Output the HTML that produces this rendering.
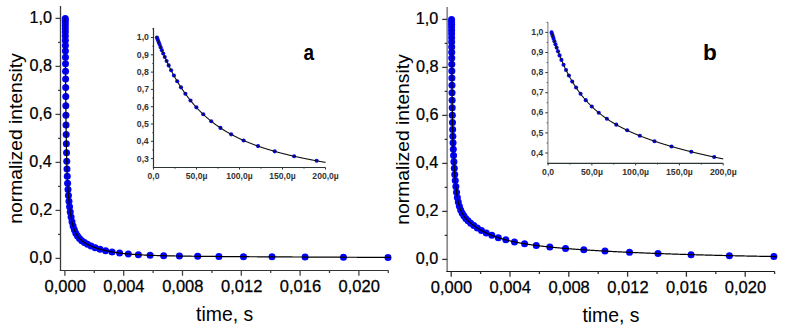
<!DOCTYPE html>
<html><head><meta charset="utf-8"><style>
html,body{margin:0;padding:0;background:#fff;}
svg{display:block;}
</style></head><body>
<svg width="792" height="335" viewBox="0 0 792 335">
<rect width="792" height="335" fill="#fff"/>
<circle cx="65.26" cy="18.40" r="3.5" fill="#0000ff"/>
<circle cx="65.27" cy="20.48" r="3.5" fill="#0000ff"/>
<circle cx="65.28" cy="22.85" r="3.5" fill="#0000ff"/>
<circle cx="65.29" cy="25.55" r="3.5" fill="#0000ff"/>
<circle cx="65.31" cy="28.63" r="3.5" fill="#0000ff"/>
<circle cx="65.32" cy="32.12" r="3.5" fill="#0000ff"/>
<circle cx="65.34" cy="36.06" r="3.5" fill="#0000ff"/>
<circle cx="65.37" cy="40.50" r="3.5" fill="#0000ff"/>
<circle cx="65.39" cy="45.47" r="3.5" fill="#0000ff"/>
<circle cx="65.42" cy="51.00" r="3.5" fill="#0000ff"/>
<circle cx="65.46" cy="57.13" r="3.5" fill="#0000ff"/>
<circle cx="65.50" cy="63.85" r="3.5" fill="#0000ff"/>
<circle cx="65.55" cy="71.19" r="3.5" fill="#0000ff"/>
<circle cx="65.61" cy="79.11" r="3.5" fill="#0000ff"/>
<circle cx="65.67" cy="87.56" r="3.5" fill="#0000ff"/>
<circle cx="65.75" cy="96.49" r="3.5" fill="#0000ff"/>
<circle cx="65.83" cy="105.79" r="3.5" fill="#0000ff"/>
<circle cx="65.93" cy="115.32" r="3.5" fill="#0000ff"/>
<circle cx="66.05" cy="124.95" r="3.5" fill="#0000ff"/>
<circle cx="66.19" cy="134.51" r="3.5" fill="#0000ff"/>
<circle cx="66.35" cy="143.83" r="3.5" fill="#0000ff"/>
<circle cx="66.53" cy="152.77" r="3.5" fill="#0000ff"/>
<circle cx="66.74" cy="161.20" r="3.5" fill="#0000ff"/>
<circle cx="66.99" cy="169.07" r="3.5" fill="#0000ff"/>
<circle cx="67.28" cy="176.37" r="3.5" fill="#0000ff"/>
<circle cx="67.61" cy="183.14" r="3.5" fill="#0000ff"/>
<circle cx="67.99" cy="189.47" r="3.5" fill="#0000ff"/>
<circle cx="68.44" cy="195.47" r="3.5" fill="#0000ff"/>
<circle cx="68.96" cy="201.21" r="3.5" fill="#0000ff"/>
<circle cx="69.56" cy="206.73" r="3.5" fill="#0000ff"/>
<circle cx="70.26" cy="212.03" r="3.5" fill="#0000ff"/>
<circle cx="71.07" cy="217.07" r="3.5" fill="#0000ff"/>
<circle cx="72.01" cy="221.76" r="3.5" fill="#0000ff"/>
<circle cx="73.10" cy="226.04" r="3.5" fill="#0000ff"/>
<circle cx="74.36" cy="229.85" r="3.5" fill="#0000ff"/>
<circle cx="75.83" cy="233.17" r="3.5" fill="#0000ff"/>
<circle cx="77.53" cy="236.03" r="3.5" fill="#0000ff"/>
<circle cx="79.50" cy="238.50" r="3.5" fill="#0000ff"/>
<circle cx="81.79" cy="240.66" r="3.5" fill="#0000ff"/>
<circle cx="84.44" cy="242.59" r="3.5" fill="#0000ff"/>
<circle cx="87.52" cy="244.37" r="3.5" fill="#0000ff"/>
<circle cx="91.09" cy="246.06" r="3.5" fill="#0000ff"/>
<circle cx="95.23" cy="247.68" r="3.5" fill="#0000ff"/>
<circle cx="100.04" cy="249.21" r="3.5" fill="#0000ff"/>
<circle cx="105.61" cy="250.63" r="3.5" fill="#0000ff"/>
<circle cx="112.08" cy="251.91" r="3.5" fill="#0000ff"/>
<circle cx="119.58" cy="253.02" r="3.5" fill="#0000ff"/>
<circle cx="128.28" cy="253.96" r="3.5" fill="#0000ff"/>
<circle cx="138.37" cy="254.71" r="3.5" fill="#0000ff"/>
<circle cx="150.08" cy="255.29" r="3.5" fill="#0000ff"/>
<circle cx="163.66" cy="255.73" r="3.5" fill="#0000ff"/>
<circle cx="179.41" cy="256.05" r="3.5" fill="#0000ff"/>
<circle cx="197.69" cy="256.30" r="3.5" fill="#0000ff"/>
<circle cx="218.89" cy="256.50" r="3.5" fill="#0000ff"/>
<circle cx="243.48" cy="256.69" r="3.5" fill="#0000ff"/>
<circle cx="272.00" cy="256.86" r="3.5" fill="#0000ff"/>
<circle cx="305.09" cy="257.04" r="3.5" fill="#0000ff"/>
<circle cx="343.47" cy="257.22" r="3.5" fill="#0000ff"/>
<circle cx="387.99" cy="257.39" r="3.5" fill="#0000ff"/>
<path d="M65.25,16.76 L65.27,19.98 L65.28,23.14 L65.30,26.23 L65.31,29.26 L65.32,32.22 L65.34,35.13 L65.35,37.97 L65.37,40.76 L65.38,43.49 L65.40,46.16 L65.41,48.78 L65.43,51.35 L65.44,53.86 L65.46,56.32 L65.47,58.74 L65.48,61.10 L65.50,63.42 L65.51,65.69 L65.53,67.92 L65.54,70.10 L65.56,72.24 L65.57,74.33 L65.59,76.39 L65.60,78.40 L65.62,80.37 L65.63,82.31 L65.64,84.21 L65.66,86.07 L65.67,87.89 L65.69,89.68 L65.70,91.43 L65.72,93.15 L65.73,94.84 L65.75,96.49 L65.76,98.12 L65.78,99.71 L65.79,101.27 L65.80,102.80 L65.82,104.30 L65.83,105.78 L65.85,107.23 L65.86,108.65 L65.88,110.04 L65.89,111.41 L65.91,112.75 L65.92,114.07 L65.94,115.36 L65.95,116.63 L65.96,117.88 L65.98,119.10 L65.99,120.30 L66.01,121.48 L66.02,122.64 L66.04,123.78 L66.05,124.89 L66.07,125.99 L66.08,127.07 L66.10,128.13 L66.11,129.17 L66.12,130.19 L66.14,131.20 L66.15,132.18 L66.17,133.15 L66.18,134.11 L66.20,135.04 L66.21,135.97 L66.23,136.87 L66.24,137.76 L66.26,138.64 L66.27,139.50 L66.28,140.34 L66.30,141.18 L66.31,142.00 L66.33,142.80 L66.34,143.59 L66.36,144.37 L66.37,145.14 L66.39,145.89 L66.40,146.64 L66.42,147.37 L66.43,148.09 L66.44,148.79 L66.46,149.49 L66.47,150.18 L66.49,150.85 L66.50,151.52 L66.52,152.17 L66.53,152.82 L66.55,153.45 L66.56,154.08 L66.58,154.70 L66.59,155.30 L66.60,155.90 L66.62,156.49 L66.63,157.07 L66.65,157.64 L66.66,158.21 L66.68,158.76 L66.69,159.31 L66.71,159.85 L66.72,160.39 L66.74,160.91 L66.75,161.43 L66.76,161.94 L66.78,162.45 L66.79,162.94 L66.81,163.44 L66.82,163.92 L66.84,164.40 L66.85,164.87 L66.87,165.33 L66.88,165.79 L66.90,166.25 L66.91,166.69 L66.92,167.14 L66.94,167.57 L66.95,168.00 L66.97,168.43 L66.98,168.85 L67.00,169.26 L67.01,169.67 L67.03,170.08 L67.04,170.48 L67.06,170.88 L67.07,171.27 L67.08,171.65 L67.10,172.03 L67.11,172.41 L67.13,172.78 L67.14,173.15 L67.16,173.52 L67.17,173.88 L67.19,174.23 L67.20,174.59 L67.22,174.94 L67.23,175.28 L67.24,175.62 L67.26,175.96 L67.27,176.29 L67.29,176.62 L67.30,176.95 L67.32,177.27 L67.33,177.60 L67.35,177.91 L67.36,178.23 L67.38,178.54 L67.39,178.84 L67.40,179.15 L67.42,179.45 L67.43,179.75 L67.45,180.04 L67.46,180.34 L67.48,180.63 L67.49,180.92 L67.51,181.20 L67.52,181.48 L67.54,181.76 L67.55,182.04 L67.56,182.31 L67.58,182.59 L67.59,182.85 L67.61,183.12 L67.62,183.39 L67.64,183.65 L67.65,183.91 L67.67,184.17 L67.68,184.42 L67.70,184.68 L67.71,184.93 L67.72,185.18 L67.74,185.43 L67.75,185.67 L67.77,185.92 L67.78,186.16 L67.80,186.40 L67.81,186.63 L67.83,186.87 L67.84,187.11 L67.86,187.34 L67.87,187.57 L67.88,187.80 L67.90,188.02 L67.91,188.25 L67.93,188.47 L67.94,188.69 L67.96,188.92 L67.97,189.13 L67.99,189.35 L68.00,189.57 L68.02,189.78 L68.03,189.99 L68.04,190.21 L68.06,190.41 L68.07,190.62 L68.09,190.83 L68.10,191.04 L68.12,191.24 L68.13,191.44 L68.15,191.64 L68.15,191.64 L68.25,193.09 L68.36,194.48 L68.47,195.80 L68.58,197.07 L68.68,198.28 L68.79,199.46 L68.90,200.58 L69.01,201.67 L69.11,202.72 L69.22,203.73 L69.33,204.72 L69.44,205.66 L69.54,206.58 L69.65,207.47 L69.76,208.34 L69.87,209.18 L69.97,209.99 L70.08,210.78 L70.19,211.55 L70.30,212.29 L70.40,213.02 L70.51,213.72 L70.62,214.41 L70.73,215.07 L70.84,215.72 L70.94,216.35 L71.05,216.96 L71.16,217.56 L71.27,218.14 L71.37,218.71 L71.48,219.26 L71.59,219.79 L71.70,220.32 L71.80,220.83 L71.91,221.32 L72.02,221.81 L72.13,222.28 L72.23,222.74 L72.34,223.19 L72.45,223.62 L72.56,224.05 L72.66,224.46 L72.77,224.87 L72.88,225.26 L72.99,225.65 L73.09,226.03 L73.20,226.39 L73.31,226.75 L73.42,227.10 L73.52,227.44 L73.63,227.78 L73.74,228.10 L73.85,228.42 L73.95,228.73 L74.06,229.04 L74.17,229.33 L74.28,229.62 L74.38,229.91 L74.49,230.19 L74.60,230.46 L74.71,230.72 L74.82,230.98 L74.92,231.24 L75.03,231.49 L75.14,231.73 L75.25,231.97 L75.35,232.20 L75.46,232.43 L75.57,232.65 L75.68,232.87 L75.78,233.08 L75.89,233.29 L76.00,233.50 L76.11,233.70 L76.21,233.90 L76.32,234.09 L76.43,234.28 L76.54,234.47 L76.64,234.65 L76.75,234.83 L76.86,235.01 L76.97,235.18 L77.07,235.35 L77.18,235.52 L77.29,235.68 L77.40,235.84 L77.50,236.00 L77.61,236.16 L77.72,236.31 L77.83,236.46 L77.93,236.61 L78.04,236.75 L78.15,236.89 L78.26,237.03 L78.36,237.17 L78.47,237.31 L78.58,237.44 L78.69,237.57 L78.79,237.70 L78.90,237.83 L79.01,237.95 L79.12,238.08 L79.23,238.20 L79.33,238.32 L79.44,238.44 L79.55,238.55 L79.66,238.67 L79.76,238.78 L79.87,238.89 L79.98,239.00 L80.09,239.11 L80.19,239.22 L80.30,239.32 L80.41,239.43 L80.52,239.53 L80.62,239.63 L80.73,239.73 L80.84,239.83 L80.95,239.93 L81.05,240.03 L81.16,240.12 L81.27,240.22 L81.38,240.31 L81.48,240.40 L81.59,240.49 L81.70,240.58 L81.81,240.67 L81.91,240.76 L82.02,240.85 L82.13,240.93 L82.24,241.02 L82.34,241.10 L82.45,241.19 L82.56,241.27 L82.67,241.35 L82.77,241.43 L82.88,241.51 L82.99,241.59 L83.10,241.67 L83.21,241.75 L83.31,241.82 L83.42,241.90 L83.53,241.97 L83.64,242.05 L83.74,242.12 L83.85,242.20 L83.96,242.27 L84.07,242.34 L84.17,242.41 L84.28,242.48 L84.39,242.55 L84.50,242.62 L84.60,242.69 L84.71,242.76 L84.82,242.83 L84.93,242.90 L85.03,242.96 L85.14,243.03 L85.25,243.09 L85.36,243.16 L85.46,243.22 L85.57,243.29 L85.68,243.35 L85.79,243.42 L85.89,243.48 L86.00,243.54 L86.11,243.60 L86.22,243.66 L86.32,243.72 L86.43,243.78 L86.54,243.84 L86.65,243.90 L86.75,243.96 L86.86,244.02 L86.97,244.08 L87.08,244.14 L87.18,244.20 L87.29,244.25 L87.40,244.31 L87.51,244.37 L87.62,244.42 L87.72,244.48 L87.83,244.53 L87.94,244.59 L88.05,244.64 L88.15,244.70 L88.26,244.75 L88.37,244.81 L88.48,244.86 L88.58,244.91 L88.69,244.97 L88.80,245.02 L88.91,245.07 L89.01,245.12 L89.12,245.17 L89.23,245.22 L89.34,245.27 L89.44,245.33 L89.55,245.38 L89.66,245.43 L89.77,245.48 L89.87,245.52 L89.98,245.57 L90.09,245.62 L90.20,245.67 L90.30,245.72 L90.41,245.77 L90.52,245.81 L90.63,245.86 L90.73,245.91 L90.84,245.96 L90.95,246.00 L91.06,246.05 L91.16,246.10 L91.27,246.14 L91.38,246.19 L91.49,246.23 L91.60,246.28 L91.70,246.32 L91.81,246.37 L91.92,246.41 L92.03,246.46 L92.13,246.50 L92.24,246.54 L92.35,246.59 L92.46,246.63 L92.56,246.67 L92.67,246.72 L92.78,246.76 L92.89,246.80 L92.99,246.84 L93.10,246.89 L93.21,246.93 L93.32,246.97 L93.42,247.01 L93.53,247.05 L93.64,247.09 L93.75,247.13 L93.85,247.17 L93.96,247.21 L94.07,247.25 L94.18,247.29 L94.28,247.33 L94.39,247.37 L94.50,247.41 L94.61,247.45 L94.71,247.49 L94.82,247.53 L94.93,247.57 L95.04,247.61 L95.14,247.65 L95.25,247.68 L95.36,247.72 L95.47,247.76 L95.58,247.80 L95.68,247.83 L95.79,247.87 L95.90,247.91 L96.01,247.94 L96.11,247.98 L96.22,248.02 L96.33,248.05 L96.44,248.09 L96.54,248.13 L96.65,248.16 L96.76,248.20 L96.87,248.23 L96.97,248.27 L97.08,248.30 L97.19,248.34 L97.30,248.37 L97.40,248.41 L97.51,248.44 L97.62,248.48 L97.73,248.51 L97.83,248.54 L97.94,248.58 L98.05,248.61 L98.16,248.64 L98.26,248.68 L98.37,248.71 L98.48,248.74 L98.59,248.78 L98.69,248.81 L98.80,248.84 L98.91,248.87 L99.02,248.91 L99.12,248.94 L99.23,248.97 L99.34,249.00 L99.45,249.03 L99.55,249.07 L99.66,249.10 L99.77,249.13 L99.88,249.16 L99.99,249.19 L100.09,249.22 L100.20,249.25 L100.31,249.28 L100.42,249.31 L100.52,249.34 L100.63,249.37 L100.74,249.40 L100.85,249.43 L100.95,249.46 L101.06,249.49 L101.17,249.52 L101.28,249.55 L101.38,249.58 L101.49,249.61 L101.60,249.64 L101.71,249.67 L101.81,249.69 L101.92,249.72 L102.03,249.75 L102.14,249.78 L102.24,249.81 L102.35,249.84 L102.46,249.86 L102.57,249.89 L102.67,249.92 L102.78,249.95 L102.89,249.97 L103.00,250.00 L103.10,250.03 L103.21,250.05 L103.32,250.08 L103.43,250.11 L103.53,250.14 L103.64,250.16 L103.75,250.19 L103.86,250.21 L103.97,250.24 L104.07,250.27 L104.18,250.29 L104.29,250.32 L104.40,250.34 L104.50,250.37 L104.61,250.39 L104.72,250.42 L104.83,250.44 L104.93,250.47 L105.04,250.49 L105.15,250.52 L105.26,250.54 L105.36,250.57 L105.47,250.59 L105.58,250.62 L105.69,250.64 L105.79,250.67 L105.90,250.69 L106.01,250.71 L106.12,250.74 L106.22,250.76 L106.33,250.79 L106.44,250.81 L106.55,250.83 L106.65,250.86 L106.76,250.88 L106.87,250.90 L106.98,250.93 L107.08,250.95 L107.19,250.97 L107.30,250.99 L107.41,251.02 L107.51,251.04 L107.62,251.06 L107.73,251.08 L107.84,251.11 L107.94,251.13 L108.05,251.15 L108.16,251.17 L108.27,251.19 L108.38,251.22 L108.48,251.24 L108.59,251.26 L108.70,251.28 L108.81,251.30 L108.91,251.32 L109.02,251.34 L109.13,251.36 L109.24,251.39 L109.34,251.41 L109.45,251.43 L109.56,251.45 L109.67,251.47 L109.77,251.49 L109.88,251.51 L109.99,251.53 L110.10,251.55 L110.20,251.57 L110.31,251.59 L110.42,251.61 L110.53,251.63 L110.63,251.65 L110.74,251.67 L110.85,251.69 L110.96,251.71 L111.06,251.73 L111.17,251.75 L111.28,251.77 L111.39,251.79 L111.49,251.80 L111.60,251.82 L111.71,251.84 L111.82,251.86 L111.92,251.88 L112.03,251.90 L112.14,251.92 L112.25,251.94 L112.36,251.95 L112.46,251.97 L112.57,251.99 L112.68,252.01 L112.79,252.03 L112.89,252.05 L113.00,252.06 L113.11,252.08 L113.22,252.10 L113.32,252.12 L113.43,252.13 L113.54,252.15 L113.65,252.17 L113.75,252.19 L113.86,252.20 L113.97,252.22 L114.08,252.24 L114.18,252.26 L114.29,252.27 L114.40,252.29 L114.51,252.31 L114.61,252.32 L114.72,252.34 L114.83,252.36 L114.94,252.37 L115.04,252.39 L115.15,252.41 L115.26,252.42 L115.37,252.44 L115.47,252.45 L115.58,252.47 L115.69,252.49 L115.80,252.50 L115.90,252.52 L116.01,252.53 L116.12,252.55 L116.23,252.57 L116.34,252.58 L116.44,252.60 L116.55,252.61 L116.66,252.63 L116.77,252.64 L116.87,252.66 L116.98,252.67 L117.09,252.69 L117.20,252.70 L117.30,252.72 L117.41,252.73 L117.52,252.75 L117.63,252.76 L117.73,252.78 L117.84,252.79 L117.95,252.81 L118.06,252.82 L118.16,252.84 L118.27,252.85 L118.38,252.87 L118.49,252.88 L118.59,252.90 L118.70,252.91 L118.81,252.92 L118.92,252.94 L119.02,252.95 L119.13,252.97 L119.24,252.98 L119.35,252.99 L119.45,253.01 L119.56,253.02 L119.67,253.03 L119.78,253.05 L119.88,253.06 L119.99,253.08 L120.10,253.09 L120.21,253.10 L120.31,253.12 L120.42,253.13 L120.53,253.14 L120.64,253.16 L120.75,253.17 L120.85,253.18 L120.96,253.19 L121.07,253.21 L121.18,253.22 L121.28,253.23 L121.39,253.25 L121.50,253.26 L121.61,253.27 L121.71,253.28 L121.82,253.30 L121.93,253.31 L122.04,253.32 L122.14,253.33 L122.25,253.35 L122.36,253.36 L122.47,253.37 L122.57,253.38 L122.68,253.39 L122.79,253.41 L122.90,253.42 L123.00,253.43 L123.11,253.44 L123.22,253.45 L123.33,253.47 L123.43,253.48 L123.54,253.49 L123.65,253.50 L123.76,253.51 L123.86,253.52 L123.97,253.54 L124.08,253.55 L124.19,253.56 L124.29,253.57 L124.40,253.58 L124.51,253.59 L124.62,253.60 L124.73,253.62 L124.83,253.63 L124.94,253.64 L125.05,253.65 L125.16,253.66 L125.26,253.67 L125.37,253.68 L125.48,253.69 L125.59,253.70 L125.69,253.71 L125.80,253.72 L125.91,253.73 L126.02,253.75 L126.12,253.76 L126.23,253.77 L126.34,253.78 L126.45,253.79 L126.55,253.80 L126.66,253.81 L126.77,253.82 L126.88,253.83 L126.98,253.84 L127.09,253.85 L127.20,253.86 L127.31,253.87 L127.41,253.88 L127.52,253.89 L127.63,253.90 L127.74,253.91 L127.84,253.92 L127.95,253.93 L128.06,253.94 L128.17,253.95 L128.27,253.96 L128.38,253.97 L128.49,253.98 L128.60,253.99 L128.71,254.00 L128.81,254.01 L128.92,254.02 L129.03,254.02 L129.14,254.03 L129.24,254.04 L129.35,254.05 L129.46,254.06 L129.57,254.07 L129.67,254.08 L129.78,254.09 L129.89,254.10 L130.00,254.11 L130.10,254.12 L130.21,254.13 L130.32,254.13 L130.43,254.14 L130.53,254.15 L130.64,254.16 L130.75,254.17 L130.86,254.18 L130.96,254.19 L131.07,254.20 L131.18,254.21 L131.29,254.21 L131.39,254.22 L131.50,254.23 L131.61,254.24 L131.72,254.25 L131.82,254.26 L131.93,254.26 L132.04,254.27 L132.15,254.28 L132.25,254.29 L132.36,254.30 L132.47,254.31 L132.58,254.31 L132.68,254.32 L132.79,254.33 L132.90,254.34 L133.01,254.35 L133.12,254.36 L133.22,254.36 L133.33,254.37 L133.44,254.38 L133.55,254.39 L133.65,254.39 L133.76,254.40 L133.87,254.41 L133.98,254.42 L134.08,254.43 L134.19,254.43 L134.30,254.44 L134.41,254.45 L134.51,254.46 L134.62,254.46 L134.73,254.47 L134.84,254.48 L134.94,254.49 L135.05,254.49 L135.16,254.50 L135.27,254.51 L135.37,254.52 L135.48,254.52 L135.59,254.53 L135.70,254.54 L135.80,254.55 L135.91,254.55 L136.02,254.56 L136.13,254.57 L136.23,254.57 L136.34,254.58 L136.45,254.59 L136.56,254.60 L136.66,254.60 L136.77,254.61 L136.88,254.62 L136.99,254.62 L137.10,254.63 L137.20,254.64 L137.31,254.64 L137.42,254.65 L137.53,254.66 L137.63,254.66 L137.74,254.67 L137.85,254.68 L137.96,254.68 L138.06,254.69 L138.17,254.70 L138.28,254.70 L138.39,254.71 L138.49,254.72 L138.60,254.72 L138.71,254.73 L138.82,254.74 L138.92,254.74 L139.03,254.75 L139.14,254.76 L139.25,254.76 L139.35,254.77 L139.46,254.78 L139.57,254.78 L139.68,254.79 L139.78,254.79 L139.89,254.80 L140.00,254.81 L140.11,254.81 L140.21,254.82 L140.32,254.83 L140.43,254.83 L140.54,254.84 L140.64,254.84 L140.75,254.85 L140.86,254.86 L140.97,254.86 L141.07,254.87 L141.18,254.87 L141.29,254.88 L141.40,254.89 L141.51,254.89 L141.61,254.90 L141.72,254.90 L141.83,254.91 L141.94,254.91 L142.04,254.92 L142.15,254.93 L142.26,254.93 L142.37,254.94 L142.47,254.94 L142.58,254.95 L142.69,254.95 L142.80,254.96 L142.90,254.96 L143.01,254.97 L143.12,254.98 L143.23,254.98 L143.33,254.99 L143.44,254.99 L143.55,255.00 L143.66,255.00 L143.76,255.01 L143.87,255.01 L143.98,255.02 L144.09,255.02 L144.19,255.03 L144.30,255.04 L144.41,255.04 L144.52,255.05 L144.62,255.05 L144.73,255.06 L144.84,255.06 L144.95,255.07 L145.05,255.07 L145.16,255.08 L145.27,255.08 L145.38,255.09 L145.49,255.09 L145.59,255.10 L145.70,255.10 L145.81,255.11 L145.92,255.11 L146.02,255.12 L146.13,255.12 L146.24,255.13 L146.35,255.13 L146.45,255.14 L146.56,255.14 L146.67,255.15 L146.78,255.15 L146.88,255.16 L146.99,255.16 L147.10,255.17 L147.21,255.17 L147.31,255.18 L147.42,255.18 L147.53,255.18 L147.64,255.19 L147.74,255.19 L147.85,255.20 L147.96,255.20 L148.07,255.21 L148.17,255.21 L148.28,255.22 L148.39,255.22 L148.50,255.23 L148.60,255.23 L148.71,255.24 L148.82,255.24 L148.93,255.24 L149.03,255.25 L149.14,255.25 L149.25,255.26 L149.36,255.26 L149.47,255.27 L149.57,255.27 L149.68,255.28 L149.79,255.28 L149.90,255.28 L150.00,255.29 L150.11,255.29 L150.22,255.30 L150.33,255.30 L150.43,255.31 L150.54,255.31 L150.65,255.31 L150.76,255.32 L150.86,255.32 L150.97,255.33 L151.08,255.33 L151.19,255.33 L151.29,255.34 L151.40,255.34 L151.51,255.35 L151.62,255.35 L151.72,255.36 L151.83,255.36 L151.94,255.36 L152.05,255.37 L152.15,255.37 L152.26,255.38 L152.37,255.38 L152.48,255.38 L152.58,255.39 L152.69,255.39 L152.80,255.40 L152.91,255.40 L153.01,255.40 L153.12,255.41 L153.23,255.41 L153.34,255.41 L153.44,255.42 L153.55,255.42 L153.66,255.43 L153.77,255.43 L153.88,255.43 L153.98,255.44 L154.09,255.44 L154.20,255.44 L154.31,255.45 L154.41,255.45 L154.52,255.46 L154.63,255.46 L154.74,255.46 L154.84,255.47 L154.95,255.47 L155.06,255.47 L155.17,255.48 L155.27,255.48 L155.38,255.49 L155.49,255.49 L155.60,255.49 L155.70,255.50 L155.81,255.50 L155.92,255.50 L156.03,255.51 L156.13,255.51 L156.24,255.51 L156.35,255.52 L156.46,255.52 L156.56,255.52 L156.67,255.53 L156.78,255.53 L156.89,255.53 L156.99,255.54 L157.10,255.54 L157.21,255.54 L157.32,255.55 L157.42,255.55 L157.53,255.55 L157.64,255.56 L157.75,255.56 L157.86,255.56 L157.96,255.57 L158.07,255.57 L158.18,255.57 L158.29,255.58 L158.39,255.58 L158.50,255.58 L158.61,255.59 L158.72,255.59 L158.82,255.59 L158.93,255.60 L159.04,255.60 L159.15,255.60 L159.25,255.61 L159.36,255.61 L159.47,255.61 L159.58,255.62 L159.68,255.62 L159.79,255.62 L159.90,255.63 L160.01,255.63 L160.11,255.63 L160.22,255.63 L160.33,255.64 L160.44,255.64 L160.54,255.64 L160.65,255.65 L160.76,255.65 L160.87,255.65 L160.97,255.66 L161.08,255.66 L161.19,255.66 L161.30,255.66 L161.40,255.67 L161.51,255.67 L161.62,255.67 L161.73,255.68 L161.83,255.68 L161.94,255.68 L162.05,255.69 L162.16,255.69 L162.27,255.69 L162.37,255.69 L162.48,255.70 L162.59,255.70 L162.70,255.70 L162.80,255.71 L162.91,255.71 L163.02,255.71 L163.13,255.71 L163.23,255.72 L163.34,255.72 L163.45,255.72 L163.56,255.72 L163.66,255.73 L163.77,255.73 L163.88,255.73 L163.99,255.74 L164.09,255.74 L164.20,255.74 L164.31,255.74 L164.42,255.75 L164.52,255.75 L164.63,255.75 L164.74,255.75 L164.85,255.76 L164.95,255.76 L165.06,255.76 L165.17,255.77 L165.28,255.77 L165.38,255.77 L165.49,255.77 L165.60,255.78 L165.71,255.78 L165.81,255.78 L165.92,255.78 L166.03,255.79 L166.14,255.79 L166.25,255.79 L166.35,255.79 L166.46,255.80 L166.57,255.80 L166.68,255.80 L166.78,255.80 L166.89,255.81 L167.00,255.81 L167.11,255.81 L167.21,255.81 L167.32,255.82 L167.43,255.82 L167.54,255.82 L167.64,255.82 L167.75,255.83 L167.86,255.83 L167.97,255.83 L168.07,255.83 L168.18,255.84 L168.29,255.84 L168.40,255.84 L168.50,255.84 L168.61,255.85 L168.72,255.85 L168.83,255.85 L168.93,255.85 L169.04,255.85 L169.15,255.86 L169.26,255.86 L169.36,255.86 L169.47,255.86 L169.58,255.87 L169.69,255.87 L169.79,255.87 L169.90,255.87 L170.01,255.88 L170.12,255.88 L170.23,255.88 L170.33,255.88 L170.44,255.88 L170.55,255.89 L170.66,255.89 L170.76,255.89 L170.87,255.89 L170.98,255.90 L171.09,255.90 L171.19,255.90 L171.30,255.90 L171.41,255.90 L171.52,255.91 L171.62,255.91 L171.73,255.91 L171.84,255.91 L171.95,255.92 L172.05,255.92 L172.16,255.92 L172.27,255.92 L172.38,255.92 L172.48,255.93 L172.59,255.93 L172.70,255.93 L172.81,255.93 L172.91,255.93 L173.02,255.94 L173.13,255.94 L173.24,255.94 L173.34,255.94 L173.45,255.95 L173.56,255.95 L173.67,255.95 L173.77,255.95 L173.88,255.95 L173.99,255.96 L174.10,255.96 L174.20,255.96 L174.31,255.96 L174.42,255.96 L174.53,255.97 L174.64,255.97 L174.74,255.97 L174.85,255.97 L174.96,255.97 L175.07,255.98 L175.17,255.98 L175.28,255.98 L175.39,255.98 L175.50,255.98 L175.60,255.99 L175.71,255.99 L175.82,255.99 L175.93,255.99 L176.03,255.99 L176.14,256.00 L176.25,256.00 L176.36,256.00 L176.46,256.00 L176.57,256.00 L176.68,256.01 L176.79,256.01 L176.89,256.01 L177.00,256.01 L177.11,256.01 L177.22,256.01 L177.32,256.02 L177.43,256.02 L177.54,256.02 L177.65,256.02 L177.75,256.02 L177.86,256.03 L177.97,256.03 L178.08,256.03 L178.18,256.03 L178.29,256.03 L178.40,256.04 L178.51,256.04 L178.62,256.04 L178.72,256.04 L178.83,256.04 L178.94,256.04 L179.05,256.05 L179.15,256.05 L179.26,256.05 L179.37,256.05 L179.48,256.05 L179.58,256.05 L179.69,256.06 L179.80,256.06 L179.91,256.06 L180.01,256.06 L180.12,256.06 L180.23,256.07 L180.34,256.07 L180.44,256.07 L180.55,256.07 L180.66,256.07 L180.77,256.07 L180.87,256.08 L180.98,256.08 L181.09,256.08 L181.20,256.08 L181.30,256.08 L181.41,256.08 L181.52,256.09 L181.63,256.09 L181.73,256.09 L181.84,256.09 L181.95,256.09 L182.06,256.09 L182.16,256.10 L182.27,256.10 L182.38,256.10 L182.49,256.10 L182.60,256.10 L182.70,256.10 L182.81,256.11 L182.92,256.11 L183.03,256.11 L183.13,256.11 L183.24,256.11 L183.35,256.11 L183.46,256.12 L183.56,256.12 L183.67,256.12 L183.78,256.12 L183.89,256.12 L183.99,256.12 L184.10,256.13 L184.21,256.13 L184.32,256.13 L184.42,256.13 L184.53,256.13 L184.64,256.13 L184.75,256.13 L184.85,256.14 L184.96,256.14 L185.07,256.14 L185.18,256.14 L185.28,256.14 L185.39,256.14 L185.50,256.15 L185.61,256.15 L185.71,256.15 L185.82,256.15 L185.93,256.15 L186.04,256.15 L186.14,256.16 L186.25,256.16 L186.36,256.16 L186.47,256.16 L186.57,256.16 L186.68,256.16 L186.79,256.16 L186.90,256.17 L187.01,256.17 L187.11,256.17 L187.22,256.17 L187.33,256.17 L187.44,256.17 L187.54,256.17 L187.65,256.18 L187.76,256.18 L187.87,256.18 L187.97,256.18 L188.08,256.18 L188.19,256.18 L188.30,256.18 L188.40,256.19 L188.51,256.19 L188.62,256.19 L188.73,256.19 L188.83,256.19 L188.94,256.19 L189.05,256.19 L189.16,256.20 L189.26,256.20 L189.37,256.20 L189.48,256.20 L189.59,256.20 L189.69,256.20 L189.80,256.20 L189.91,256.21 L190.02,256.21 L190.12,256.21 L190.23,256.21 L190.34,256.21 L190.45,256.21 L190.55,256.21 L190.66,256.22 L190.77,256.22 L190.88,256.22 L190.99,256.22 L191.09,256.22 L191.20,256.22 L191.31,256.22 L191.42,256.23 L191.52,256.23 L191.63,256.23 L191.74,256.23 L191.85,256.23 L191.95,256.23 L192.06,256.23 L192.17,256.24 L192.28,256.24 L192.38,256.24 L192.49,256.24 L192.60,256.24 L192.71,256.24 L192.81,256.24 L192.92,256.24 L193.03,256.25 L193.14,256.25 L193.24,256.25 L193.35,256.25 L193.46,256.25 L193.57,256.25 L193.67,256.25 L193.78,256.25 L193.89,256.26 L194.00,256.26 L194.10,256.26 L194.21,256.26 L194.32,256.26 L194.43,256.26 L194.53,256.26 L194.64,256.27 L194.75,256.27 L194.86,256.27 L194.96,256.27 L195.07,256.27 L195.18,256.27 L195.29,256.27 L195.40,256.27 L195.50,256.28 L195.61,256.28 L195.72,256.28 L195.83,256.28 L195.93,256.28 L196.04,256.28 L196.15,256.28 L196.26,256.28 L196.36,256.29 L196.47,256.29 L196.58,256.29 L196.69,256.29 L196.79,256.29 L196.90,256.29 L197.01,256.29 L197.12,256.29 L197.22,256.30 L197.33,256.30 L197.44,256.30 L197.55,256.30 L197.65,256.30 L197.76,256.30 L197.87,256.30 L197.98,256.30 L198.08,256.30 L198.19,256.31 L198.30,256.31 L198.41,256.31 L198.51,256.31 L198.62,256.31 L198.73,256.31 L198.84,256.31 L198.94,256.31 L199.05,256.32 L199.16,256.32 L199.27,256.32 L199.38,256.32 L199.48,256.32 L199.59,256.32 L199.70,256.32 L199.81,256.32 L199.91,256.32 L200.02,256.33 L200.13,256.33 L200.24,256.33 L200.34,256.33 L200.45,256.33 L200.56,256.33 L200.67,256.33 L200.77,256.33 L200.88,256.34 L200.99,256.34 L201.10,256.34 L201.20,256.34 L201.31,256.34 L201.42,256.34 L201.53,256.34 L201.63,256.34 L201.74,256.34 L201.85,256.35 L201.96,256.35 L202.06,256.35 L202.17,256.35 L202.28,256.35 L202.39,256.35 L202.49,256.35 L202.60,256.35 L202.71,256.35 L202.82,256.36 L202.92,256.36 L203.03,256.36 L203.14,256.36 L203.25,256.36 L203.36,256.36 L203.46,256.36 L203.57,256.36 L203.68,256.36 L203.79,256.37 L203.89,256.37 L204.00,256.37 L204.11,256.37 L204.22,256.37 L204.32,256.37 L204.43,256.37 L204.54,256.37 L204.65,256.37 L204.75,256.38 L204.86,256.38 L204.97,256.38 L205.08,256.38 L205.18,256.38 L205.29,256.38 L205.40,256.38 L205.51,256.38 L205.61,256.38 L205.72,256.39 L205.83,256.39 L205.94,256.39 L206.04,256.39 L206.15,256.39 L206.26,256.39 L206.37,256.39 L206.47,256.39 L206.58,256.39 L206.69,256.39 L206.80,256.40 L206.90,256.40 L207.01,256.40 L207.12,256.40 L207.23,256.40 L207.33,256.40 L207.44,256.40 L207.55,256.40 L207.66,256.40 L207.77,256.40 L207.87,256.41 L207.98,256.41 L208.09,256.41 L208.20,256.41 L208.30,256.41 L208.41,256.41 L208.52,256.41 L208.63,256.41 L208.73,256.41 L208.84,256.42 L208.95,256.42 L209.06,256.42 L209.16,256.42 L209.27,256.42 L209.38,256.42 L209.49,256.42 L209.59,256.42 L209.70,256.42 L209.81,256.42 L209.92,256.43 L210.02,256.43 L210.13,256.43 L210.24,256.43 L210.35,256.43 L210.45,256.43 L210.56,256.43 L210.67,256.43 L210.78,256.43 L210.88,256.43 L210.99,256.44 L211.10,256.44 L211.21,256.44 L211.31,256.44 L211.42,256.44 L211.53,256.44 L211.64,256.44 L211.75,256.44 L211.85,256.44 L211.96,256.44 L212.07,256.45 L212.18,256.45 L212.28,256.45 L212.39,256.45 L212.50,256.45 L212.61,256.45 L212.71,256.45 L212.82,256.45 L212.93,256.45 L213.04,256.45 L213.14,256.45 L213.25,256.46 L213.36,256.46 L213.47,256.46 L213.57,256.46 L213.68,256.46 L213.79,256.46 L213.90,256.46 L214.00,256.46 L214.11,256.46 L214.22,256.46 L214.33,256.47 L214.43,256.47 L214.54,256.47 L214.65,256.47 L214.76,256.47 L214.86,256.47 L214.97,256.47 L215.08,256.47 L215.19,256.47 L215.29,256.47 L215.40,256.47 L215.51,256.48 L215.62,256.48 L215.72,256.48 L215.83,256.48 L215.94,256.48 L216.05,256.48 L216.16,256.48 L216.26,256.48 L216.37,256.48 L216.48,256.48 L216.59,256.48 L216.69,256.49 L216.80,256.49 L216.91,256.49 L217.02,256.49 L217.12,256.49 L217.23,256.49 L217.34,256.49 L217.45,256.49 L217.55,256.49 L217.66,256.49 L217.77,256.49 L217.88,256.50 L217.98,256.50 L218.09,256.50 L218.20,256.50 L218.31,256.50 L218.41,256.50 L218.52,256.50 L218.63,256.50 L218.74,256.50 L218.84,256.50 L218.95,256.50 L219.06,256.51 L219.17,256.51 L219.27,256.51 L219.38,256.51 L219.49,256.51 L219.60,256.51 L219.70,256.51 L219.81,256.51 L219.92,256.51 L220.03,256.51 L220.14,256.51 L220.24,256.52 L220.35,256.52 L220.46,256.52 L220.57,256.52 L220.67,256.52 L220.78,256.52 L220.89,256.52 L221.00,256.52 L221.10,256.52 L221.21,256.52 L221.32,256.52 L221.43,256.53 L221.53,256.53 L221.64,256.53 L221.75,256.53 L221.86,256.53 L221.96,256.53 L222.07,256.53 L222.18,256.53 L222.29,256.53 L222.39,256.53 L222.50,256.53 L222.61,256.53 L222.72,256.54 L222.82,256.54 L222.93,256.54 L223.04,256.54 L223.15,256.54 L223.25,256.54 L223.36,256.54 L223.47,256.54 L223.58,256.54 L223.68,256.54 L223.79,256.54 L223.90,256.54 L224.01,256.55 L224.12,256.55 L224.22,256.55 L224.33,256.55 L224.44,256.55 L224.55,256.55 L224.65,256.55 L224.76,256.55 L224.87,256.55 L224.98,256.55 L225.08,256.55 L225.19,256.56 L225.30,256.56 L225.41,256.56 L225.51,256.56 L225.62,256.56 L225.73,256.56 L225.84,256.56 L225.94,256.56 L226.05,256.56 L226.16,256.56 L226.27,256.56 L226.37,256.56 L226.48,256.57 L226.59,256.57 L226.70,256.57 L226.80,256.57 L226.91,256.57 L227.02,256.57 L227.13,256.57 L227.23,256.57 L227.34,256.57 L227.45,256.57 L227.56,256.57 L227.66,256.57 L227.77,256.57 L227.88,256.58 L227.99,256.58 L228.09,256.58 L228.20,256.58 L228.31,256.58 L228.42,256.58 L228.53,256.58 L228.63,256.58 L228.74,256.58 L228.85,256.58 L228.96,256.58 L229.06,256.58 L229.17,256.59 L229.28,256.59 L229.39,256.59 L229.49,256.59 L229.60,256.59 L229.71,256.59 L229.82,256.59 L229.92,256.59 L230.03,256.59 L230.14,256.59 L230.25,256.59 L230.35,256.59 L230.46,256.60 L230.57,256.60 L230.68,256.60 L230.78,256.60 L230.89,256.60 L231.00,256.60 L231.11,256.60 L231.21,256.60 L231.32,256.60 L231.43,256.60 L231.54,256.60 L231.64,256.60 L231.75,256.60 L231.86,256.61 L231.97,256.61 L232.07,256.61 L232.18,256.61 L232.29,256.61 L232.40,256.61 L232.51,256.61 L232.61,256.61 L232.72,256.61 L232.83,256.61 L232.94,256.61 L233.04,256.61 L233.15,256.61 L233.26,256.62 L233.37,256.62 L233.47,256.62 L233.58,256.62 L233.69,256.62 L233.80,256.62 L233.90,256.62 L234.01,256.62 L234.12,256.62 L234.23,256.62 L234.33,256.62 L234.44,256.62 L234.55,256.63 L234.66,256.63 L234.76,256.63 L234.87,256.63 L234.98,256.63 L235.09,256.63 L235.19,256.63 L235.30,256.63 L235.41,256.63 L235.52,256.63 L235.62,256.63 L235.73,256.63 L235.84,256.63 L235.95,256.64 L236.05,256.64 L236.16,256.64 L236.27,256.64 L236.38,256.64 L236.48,256.64 L236.59,256.64 L236.70,256.64 L236.81,256.64 L236.92,256.64 L237.02,256.64 L237.13,256.64 L237.24,256.64 L237.35,256.64 L237.45,256.65 L237.56,256.65 L237.67,256.65 L237.78,256.65 L237.88,256.65 L237.99,256.65 L238.10,256.65 L238.21,256.65 L238.31,256.65 L238.42,256.65 L238.53,256.65 L238.64,256.65 L238.74,256.65 L238.85,256.66 L238.96,256.66 L239.07,256.66 L239.17,256.66 L239.28,256.66 L239.39,256.66 L239.50,256.66 L239.60,256.66 L239.71,256.66 L239.82,256.66 L239.93,256.66 L240.03,256.66 L240.14,256.66 L240.25,256.67 L240.36,256.67 L240.46,256.67 L240.57,256.67 L240.68,256.67 L240.79,256.67 L240.90,256.67 L241.00,256.67 L241.11,256.67 L241.22,256.67 L241.33,256.67 L241.43,256.67 L241.54,256.67 L241.65,256.67 L241.76,256.68 L241.86,256.68 L241.97,256.68 L242.08,256.68 L242.19,256.68 L242.29,256.68 L242.40,256.68 L242.51,256.68 L242.62,256.68 L242.72,256.68 L242.83,256.68 L242.94,256.68 L243.05,256.68 L243.15,256.68 L243.26,256.69 L243.37,256.69 L243.48,256.69 L243.58,256.69 L243.69,256.69 L243.80,256.69 L243.91,256.69 L244.01,256.69 L244.12,256.69 L244.23,256.69 L244.34,256.69 L244.44,256.69 L244.55,256.69 L244.66,256.69 L244.77,256.70 L244.88,256.70 L244.98,256.70 L245.09,256.70 L245.20,256.70 L245.31,256.70 L245.41,256.70 L245.52,256.70 L245.63,256.70 L245.74,256.70 L245.84,256.70 L245.95,256.70 L246.06,256.70 L246.17,256.70 L246.27,256.71 L246.38,256.71 L246.49,256.71 L246.60,256.71 L246.70,256.71 L246.81,256.71 L246.92,256.71 L247.03,256.71 L247.13,256.71 L247.24,256.71 L247.35,256.71 L247.46,256.71 L247.56,256.71 L247.67,256.71 L247.78,256.72 L247.89,256.72 L247.99,256.72 L248.10,256.72 L248.21,256.72 L248.32,256.72 L248.42,256.72 L248.53,256.72 L248.64,256.72 L248.75,256.72 L248.85,256.72 L248.96,256.72 L249.07,256.72 L249.18,256.72 L249.29,256.73 L249.39,256.73 L249.50,256.73 L249.61,256.73 L249.72,256.73 L249.82,256.73 L249.93,256.73 L250.04,256.73 L250.15,256.73 L250.25,256.73 L250.36,256.73 L250.47,256.73 L250.58,256.73 L250.68,256.73 L250.79,256.74 L250.90,256.74 L251.01,256.74 L251.11,256.74 L251.22,256.74 L251.33,256.74 L251.44,256.74 L251.54,256.74 L251.65,256.74 L251.76,256.74 L251.87,256.74 L251.97,256.74 L252.08,256.74 L252.19,256.74 L252.30,256.74 L252.40,256.75 L252.51,256.75 L252.62,256.75 L252.73,256.75 L252.83,256.75 L252.94,256.75 L253.05,256.75 L253.16,256.75 L253.27,256.75 L253.37,256.75 L253.48,256.75 L253.59,256.75 L253.70,256.75 L253.80,256.75 L253.91,256.75 L254.02,256.76 L254.13,256.76 L254.23,256.76 L254.34,256.76 L254.45,256.76 L254.56,256.76 L254.66,256.76 L254.77,256.76 L254.88,256.76 L254.99,256.76 L255.09,256.76 L255.20,256.76 L255.31,256.76 L255.42,256.76 L255.52,256.77 L255.63,256.77 L255.74,256.77 L255.85,256.77 L255.95,256.77 L256.06,256.77 L256.17,256.77 L256.28,256.77 L256.38,256.77 L256.49,256.77 L256.60,256.77 L256.71,256.77 L256.81,256.77 L256.92,256.77 L257.03,256.77 L257.14,256.78 L257.25,256.78 L257.35,256.78 L257.46,256.78 L257.57,256.78 L257.68,256.78 L257.78,256.78 L257.89,256.78 L258.00,256.78 L258.11,256.78 L258.21,256.78 L258.32,256.78 L258.43,256.78 L258.54,256.78 L258.64,256.78 L258.75,256.78 L258.86,256.79 L258.97,256.79 L259.07,256.79 L259.18,256.79 L259.29,256.79 L259.40,256.79 L259.50,256.79 L259.61,256.79 L259.72,256.79 L259.83,256.79 L259.93,256.79 L260.04,256.79 L260.15,256.79 L260.26,256.79 L260.36,256.79 L260.47,256.80 L260.58,256.80 L260.69,256.80 L260.79,256.80 L260.90,256.80 L261.01,256.80 L261.12,256.80 L261.22,256.80 L261.33,256.80 L261.44,256.80 L261.55,256.80 L261.66,256.80 L261.76,256.80 L261.87,256.80 L261.98,256.80 L262.09,256.81 L262.19,256.81 L262.30,256.81 L262.41,256.81 L262.52,256.81 L262.62,256.81 L262.73,256.81 L262.84,256.81 L262.95,256.81 L263.05,256.81 L263.16,256.81 L263.27,256.81 L263.38,256.81 L263.48,256.81 L263.59,256.81 L263.70,256.81 L263.81,256.82 L263.91,256.82 L264.02,256.82 L264.13,256.82 L264.24,256.82 L264.34,256.82 L264.45,256.82 L264.56,256.82 L264.67,256.82 L264.77,256.82 L264.88,256.82 L264.99,256.82 L265.10,256.82 L265.20,256.82 L265.31,256.82 L265.42,256.83 L265.53,256.83 L265.64,256.83 L265.74,256.83 L265.85,256.83 L265.96,256.83 L266.07,256.83 L266.17,256.83 L266.28,256.83 L266.39,256.83 L266.50,256.83 L266.60,256.83 L266.71,256.83 L266.82,256.83 L266.93,256.83 L267.03,256.83 L267.14,256.84 L267.25,256.84 L267.36,256.84 L267.46,256.84 L267.57,256.84 L267.68,256.84 L267.79,256.84 L267.89,256.84 L268.00,256.84 L268.11,256.84 L268.22,256.84 L268.32,256.84 L268.43,256.84 L268.54,256.84 L268.65,256.84 L268.75,256.84 L268.86,256.85 L268.97,256.85 L269.08,256.85 L269.18,256.85 L269.29,256.85 L269.40,256.85 L269.51,256.85 L269.61,256.85 L269.72,256.85 L269.83,256.85 L269.94,256.85 L270.05,256.85 L270.15,256.85 L270.26,256.85 L270.37,256.85 L270.48,256.85 L270.58,256.86 L270.69,256.86 L270.80,256.86 L270.91,256.86 L271.01,256.86 L271.12,256.86 L271.23,256.86 L271.34,256.86 L271.44,256.86 L271.55,256.86 L271.66,256.86 L271.77,256.86 L271.87,256.86 L271.98,256.86 L272.09,256.86 L272.20,256.86 L272.30,256.87 L272.41,256.87 L272.52,256.87 L272.63,256.87 L272.73,256.87 L272.84,256.87 L272.95,256.87 L273.06,256.87 L273.16,256.87 L273.27,256.87 L273.38,256.87 L273.49,256.87 L273.59,256.87 L273.70,256.87 L273.81,256.87 L273.92,256.87 L274.03,256.87 L274.13,256.88 L274.24,256.88 L274.35,256.88 L274.46,256.88 L274.56,256.88 L274.67,256.88 L274.78,256.88 L274.89,256.88 L274.99,256.88 L275.10,256.88 L275.21,256.88 L275.32,256.88 L275.42,256.88 L275.53,256.88 L275.64,256.88 L275.75,256.88 L275.85,256.89 L275.96,256.89 L276.07,256.89 L276.18,256.89 L276.28,256.89 L276.39,256.89 L276.50,256.89 L276.61,256.89 L276.71,256.89 L276.82,256.89 L276.93,256.89 L277.04,256.89 L277.14,256.89 L277.25,256.89 L277.36,256.89 L277.47,256.89 L277.57,256.89 L277.68,256.90 L277.79,256.90 L277.90,256.90 L278.01,256.90 L278.11,256.90 L278.22,256.90 L278.33,256.90 L278.44,256.90 L278.54,256.90 L278.65,256.90 L278.76,256.90 L278.87,256.90 L278.97,256.90 L279.08,256.90 L279.19,256.90 L279.30,256.90 L279.40,256.91 L279.51,256.91 L279.62,256.91 L279.73,256.91 L279.83,256.91 L279.94,256.91 L280.05,256.91 L280.16,256.91 L280.26,256.91 L280.37,256.91 L280.48,256.91 L280.59,256.91 L280.69,256.91 L280.80,256.91 L280.91,256.91 L281.02,256.91 L281.12,256.91 L281.23,256.92 L281.34,256.92 L281.45,256.92 L281.55,256.92 L281.66,256.92 L281.77,256.92 L281.88,256.92 L281.98,256.92 L282.09,256.92 L282.20,256.92 L282.31,256.92 L282.42,256.92 L282.52,256.92 L282.63,256.92 L282.74,256.92 L282.85,256.92 L282.95,256.92 L283.06,256.93 L283.17,256.93 L283.28,256.93 L283.38,256.93 L283.49,256.93 L283.60,256.93 L283.71,256.93 L283.81,256.93 L283.92,256.93 L284.03,256.93 L284.14,256.93 L284.24,256.93 L284.35,256.93 L284.46,256.93 L284.57,256.93 L284.67,256.93 L284.78,256.93 L284.89,256.94 L285.00,256.94 L285.10,256.94 L285.21,256.94 L285.32,256.94 L285.43,256.94 L285.53,256.94 L285.64,256.94 L285.75,256.94 L285.86,256.94 L285.96,256.94 L286.07,256.94 L286.18,256.94 L286.29,256.94 L286.40,256.94 L286.50,256.94 L286.61,256.94 L286.72,256.94 L286.83,256.95 L286.93,256.95 L287.04,256.95 L287.15,256.95 L287.26,256.95 L287.36,256.95 L287.47,256.95 L287.58,256.95 L287.69,256.95 L287.79,256.95 L287.90,256.95 L288.01,256.95 L288.12,256.95 L288.22,256.95 L288.33,256.95 L288.44,256.95 L288.55,256.95 L288.65,256.96 L288.76,256.96 L288.87,256.96 L288.98,256.96 L289.08,256.96 L289.19,256.96 L289.30,256.96 L289.41,256.96 L289.51,256.96 L289.62,256.96 L289.73,256.96 L289.84,256.96 L289.94,256.96 L290.05,256.96 L290.16,256.96 L290.27,256.96 L290.37,256.96 L290.48,256.96 L290.59,256.97 L290.70,256.97 L290.81,256.97 L290.91,256.97 L291.02,256.97 L291.13,256.97 L291.24,256.97 L291.34,256.97 L291.45,256.97 L291.56,256.97 L291.67,256.97 L291.77,256.97 L291.88,256.97 L291.99,256.97 L292.10,256.97 L292.20,256.97 L292.31,256.97 L292.42,256.98 L292.53,256.98 L292.63,256.98 L292.74,256.98 L292.85,256.98 L292.96,256.98 L293.06,256.98 L293.17,256.98 L293.28,256.98 L293.39,256.98 L293.49,256.98 L293.60,256.98 L293.71,256.98 L293.82,256.98 L293.92,256.98 L294.03,256.98 L294.14,256.98 L294.25,256.98 L294.35,256.99 L294.46,256.99 L294.57,256.99 L294.68,256.99 L294.79,256.99 L294.89,256.99 L295.00,256.99 L295.11,256.99 L295.22,256.99 L295.32,256.99 L295.43,256.99 L295.54,256.99 L295.65,256.99 L295.75,256.99 L295.86,256.99 L295.97,256.99 L296.08,256.99 L296.18,256.99 L296.29,257.00 L296.40,257.00 L296.51,257.00 L296.61,257.00 L296.72,257.00 L296.83,257.00 L296.94,257.00 L297.04,257.00 L297.15,257.00 L297.26,257.00 L297.37,257.00 L297.47,257.00 L297.58,257.00 L297.69,257.00 L297.80,257.00 L297.90,257.00 L298.01,257.00 L298.12,257.00 L298.23,257.01 L298.33,257.01 L298.44,257.01 L298.55,257.01 L298.66,257.01 L298.77,257.01 L298.87,257.01 L298.98,257.01 L299.09,257.01 L299.20,257.01 L299.30,257.01 L299.41,257.01 L299.52,257.01 L299.63,257.01 L299.73,257.01 L299.84,257.01 L299.95,257.01 L300.06,257.01 L300.16,257.02 L300.27,257.02 L300.38,257.02 L300.49,257.02 L300.59,257.02 L300.70,257.02 L300.81,257.02 L300.92,257.02 L301.02,257.02 L301.13,257.02 L301.24,257.02 L301.35,257.02 L301.45,257.02 L301.56,257.02 L301.67,257.02 L301.78,257.02 L301.88,257.02 L301.99,257.02 L302.10,257.02 L302.21,257.03 L302.31,257.03 L302.42,257.03 L302.53,257.03 L302.64,257.03 L302.74,257.03 L302.85,257.03 L302.96,257.03 L303.07,257.03 L303.18,257.03 L303.28,257.03 L303.39,257.03 L303.50,257.03 L303.61,257.03 L303.71,257.03 L303.82,257.03 L303.93,257.03 L304.04,257.03 L304.14,257.04 L304.25,257.04 L304.36,257.04 L304.47,257.04 L304.57,257.04 L304.68,257.04 L304.79,257.04 L304.90,257.04 L305.00,257.04 L305.11,257.04 L305.22,257.04 L305.33,257.04 L305.43,257.04 L305.54,257.04 L305.65,257.04 L305.76,257.04 L305.86,257.04 L305.97,257.04 L306.08,257.04 L306.19,257.05 L306.29,257.05 L306.40,257.05 L306.51,257.05 L306.62,257.05 L306.72,257.05 L306.83,257.05 L306.94,257.05 L307.05,257.05 L307.16,257.05 L307.26,257.05 L307.37,257.05 L307.48,257.05 L307.59,257.05 L307.69,257.05 L307.80,257.05 L307.91,257.05 L308.02,257.05 L308.12,257.05 L308.23,257.06 L308.34,257.06 L308.45,257.06 L308.55,257.06 L308.66,257.06 L308.77,257.06 L308.88,257.06 L308.98,257.06 L309.09,257.06 L309.20,257.06 L309.31,257.06 L309.41,257.06 L309.52,257.06 L309.63,257.06 L309.74,257.06 L309.84,257.06 L309.95,257.06 L310.06,257.06 L310.17,257.06 L310.27,257.07 L310.38,257.07 L310.49,257.07 L310.60,257.07 L310.70,257.07 L310.81,257.07 L310.92,257.07 L311.03,257.07 L311.14,257.07 L311.24,257.07 L311.35,257.07 L311.46,257.07 L311.57,257.07 L311.67,257.07 L311.78,257.07 L311.89,257.07 L312.00,257.07 L312.10,257.07 L312.21,257.07 L312.32,257.08 L312.43,257.08 L312.53,257.08 L312.64,257.08 L312.75,257.08 L312.86,257.08 L312.96,257.08 L313.07,257.08 L313.18,257.08 L313.29,257.08 L313.39,257.08 L313.50,257.08 L313.61,257.08 L313.72,257.08 L313.82,257.08 L313.93,257.08 L314.04,257.08 L314.15,257.08 L314.25,257.08 L314.36,257.09 L314.47,257.09 L314.58,257.09 L314.68,257.09 L314.79,257.09 L314.90,257.09 L315.01,257.09 L315.11,257.09 L315.22,257.09 L315.33,257.09 L315.44,257.09 L315.55,257.09 L315.65,257.09 L315.76,257.09 L315.87,257.09 L315.98,257.09 L316.08,257.09 L316.19,257.09 L316.30,257.09 L316.41,257.09 L316.51,257.10 L316.62,257.10 L316.73,257.10 L316.84,257.10 L316.94,257.10 L317.05,257.10 L317.16,257.10 L317.27,257.10 L317.37,257.10 L317.48,257.10 L317.59,257.10 L317.70,257.10 L317.80,257.10 L317.91,257.10 L318.02,257.10 L318.13,257.10 L318.23,257.10 L318.34,257.10 L318.45,257.10 L318.56,257.11 L318.66,257.11 L318.77,257.11 L318.88,257.11 L318.99,257.11 L319.09,257.11 L319.20,257.11 L319.31,257.11 L319.42,257.11 L319.53,257.11 L319.63,257.11 L319.74,257.11 L319.85,257.11 L319.96,257.11 L320.06,257.11 L320.17,257.11 L320.28,257.11 L320.39,257.11 L320.49,257.11 L320.60,257.11 L320.71,257.12 L320.82,257.12 L320.92,257.12 L321.03,257.12 L321.14,257.12 L321.25,257.12 L321.35,257.12 L321.46,257.12 L321.57,257.12 L321.68,257.12 L321.78,257.12 L321.89,257.12 L322.00,257.12 L322.11,257.12 L322.21,257.12 L322.32,257.12 L322.43,257.12 L322.54,257.12 L322.64,257.12 L322.75,257.12 L322.86,257.13 L322.97,257.13 L323.07,257.13 L323.18,257.13 L323.29,257.13 L323.40,257.13 L323.50,257.13 L323.61,257.13 L323.72,257.13 L323.83,257.13 L323.94,257.13 L324.04,257.13 L324.15,257.13 L324.26,257.13 L324.37,257.13 L324.47,257.13 L324.58,257.13 L324.69,257.13 L324.80,257.13 L324.90,257.13 L325.01,257.14 L325.12,257.14 L325.23,257.14 L325.33,257.14 L325.44,257.14 L325.55,257.14 L325.66,257.14 L325.76,257.14 L325.87,257.14 L325.98,257.14 L326.09,257.14 L326.19,257.14 L326.30,257.14 L326.41,257.14 L326.52,257.14 L326.62,257.14 L326.73,257.14 L326.84,257.14 L326.95,257.14 L327.05,257.14 L327.16,257.15 L327.27,257.15 L327.38,257.15 L327.48,257.15 L327.59,257.15 L327.70,257.15 L327.81,257.15 L327.92,257.15 L328.02,257.15 L328.13,257.15 L328.24,257.15 L328.35,257.15 L328.45,257.15 L328.56,257.15 L328.67,257.15 L328.78,257.15 L328.88,257.15 L328.99,257.15 L329.10,257.15 L329.21,257.15 L329.31,257.15 L329.42,257.16 L329.53,257.16 L329.64,257.16 L329.74,257.16 L329.85,257.16 L329.96,257.16 L330.07,257.16 L330.17,257.16 L330.28,257.16 L330.39,257.16 L330.50,257.16 L330.60,257.16 L330.71,257.16 L330.82,257.16 L330.93,257.16 L331.03,257.16 L331.14,257.16 L331.25,257.16 L331.36,257.16 L331.46,257.16 L331.57,257.17 L331.68,257.17 L331.79,257.17 L331.90,257.17 L332.00,257.17 L332.11,257.17 L332.22,257.17 L332.33,257.17 L332.43,257.17 L332.54,257.17 L332.65,257.17 L332.76,257.17 L332.86,257.17 L332.97,257.17 L333.08,257.17 L333.19,257.17 L333.29,257.17 L333.40,257.17 L333.51,257.17 L333.62,257.17 L333.72,257.17 L333.83,257.18 L333.94,257.18 L334.05,257.18 L334.15,257.18 L334.26,257.18 L334.37,257.18 L334.48,257.18 L334.58,257.18 L334.69,257.18 L334.80,257.18 L334.91,257.18 L335.01,257.18 L335.12,257.18 L335.23,257.18 L335.34,257.18 L335.44,257.18 L335.55,257.18 L335.66,257.18 L335.77,257.18 L335.87,257.18 L335.98,257.18 L336.09,257.19 L336.20,257.19 L336.31,257.19 L336.41,257.19 L336.52,257.19 L336.63,257.19 L336.74,257.19 L336.84,257.19 L336.95,257.19 L337.06,257.19 L337.17,257.19 L337.27,257.19 L337.38,257.19 L337.49,257.19 L337.60,257.19 L337.70,257.19 L337.81,257.19 L337.92,257.19 L338.03,257.19 L338.13,257.19 L338.24,257.19 L338.35,257.20 L338.46,257.20 L338.56,257.20 L338.67,257.20 L338.78,257.20 L338.89,257.20 L338.99,257.20 L339.10,257.20 L339.21,257.20 L339.32,257.20 L339.42,257.20 L339.53,257.20 L339.64,257.20 L339.75,257.20 L339.85,257.20 L339.96,257.20 L340.07,257.20 L340.18,257.20 L340.29,257.20 L340.39,257.20 L340.50,257.20 L340.61,257.21 L340.72,257.21 L340.82,257.21 L340.93,257.21 L341.04,257.21 L341.15,257.21 L341.25,257.21 L341.36,257.21 L341.47,257.21 L341.58,257.21 L341.68,257.21 L341.79,257.21 L341.90,257.21 L342.01,257.21 L342.11,257.21 L342.22,257.21 L342.33,257.21 L342.44,257.21 L342.54,257.21 L342.65,257.21 L342.76,257.21 L342.87,257.21 L342.97,257.22 L343.08,257.22 L343.19,257.22 L343.30,257.22 L343.40,257.22 L343.51,257.22 L343.62,257.22 L343.73,257.22 L343.83,257.22 L343.94,257.22 L344.05,257.22 L344.16,257.22 L344.26,257.22 L344.37,257.22 L344.48,257.22 L344.59,257.22 L344.70,257.22 L344.80,257.22 L344.91,257.22 L345.02,257.22 L345.13,257.22 L345.23,257.23 L345.34,257.23 L345.45,257.23 L345.56,257.23 L345.66,257.23 L345.77,257.23 L345.88,257.23 L345.99,257.23 L346.09,257.23 L346.20,257.23 L346.31,257.23 L346.42,257.23 L346.52,257.23 L346.63,257.23 L346.74,257.23 L346.85,257.23 L346.95,257.23 L347.06,257.23 L347.17,257.23 L347.28,257.23 L347.38,257.23 L347.49,257.23 L347.60,257.24 L347.71,257.24 L347.81,257.24 L347.92,257.24 L348.03,257.24 L348.14,257.24 L348.24,257.24 L348.35,257.24 L348.46,257.24 L348.57,257.24 L348.68,257.24 L348.78,257.24 L348.89,257.24 L349.00,257.24 L349.11,257.24 L349.21,257.24 L349.32,257.24 L349.43,257.24 L349.54,257.24 L349.64,257.24 L349.75,257.24 L349.86,257.24 L349.97,257.25 L350.07,257.25 L350.18,257.25 L350.29,257.25 L350.40,257.25 L350.50,257.25 L350.61,257.25 L350.72,257.25 L350.83,257.25 L350.93,257.25 L351.04,257.25 L351.15,257.25 L351.26,257.25 L351.36,257.25 L351.47,257.25 L351.58,257.25 L351.69,257.25 L351.79,257.25 L351.90,257.25 L352.01,257.25 L352.12,257.25 L352.22,257.25 L352.33,257.26 L352.44,257.26 L352.55,257.26 L352.66,257.26 L352.76,257.26 L352.87,257.26 L352.98,257.26 L353.09,257.26 L353.19,257.26 L353.30,257.26 L353.41,257.26 L353.52,257.26 L353.62,257.26 L353.73,257.26 L353.84,257.26 L353.95,257.26 L354.05,257.26 L354.16,257.26 L354.27,257.26 L354.38,257.26 L354.48,257.26 L354.59,257.26 L354.70,257.26 L354.81,257.27 L354.91,257.27 L355.02,257.27 L355.13,257.27 L355.24,257.27 L355.34,257.27 L355.45,257.27 L355.56,257.27 L355.67,257.27 L355.77,257.27 L355.88,257.27 L355.99,257.27 L356.10,257.27 L356.20,257.27 L356.31,257.27 L356.42,257.27 L356.53,257.27 L356.63,257.27 L356.74,257.27 L356.85,257.27 L356.96,257.27 L357.07,257.27 L357.17,257.28 L357.28,257.28 L357.39,257.28 L357.50,257.28 L357.60,257.28 L357.71,257.28 L357.82,257.28 L357.93,257.28 L358.03,257.28 L358.14,257.28 L358.25,257.28 L358.36,257.28 L358.46,257.28 L358.57,257.28 L358.68,257.28 L358.79,257.28 L358.89,257.28 L359.00,257.28 L359.11,257.28 L359.22,257.28 L359.32,257.28 L359.43,257.28 L359.54,257.28 L359.65,257.29 L359.75,257.29 L359.86,257.29 L359.97,257.29 L360.08,257.29 L360.18,257.29 L360.29,257.29 L360.40,257.29 L360.51,257.29 L360.61,257.29 L360.72,257.29 L360.83,257.29 L360.94,257.29 L361.05,257.29 L361.15,257.29 L361.26,257.29 L361.37,257.29 L361.48,257.29 L361.58,257.29 L361.69,257.29 L361.80,257.29 L361.91,257.29 L362.01,257.29 L362.12,257.30 L362.23,257.30 L362.34,257.30 L362.44,257.30 L362.55,257.30 L362.66,257.30 L362.77,257.30 L362.87,257.30 L362.98,257.30 L363.09,257.30 L363.20,257.30 L363.30,257.30 L363.41,257.30 L363.52,257.30 L363.63,257.30 L363.73,257.30 L363.84,257.30 L363.95,257.30 L364.06,257.30 L364.16,257.30 L364.27,257.30 L364.38,257.30 L364.49,257.30 L364.59,257.31 L364.70,257.31 L364.81,257.31 L364.92,257.31 L365.02,257.31 L365.13,257.31 L365.24,257.31 L365.35,257.31 L365.46,257.31 L365.56,257.31 L365.67,257.31 L365.78,257.31 L365.89,257.31 L365.99,257.31 L366.10,257.31 L366.21,257.31 L366.32,257.31 L366.42,257.31 L366.53,257.31 L366.64,257.31 L366.75,257.31 L366.85,257.31 L366.96,257.31 L367.07,257.31 L367.18,257.32 L367.28,257.32 L367.39,257.32 L367.50,257.32 L367.61,257.32 L367.71,257.32 L367.82,257.32 L367.93,257.32 L368.04,257.32 L368.14,257.32 L368.25,257.32 L368.36,257.32 L368.47,257.32 L368.57,257.32 L368.68,257.32 L368.79,257.32 L368.90,257.32 L369.00,257.32 L369.11,257.32 L369.22,257.32 L369.33,257.32 L369.44,257.32 L369.54,257.32 L369.65,257.32 L369.76,257.33 L369.87,257.33 L369.97,257.33 L370.08,257.33 L370.19,257.33 L370.30,257.33 L370.40,257.33 L370.51,257.33 L370.62,257.33 L370.73,257.33 L370.83,257.33 L370.94,257.33 L371.05,257.33 L371.16,257.33 L371.26,257.33 L371.37,257.33 L371.48,257.33 L371.59,257.33 L371.69,257.33 L371.80,257.33 L371.91,257.33 L372.02,257.33 L372.12,257.33 L372.23,257.33 L372.34,257.34 L372.45,257.34 L372.55,257.34 L372.66,257.34 L372.77,257.34 L372.88,257.34 L372.98,257.34 L373.09,257.34 L373.20,257.34 L373.31,257.34 L373.42,257.34 L373.52,257.34 L373.63,257.34 L373.74,257.34 L373.85,257.34 L373.95,257.34 L374.06,257.34 L374.17,257.34 L374.28,257.34 L374.38,257.34 L374.49,257.34 L374.60,257.34 L374.71,257.34 L374.81,257.34 L374.92,257.35 L375.03,257.35 L375.14,257.35 L375.24,257.35 L375.35,257.35 L375.46,257.35 L375.57,257.35 L375.67,257.35 L375.78,257.35 L375.89,257.35 L376.00,257.35 L376.10,257.35 L376.21,257.35 L376.32,257.35 L376.43,257.35 L376.53,257.35 L376.64,257.35 L376.75,257.35 L376.86,257.35 L376.96,257.35 L377.07,257.35 L377.18,257.35 L377.29,257.35 L377.39,257.35 L377.50,257.36 L377.61,257.36 L377.72,257.36 L377.83,257.36 L377.93,257.36 L378.04,257.36 L378.15,257.36 L378.26,257.36 L378.36,257.36 L378.47,257.36 L378.58,257.36 L378.69,257.36 L378.79,257.36 L378.90,257.36 L379.01,257.36 L379.12,257.36 L379.22,257.36 L379.33,257.36 L379.44,257.36 L379.55,257.36 L379.65,257.36 L379.76,257.36 L379.87,257.36 L379.98,257.36 L380.08,257.36 L380.19,257.37 L380.30,257.37 L380.41,257.37 L380.51,257.37 L380.62,257.37 L380.73,257.37 L380.84,257.37 L380.94,257.37 L381.05,257.37 L381.16,257.37 L381.27,257.37 L381.37,257.37 L381.48,257.37 L381.59,257.37 L381.70,257.37 L381.81,257.37 L381.91,257.37 L382.02,257.37 L382.13,257.37 L382.24,257.37 L382.34,257.37 L382.45,257.37 L382.56,257.37 L382.67,257.37 L382.77,257.38 L382.88,257.38 L382.99,257.38 L383.10,257.38 L383.20,257.38 L383.31,257.38 L383.42,257.38 L383.53,257.38 L383.63,257.38 L383.74,257.38 L383.85,257.38 L383.96,257.38 L384.06,257.38 L384.17,257.38 L384.28,257.38 L384.39,257.38 L384.49,257.38 L384.60,257.38 L384.71,257.38 L384.82,257.38 L384.92,257.38 L385.03,257.38 L385.14,257.38 L385.25,257.38 L385.35,257.38 L385.46,257.39 L385.57,257.39 L385.68,257.39 L385.79,257.39 L385.89,257.39 L386.00,257.39 L386.11,257.39 L386.22,257.39 L386.32,257.39 L386.43,257.39 L386.54,257.39 L386.65,257.39 L386.75,257.39 L386.86,257.39 L386.97,257.39 L387.08,257.39 L387.18,257.39 L387.29,257.39 L387.40,257.39 L387.51,257.39 L387.61,257.39 L387.72,257.39 L387.83,257.39 L387.94,257.39 L388.04,257.39 L388.15,257.39 L388.26,257.40 L388.37,257.40 L388.47,257.40 L388.58,257.40 L388.69,257.40 L388.80,257.40 L388.90,257.40 L389.01,257.40 L389.12,257.40 L389.23,257.40 L389.33,257.40 L389.44,257.40 L389.55,257.40 L389.66,257.40 L389.76,257.40 L389.87,257.40 L389.98,257.40 L390.09,257.40 L390.20,257.40 L390.30,257.40 L390.41,257.40 L390.52,257.40 L390.63,257.40 L390.73,257.40" fill="none" stroke="#000" stroke-width="1.2"/>
<path d="M60.5,6 V271.05" fill="none" stroke="#3a3a3a" stroke-width="1.3"/>
<path d="M59.85,270.5 H388.5" fill="none" stroke="#333" stroke-width="1.1"/>
<path d="M55.5,258.4 H60.5" stroke="#444" stroke-width="1.3"/>
<text transform="translate(29.51,262.90) scale(1.0385,1)" font-size="15.60" fill="#000" stroke="#000" stroke-width="0.25" font-family="Liberation Sans, sans-serif">0,0</text>
<path d="M55.5,210.39999999999998 H60.5" stroke="#444" stroke-width="1.3"/>
<text transform="translate(29.69,214.90) scale(1.0385,1)" font-size="15.60" fill="#000" stroke="#000" stroke-width="0.25" font-family="Liberation Sans, sans-serif">0,2</text>
<path d="M55.5,162.39999999999998 H60.5" stroke="#444" stroke-width="1.3"/>
<text transform="translate(29.35,166.90) scale(1.0385,1)" font-size="15.60" fill="#000" stroke="#000" stroke-width="0.25" font-family="Liberation Sans, sans-serif">0,4</text>
<path d="M55.5,114.39999999999998 H60.5" stroke="#444" stroke-width="1.3"/>
<text transform="translate(29.59,118.90) scale(1.0385,1)" font-size="15.60" fill="#000" stroke="#000" stroke-width="0.25" font-family="Liberation Sans, sans-serif">0,6</text>
<path d="M55.5,66.39999999999998 H60.5" stroke="#444" stroke-width="1.3"/>
<text transform="translate(29.58,70.90) scale(1.0385,1)" font-size="15.60" fill="#000" stroke="#000" stroke-width="0.25" font-family="Liberation Sans, sans-serif">0,8</text>
<path d="M55.5,18.399999999999977 H60.5" stroke="#444" stroke-width="1.3"/>
<text transform="translate(29.51,22.90) scale(1.0385,1)" font-size="15.60" fill="#000" stroke="#000" stroke-width="0.25" font-family="Liberation Sans, sans-serif">1,0</text>
<path d="M58.0,234.39999999999998 H60.5" stroke="#444" stroke-width="1.3"/>
<path d="M58.0,186.39999999999998 H60.5" stroke="#444" stroke-width="1.3"/>
<path d="M58.0,138.39999999999998 H60.5" stroke="#444" stroke-width="1.3"/>
<path d="M58.0,90.39999999999998 H60.5" stroke="#444" stroke-width="1.3"/>
<path d="M58.0,42.39999999999998 H60.5" stroke="#444" stroke-width="1.3"/>
<path d="M64.9,270.5 V275.7" stroke="#444" stroke-width="1.3"/>
<text transform="translate(44.55,291.70) scale(1.0443,1)" font-size="15.80" fill="#000" stroke="#000" stroke-width="0.25" font-family="Liberation Sans, sans-serif">0,000</text>
<path d="M123.7,270.5 V275.7" stroke="#444" stroke-width="1.3"/>
<text transform="translate(103.27,291.70) scale(1.0443,1)" font-size="15.80" fill="#000" stroke="#000" stroke-width="0.25" font-family="Liberation Sans, sans-serif">0,004</text>
<path d="M182.5,270.5 V275.7" stroke="#444" stroke-width="1.3"/>
<text transform="translate(162.19,291.70) scale(1.0443,1)" font-size="15.80" fill="#000" stroke="#000" stroke-width="0.25" font-family="Liberation Sans, sans-serif">0,008</text>
<path d="M241.29999999999998,270.5 V275.7" stroke="#444" stroke-width="1.3"/>
<text transform="translate(221.05,291.70) scale(1.0443,1)" font-size="15.80" fill="#000" stroke="#000" stroke-width="0.25" font-family="Liberation Sans, sans-serif">0,012</text>
<path d="M300.1,270.5 V275.7" stroke="#444" stroke-width="1.3"/>
<text transform="translate(279.80,291.70) scale(1.0443,1)" font-size="15.80" fill="#000" stroke="#000" stroke-width="0.25" font-family="Liberation Sans, sans-serif">0,016</text>
<path d="M358.9,270.5 V275.7" stroke="#444" stroke-width="1.3"/>
<text transform="translate(338.55,291.70) scale(1.0443,1)" font-size="15.80" fill="#000" stroke="#000" stroke-width="0.25" font-family="Liberation Sans, sans-serif">0,020</text>
<path d="M94.30000000000001,270.5 V273.0" stroke="#444" stroke-width="1.3"/>
<path d="M153.1,270.5 V273.0" stroke="#444" stroke-width="1.3"/>
<path d="M211.9,270.5 V273.0" stroke="#444" stroke-width="1.3"/>
<path d="M270.7,270.5 V273.0" stroke="#444" stroke-width="1.3"/>
<path d="M329.5,270.5 V273.0" stroke="#444" stroke-width="1.3"/>
<path d="M388.29999999999995,270.5 V273.0" stroke="#444" stroke-width="1.3"/>
<text transform="translate(196.11,320.80) scale(1.0052,1)" font-size="19.30" fill="#000" font-family="Liberation Sans, sans-serif">time, s</text>
<text transform="translate(22.40,223.68) rotate(-90) scale(1.0489,1)" font-size="18.40" fill="#000" font-family="Liberation Sans, sans-serif">normalized intensity</text>
<circle cx="451.56" cy="19.50" r="3.5" fill="#0000ff"/>
<circle cx="451.57" cy="21.68" r="3.5" fill="#0000ff"/>
<circle cx="451.58" cy="24.16" r="3.5" fill="#0000ff"/>
<circle cx="451.59" cy="26.96" r="3.5" fill="#0000ff"/>
<circle cx="451.61" cy="30.13" r="3.5" fill="#0000ff"/>
<circle cx="451.62" cy="33.68" r="3.5" fill="#0000ff"/>
<circle cx="451.64" cy="37.66" r="3.5" fill="#0000ff"/>
<circle cx="451.67" cy="42.07" r="3.5" fill="#0000ff"/>
<circle cx="451.69" cy="46.94" r="3.5" fill="#0000ff"/>
<circle cx="451.72" cy="52.28" r="3.5" fill="#0000ff"/>
<circle cx="451.76" cy="58.08" r="3.5" fill="#0000ff"/>
<circle cx="451.80" cy="64.33" r="3.5" fill="#0000ff"/>
<circle cx="451.85" cy="70.99" r="3.5" fill="#0000ff"/>
<circle cx="451.91" cy="77.99" r="3.5" fill="#0000ff"/>
<circle cx="451.97" cy="85.28" r="3.5" fill="#0000ff"/>
<circle cx="452.05" cy="92.75" r="3.5" fill="#0000ff"/>
<circle cx="452.13" cy="100.31" r="3.5" fill="#0000ff"/>
<circle cx="452.23" cy="107.84" r="3.5" fill="#0000ff"/>
<circle cx="452.35" cy="115.27" r="3.5" fill="#0000ff"/>
<circle cx="452.49" cy="122.50" r="3.5" fill="#0000ff"/>
<circle cx="452.65" cy="129.50" r="3.5" fill="#0000ff"/>
<circle cx="452.83" cy="136.26" r="3.5" fill="#0000ff"/>
<circle cx="453.04" cy="142.82" r="3.5" fill="#0000ff"/>
<circle cx="453.29" cy="149.22" r="3.5" fill="#0000ff"/>
<circle cx="453.57" cy="155.55" r="3.5" fill="#0000ff"/>
<circle cx="453.91" cy="161.84" r="3.5" fill="#0000ff"/>
<circle cx="454.29" cy="168.14" r="3.5" fill="#0000ff"/>
<circle cx="454.74" cy="174.40" r="3.5" fill="#0000ff"/>
<circle cx="455.25" cy="180.56" r="3.5" fill="#0000ff"/>
<circle cx="455.86" cy="186.52" r="3.5" fill="#0000ff"/>
<circle cx="456.55" cy="192.16" r="3.5" fill="#0000ff"/>
<circle cx="457.36" cy="197.38" r="3.5" fill="#0000ff"/>
<circle cx="458.30" cy="202.09" r="3.5" fill="#0000ff"/>
<circle cx="459.39" cy="206.26" r="3.5" fill="#0000ff"/>
<circle cx="460.65" cy="209.90" r="3.5" fill="#0000ff"/>
<circle cx="462.11" cy="213.07" r="3.5" fill="#0000ff"/>
<circle cx="463.81" cy="215.86" r="3.5" fill="#0000ff"/>
<circle cx="465.78" cy="218.41" r="3.5" fill="#0000ff"/>
<circle cx="468.06" cy="220.83" r="3.5" fill="#0000ff"/>
<circle cx="470.71" cy="223.21" r="3.5" fill="#0000ff"/>
<circle cx="473.79" cy="225.61" r="3.5" fill="#0000ff"/>
<circle cx="477.36" cy="228.04" r="3.5" fill="#0000ff"/>
<circle cx="481.49" cy="230.50" r="3.5" fill="#0000ff"/>
<circle cx="486.29" cy="232.95" r="3.5" fill="#0000ff"/>
<circle cx="491.86" cy="235.36" r="3.5" fill="#0000ff"/>
<circle cx="498.31" cy="237.68" r="3.5" fill="#0000ff"/>
<circle cx="505.80" cy="239.86" r="3.5" fill="#0000ff"/>
<circle cx="514.49" cy="241.90" r="3.5" fill="#0000ff"/>
<circle cx="524.57" cy="243.76" r="3.5" fill="#0000ff"/>
<circle cx="536.26" cy="245.47" r="3.5" fill="#0000ff"/>
<circle cx="549.83" cy="247.02" r="3.5" fill="#0000ff"/>
<circle cx="565.56" cy="248.46" r="3.5" fill="#0000ff"/>
<circle cx="583.81" cy="249.82" r="3.5" fill="#0000ff"/>
<circle cx="604.98" cy="251.10" r="3.5" fill="#0000ff"/>
<circle cx="629.53" cy="252.34" r="3.5" fill="#0000ff"/>
<circle cx="658.02" cy="253.52" r="3.5" fill="#0000ff"/>
<circle cx="691.06" cy="254.63" r="3.5" fill="#0000ff"/>
<circle cx="729.39" cy="255.64" r="3.5" fill="#0000ff"/>
<circle cx="773.86" cy="256.54" r="3.5" fill="#0000ff"/>
<path d="M451.55,17.76 L451.57,21.16 L451.58,24.46 L451.60,27.66 L451.61,30.77 L451.62,33.79 L451.64,36.72 L451.65,39.56 L451.67,42.32 L451.68,45.01 L451.70,47.62 L451.71,50.15 L451.73,52.61 L451.74,55.01 L451.75,57.33 L451.77,59.59 L451.78,61.79 L451.80,63.93 L451.81,66.01 L451.83,68.04 L451.84,70.01 L451.86,71.92 L451.87,73.79 L451.89,75.61 L451.90,77.38 L451.91,79.10 L451.93,80.78 L451.94,82.41 L451.96,84.00 L451.97,85.55 L451.99,87.07 L452.00,88.54 L452.02,89.98 L452.03,91.38 L452.05,92.75 L452.06,94.09 L452.07,95.39 L452.09,96.66 L452.10,97.90 L452.12,99.12 L452.13,100.30 L452.15,101.46 L452.16,102.59 L452.18,103.69 L452.19,104.77 L452.21,105.83 L452.22,106.86 L452.23,107.87 L452.25,108.86 L452.26,109.83 L452.28,110.77 L452.29,111.70 L452.31,112.61 L452.32,113.50 L452.34,114.37 L452.35,115.22 L452.36,116.06 L452.38,116.88 L452.39,117.68 L452.41,118.47 L452.42,119.24 L452.44,120.00 L452.45,120.75 L452.47,121.48 L452.48,122.20 L452.50,122.90 L452.51,123.59 L452.52,124.27 L452.54,124.94 L452.55,125.60 L452.57,126.25 L452.58,126.88 L452.60,127.51 L452.61,128.12 L452.63,128.73 L452.64,129.32 L452.66,129.91 L452.67,130.48 L452.68,131.05 L452.70,131.61 L452.71,132.16 L452.73,132.71 L452.74,133.24 L452.76,133.77 L452.77,134.29 L452.79,134.80 L452.80,135.31 L452.82,135.81 L452.83,136.30 L452.84,136.79 L452.86,137.27 L452.87,137.74 L452.89,138.21 L452.90,138.67 L452.92,139.13 L452.93,139.58 L452.95,140.02 L452.96,140.46 L452.97,140.90 L452.99,141.33 L453.00,141.75 L453.02,142.17 L453.03,142.59 L453.05,143.00 L453.06,143.40 L453.08,143.81 L453.09,144.20 L453.11,144.60 L453.12,144.99 L453.13,145.37 L453.15,145.76 L453.16,146.13 L453.18,146.51 L453.19,146.88 L453.21,147.25 L453.22,147.61 L453.24,147.97 L453.25,148.33 L453.27,148.68 L453.28,149.04 L453.29,149.38 L453.31,149.73 L453.32,150.07 L453.34,150.41 L453.35,150.75 L453.37,151.08 L453.38,151.41 L453.40,151.74 L453.41,152.06 L453.43,152.39 L453.44,152.71 L453.45,153.02 L453.47,153.34 L453.48,153.65 L453.50,153.96 L453.51,154.27 L453.53,154.57 L453.54,154.88 L453.56,155.18 L453.57,155.48 L453.59,155.78 L453.60,156.07 L453.61,156.36 L453.63,156.65 L453.64,156.94 L453.66,157.23 L453.67,157.51 L453.69,157.80 L453.70,158.08 L453.72,158.36 L453.73,158.63 L453.74,158.91 L453.76,159.18 L453.77,159.46 L453.79,159.73 L453.80,159.99 L453.82,160.26 L453.83,160.53 L453.85,160.79 L453.86,161.05 L453.88,161.31 L453.89,161.57 L453.90,161.83 L453.92,162.08 L453.93,162.34 L453.95,162.59 L453.96,162.84 L453.98,163.09 L453.99,163.34 L454.01,163.58 L454.02,163.83 L454.04,164.07 L454.05,164.31 L454.06,164.55 L454.08,164.79 L454.09,165.03 L454.11,165.27 L454.12,165.50 L454.14,165.74 L454.15,165.97 L454.17,166.20 L454.18,166.43 L454.20,166.66 L454.21,166.89 L454.22,167.12 L454.24,167.34 L454.25,167.57 L454.27,167.79 L454.28,168.01 L454.30,168.23 L454.31,168.45 L454.33,168.67 L454.34,168.89 L454.35,169.10 L454.37,169.32 L454.38,169.53 L454.40,169.74 L454.41,169.95 L454.43,170.16 L454.44,170.37 L454.44,170.37 L454.55,171.89 L454.66,173.34 L454.76,174.75 L454.87,176.10 L454.98,177.41 L455.09,178.67 L455.19,179.89 L455.30,181.06 L455.41,182.20 L455.52,183.29 L455.62,184.35 L455.73,185.37 L455.84,186.36 L455.95,187.32 L456.05,188.24 L456.16,189.14 L456.27,190.00 L456.38,190.84 L456.48,191.65 L456.59,192.44 L456.70,193.19 L456.81,193.93 L456.91,194.64 L457.02,195.33 L457.13,196.00 L457.23,196.65 L457.34,197.27 L457.45,197.88 L457.56,198.47 L457.66,199.04 L457.77,199.60 L457.88,200.14 L457.99,200.66 L458.09,201.17 L458.20,201.66 L458.31,202.14 L458.42,202.60 L458.52,203.06 L458.63,203.50 L458.74,203.92 L458.85,204.34 L458.95,204.74 L459.06,205.13 L459.17,205.52 L459.28,205.89 L459.38,206.25 L459.49,206.60 L459.60,206.95 L459.71,207.28 L459.81,207.61 L459.92,207.93 L460.03,208.24 L460.14,208.54 L460.24,208.84 L460.35,209.13 L460.46,209.41 L460.56,209.69 L460.67,209.96 L460.78,210.22 L460.89,210.48 L460.99,210.73 L461.10,210.98 L461.21,211.22 L461.32,211.46 L461.42,211.69 L461.53,211.92 L461.64,212.14 L461.75,212.36 L461.85,212.57 L461.96,212.78 L462.07,212.98 L462.18,213.19 L462.28,213.38 L462.39,213.58 L462.50,213.77 L462.61,213.96 L462.71,214.14 L462.82,214.32 L462.93,214.50 L463.04,214.68 L463.14,214.85 L463.25,215.02 L463.36,215.19 L463.47,215.35 L463.57,215.51 L463.68,215.67 L463.79,215.83 L463.89,215.99 L464.00,216.14 L464.11,216.29 L464.22,216.44 L464.32,216.59 L464.43,216.73 L464.54,216.88 L464.65,217.02 L464.75,217.16 L464.86,217.30 L464.97,217.43 L465.08,217.57 L465.18,217.70 L465.29,217.83 L465.40,217.96 L465.51,218.09 L465.61,218.22 L465.72,218.35 L465.83,218.47 L465.94,218.60 L466.04,218.72 L466.15,218.84 L466.26,218.96 L466.37,219.08 L466.47,219.20 L466.58,219.31 L466.69,219.43 L466.80,219.54 L466.90,219.66 L467.01,219.77 L467.12,219.88 L467.22,219.99 L467.33,220.10 L467.44,220.21 L467.55,220.32 L467.65,220.43 L467.76,220.54 L467.87,220.64 L467.98,220.75 L468.08,220.85 L468.19,220.96 L468.30,221.06 L468.41,221.16 L468.51,221.26 L468.62,221.36 L468.73,221.46 L468.84,221.56 L468.94,221.66 L469.05,221.76 L469.16,221.86 L469.27,221.96 L469.37,222.05 L469.48,222.15 L469.59,222.24 L469.70,222.34 L469.80,222.43 L469.91,222.53 L470.02,222.62 L470.13,222.71 L470.23,222.80 L470.34,222.90 L470.45,222.99 L470.55,223.08 L470.66,223.17 L470.77,223.26 L470.88,223.35 L470.98,223.44 L471.09,223.52 L471.20,223.61 L471.31,223.70 L471.41,223.79 L471.52,223.87 L471.63,223.96 L471.74,224.04 L471.84,224.13 L471.95,224.21 L472.06,224.30 L472.17,224.38 L472.27,224.47 L472.38,224.55 L472.49,224.63 L472.60,224.72 L472.70,224.80 L472.81,224.88 L472.92,224.96 L473.03,225.04 L473.13,225.12 L473.24,225.20 L473.35,225.28 L473.46,225.36 L473.56,225.44 L473.67,225.52 L473.78,225.60 L473.88,225.68 L473.99,225.76 L474.10,225.83 L474.21,225.91 L474.31,225.99 L474.42,226.06 L474.53,226.14 L474.64,226.22 L474.74,226.29 L474.85,226.37 L474.96,226.44 L475.07,226.52 L475.17,226.59 L475.28,226.67 L475.39,226.74 L475.50,226.81 L475.60,226.89 L475.71,226.96 L475.82,227.03 L475.93,227.10 L476.03,227.18 L476.14,227.25 L476.25,227.32 L476.36,227.39 L476.46,227.46 L476.57,227.53 L476.68,227.60 L476.79,227.67 L476.89,227.74 L477.00,227.81 L477.11,227.88 L477.21,227.95 L477.32,228.02 L477.43,228.09 L477.54,228.16 L477.64,228.22 L477.75,228.29 L477.86,228.36 L477.97,228.43 L478.07,228.49 L478.18,228.56 L478.29,228.63 L478.40,228.69 L478.50,228.76 L478.61,228.83 L478.72,228.89 L478.83,228.96 L478.93,229.02 L479.04,229.09 L479.15,229.15 L479.26,229.21 L479.36,229.28 L479.47,229.34 L479.58,229.41 L479.69,229.47 L479.79,229.53 L479.90,229.60 L480.01,229.66 L480.12,229.72 L480.22,229.78 L480.33,229.84 L480.44,229.91 L480.54,229.97 L480.65,230.03 L480.76,230.09 L480.87,230.15 L480.97,230.21 L481.08,230.27 L481.19,230.33 L481.30,230.39 L481.40,230.45 L481.51,230.51 L481.62,230.57 L481.73,230.63 L481.83,230.69 L481.94,230.75 L482.05,230.80 L482.16,230.86 L482.26,230.92 L482.37,230.98 L482.48,231.04 L482.59,231.09 L482.69,231.15 L482.80,231.21 L482.91,231.26 L483.02,231.32 L483.12,231.38 L483.23,231.43 L483.34,231.49 L483.45,231.55 L483.55,231.60 L483.66,231.66 L483.77,231.71 L483.87,231.77 L483.98,231.82 L484.09,231.88 L484.20,231.93 L484.30,231.98 L484.41,232.04 L484.52,232.09 L484.63,232.15 L484.73,232.20 L484.84,232.25 L484.95,232.31 L485.06,232.36 L485.16,232.41 L485.27,232.46 L485.38,232.52 L485.49,232.57 L485.59,232.62 L485.70,232.67 L485.81,232.72 L485.92,232.77 L486.02,232.83 L486.13,232.88 L486.24,232.93 L486.35,232.98 L486.45,233.03 L486.56,233.08 L486.67,233.13 L486.78,233.18 L486.88,233.23 L486.99,233.28 L487.10,233.33 L487.20,233.38 L487.31,233.43 L487.42,233.48 L487.53,233.52 L487.63,233.57 L487.74,233.62 L487.85,233.67 L487.96,233.72 L488.06,233.77 L488.17,233.81 L488.28,233.86 L488.39,233.91 L488.49,233.96 L488.60,234.00 L488.71,234.05 L488.82,234.10 L488.92,234.14 L489.03,234.19 L489.14,234.24 L489.25,234.28 L489.35,234.33 L489.46,234.38 L489.57,234.42 L489.68,234.47 L489.78,234.51 L489.89,234.56 L490.00,234.60 L490.11,234.65 L490.21,234.69 L490.32,234.74 L490.43,234.78 L490.53,234.83 L490.64,234.87 L490.75,234.91 L490.86,234.96 L490.96,235.00 L491.07,235.04 L491.18,235.09 L491.29,235.13 L491.39,235.17 L491.50,235.22 L491.61,235.26 L491.72,235.30 L491.82,235.35 L491.93,235.39 L492.04,235.43 L492.15,235.47 L492.25,235.51 L492.36,235.56 L492.47,235.60 L492.58,235.64 L492.68,235.68 L492.79,235.72 L492.90,235.76 L493.01,235.81 L493.11,235.85 L493.22,235.89 L493.33,235.93 L493.44,235.97 L493.54,236.01 L493.65,236.05 L493.76,236.09 L493.86,236.13 L493.97,236.17 L494.08,236.21 L494.19,236.25 L494.29,236.29 L494.40,236.33 L494.51,236.37 L494.62,236.41 L494.72,236.44 L494.83,236.48 L494.94,236.52 L495.05,236.56 L495.15,236.60 L495.26,236.64 L495.37,236.68 L495.48,236.71 L495.58,236.75 L495.69,236.79 L495.80,236.83 L495.91,236.86 L496.01,236.90 L496.12,236.94 L496.23,236.98 L496.34,237.01 L496.44,237.05 L496.55,237.09 L496.66,237.12 L496.77,237.16 L496.87,237.20 L496.98,237.23 L497.09,237.27 L497.19,237.31 L497.30,237.34 L497.41,237.38 L497.52,237.41 L497.62,237.45 L497.73,237.48 L497.84,237.52 L497.95,237.56 L498.05,237.59 L498.16,237.63 L498.27,237.66 L498.38,237.70 L498.48,237.73 L498.59,237.77 L498.70,237.80 L498.81,237.83 L498.91,237.87 L499.02,237.90 L499.13,237.94 L499.24,237.97 L499.34,238.01 L499.45,238.04 L499.56,238.07 L499.67,238.11 L499.77,238.14 L499.88,238.17 L499.99,238.21 L500.09,238.24 L500.20,238.27 L500.31,238.31 L500.42,238.34 L500.52,238.37 L500.63,238.40 L500.74,238.44 L500.85,238.47 L500.95,238.50 L501.06,238.53 L501.17,238.57 L501.28,238.60 L501.38,238.63 L501.49,238.66 L501.60,238.69 L501.71,238.73 L501.81,238.76 L501.92,238.79 L502.03,238.82 L502.14,238.85 L502.24,238.88 L502.35,238.91 L502.46,238.94 L502.57,238.98 L502.67,239.01 L502.78,239.04 L502.89,239.07 L503.00,239.10 L503.10,239.13 L503.21,239.16 L503.32,239.19 L503.42,239.22 L503.53,239.25 L503.64,239.28 L503.75,239.31 L503.85,239.34 L503.96,239.37 L504.07,239.40 L504.18,239.43 L504.28,239.46 L504.39,239.49 L504.50,239.52 L504.61,239.54 L504.71,239.57 L504.82,239.60 L504.93,239.63 L505.04,239.66 L505.14,239.69 L505.25,239.72 L505.36,239.75 L505.47,239.78 L505.57,239.80 L505.68,239.83 L505.79,239.86 L505.90,239.89 L506.00,239.92 L506.11,239.94 L506.22,239.97 L506.33,240.00 L506.43,240.03 L506.54,240.06 L506.65,240.08 L506.75,240.11 L506.86,240.14 L506.97,240.17 L507.08,240.19 L507.18,240.22 L507.29,240.25 L507.40,240.27 L507.51,240.30 L507.61,240.33 L507.72,240.35 L507.83,240.38 L507.94,240.41 L508.04,240.43 L508.15,240.46 L508.26,240.49 L508.37,240.51 L508.47,240.54 L508.58,240.57 L508.69,240.59 L508.80,240.62 L508.90,240.64 L509.01,240.67 L509.12,240.70 L509.23,240.72 L509.33,240.75 L509.44,240.77 L509.55,240.80 L509.66,240.82 L509.76,240.85 L509.87,240.87 L509.98,240.90 L510.08,240.92 L510.19,240.95 L510.30,240.97 L510.41,241.00 L510.51,241.02 L510.62,241.05 L510.73,241.07 L510.84,241.10 L510.94,241.12 L511.05,241.15 L511.16,241.17 L511.27,241.20 L511.37,241.22 L511.48,241.25 L511.59,241.27 L511.70,241.29 L511.80,241.32 L511.91,241.34 L512.02,241.37 L512.13,241.39 L512.23,241.41 L512.34,241.44 L512.45,241.46 L512.56,241.48 L512.66,241.51 L512.77,241.53 L512.88,241.55 L512.99,241.58 L513.09,241.60 L513.20,241.62 L513.31,241.65 L513.41,241.67 L513.52,241.69 L513.63,241.72 L513.74,241.74 L513.84,241.76 L513.95,241.78 L514.06,241.81 L514.17,241.83 L514.27,241.85 L514.38,241.87 L514.49,241.90 L514.60,241.92 L514.70,241.94 L514.81,241.96 L514.92,241.99 L515.03,242.01 L515.13,242.03 L515.24,242.05 L515.35,242.07 L515.46,242.10 L515.56,242.12 L515.67,242.14 L515.78,242.16 L515.89,242.18 L515.99,242.21 L516.10,242.23 L516.21,242.25 L516.32,242.27 L516.42,242.29 L516.53,242.31 L516.64,242.33 L516.74,242.36 L516.85,242.38 L516.96,242.40 L517.07,242.42 L517.17,242.44 L517.28,242.46 L517.39,242.48 L517.50,242.50 L517.60,242.52 L517.71,242.54 L517.82,242.56 L517.93,242.58 L518.03,242.61 L518.14,242.63 L518.25,242.65 L518.36,242.67 L518.46,242.69 L518.57,242.71 L518.68,242.73 L518.79,242.75 L518.89,242.77 L519.00,242.79 L519.11,242.81 L519.22,242.83 L519.32,242.85 L519.43,242.87 L519.54,242.89 L519.65,242.91 L519.75,242.93 L519.86,242.95 L519.97,242.97 L520.07,242.99 L520.18,243.01 L520.29,243.03 L520.40,243.04 L520.50,243.06 L520.61,243.08 L520.72,243.10 L520.83,243.12 L520.93,243.14 L521.04,243.16 L521.15,243.18 L521.26,243.20 L521.36,243.22 L521.47,243.24 L521.58,243.26 L521.69,243.27 L521.79,243.29 L521.90,243.31 L522.01,243.33 L522.12,243.35 L522.22,243.37 L522.33,243.39 L522.44,243.41 L522.55,243.42 L522.65,243.44 L522.76,243.46 L522.87,243.48 L522.98,243.50 L523.08,243.52 L523.19,243.53 L523.30,243.55 L523.40,243.57 L523.51,243.59 L523.62,243.61 L523.73,243.62 L523.83,243.64 L523.94,243.66 L524.05,243.68 L524.16,243.70 L524.26,243.71 L524.37,243.73 L524.48,243.75 L524.59,243.77 L524.69,243.78 L524.80,243.80 L524.91,243.82 L525.02,243.84 L525.12,243.85 L525.23,243.87 L525.34,243.89 L525.45,243.91 L525.55,243.92 L525.66,243.94 L525.77,243.96 L525.88,243.98 L525.98,243.99 L526.09,244.01 L526.20,244.03 L526.31,244.04 L526.41,244.06 L526.52,244.08 L526.63,244.09 L526.73,244.11 L526.84,244.13 L526.95,244.15 L527.06,244.16 L527.16,244.18 L527.27,244.20 L527.38,244.21 L527.49,244.23 L527.59,244.25 L527.70,244.26 L527.81,244.28 L527.92,244.29 L528.02,244.31 L528.13,244.33 L528.24,244.34 L528.35,244.36 L528.45,244.38 L528.56,244.39 L528.67,244.41 L528.78,244.42 L528.88,244.44 L528.99,244.46 L529.10,244.47 L529.21,244.49 L529.31,244.50 L529.42,244.52 L529.53,244.54 L529.64,244.55 L529.74,244.57 L529.85,244.58 L529.96,244.60 L530.06,244.62 L530.17,244.63 L530.28,244.65 L530.39,244.66 L530.49,244.68 L530.60,244.69 L530.71,244.71 L530.82,244.72 L530.92,244.74 L531.03,244.76 L531.14,244.77 L531.25,244.79 L531.35,244.80 L531.46,244.82 L531.57,244.83 L531.68,244.85 L531.78,244.86 L531.89,244.88 L532.00,244.89 L532.11,244.91 L532.21,244.92 L532.32,244.94 L532.43,244.95 L532.54,244.97 L532.64,244.98 L532.75,245.00 L532.86,245.01 L532.97,245.03 L533.07,245.04 L533.18,245.06 L533.29,245.07 L533.39,245.09 L533.50,245.10 L533.61,245.12 L533.72,245.13 L533.82,245.14 L533.93,245.16 L534.04,245.17 L534.15,245.19 L534.25,245.20 L534.36,245.22 L534.47,245.23 L534.58,245.25 L534.68,245.26 L534.79,245.27 L534.90,245.29 L535.01,245.30 L535.11,245.32 L535.22,245.33 L535.33,245.35 L535.44,245.36 L535.54,245.37 L535.65,245.39 L535.76,245.40 L535.87,245.42 L535.97,245.43 L536.08,245.44 L536.19,245.46 L536.30,245.47 L536.40,245.49 L536.51,245.50 L536.62,245.51 L536.72,245.53 L536.83,245.54 L536.94,245.55 L537.05,245.57 L537.15,245.58 L537.26,245.59 L537.37,245.61 L537.48,245.62 L537.58,245.64 L537.69,245.65 L537.80,245.66 L537.91,245.68 L538.01,245.69 L538.12,245.70 L538.23,245.72 L538.34,245.73 L538.44,245.74 L538.55,245.76 L538.66,245.77 L538.77,245.78 L538.87,245.80 L538.98,245.81 L539.09,245.82 L539.20,245.84 L539.30,245.85 L539.41,245.86 L539.52,245.88 L539.63,245.89 L539.73,245.90 L539.84,245.91 L539.95,245.93 L540.05,245.94 L540.16,245.95 L540.27,245.97 L540.38,245.98 L540.48,245.99 L540.59,246.00 L540.70,246.02 L540.81,246.03 L540.91,246.04 L541.02,246.06 L541.13,246.07 L541.24,246.08 L541.34,246.09 L541.45,246.11 L541.56,246.12 L541.67,246.13 L541.77,246.14 L541.88,246.16 L541.99,246.17 L542.10,246.18 L542.20,246.19 L542.31,246.21 L542.42,246.22 L542.53,246.23 L542.63,246.24 L542.74,246.26 L542.85,246.27 L542.96,246.28 L543.06,246.29 L543.17,246.31 L543.28,246.32 L543.38,246.33 L543.49,246.34 L543.60,246.35 L543.71,246.37 L543.81,246.38 L543.92,246.39 L544.03,246.40 L544.14,246.41 L544.24,246.43 L544.35,246.44 L544.46,246.45 L544.57,246.46 L544.67,246.47 L544.78,246.49 L544.89,246.50 L545.00,246.51 L545.10,246.52 L545.21,246.53 L545.32,246.55 L545.43,246.56 L545.53,246.57 L545.64,246.58 L545.75,246.59 L545.86,246.61 L545.96,246.62 L546.07,246.63 L546.18,246.64 L546.29,246.65 L546.39,246.66 L546.50,246.67 L546.61,246.69 L546.71,246.70 L546.82,246.71 L546.93,246.72 L547.04,246.73 L547.14,246.74 L547.25,246.76 L547.36,246.77 L547.47,246.78 L547.57,246.79 L547.68,246.80 L547.79,246.81 L547.90,246.82 L548.00,246.84 L548.11,246.85 L548.22,246.86 L548.33,246.87 L548.43,246.88 L548.54,246.89 L548.65,246.90 L548.76,246.91 L548.86,246.93 L548.97,246.94 L549.08,246.95 L549.19,246.96 L549.29,246.97 L549.40,246.98 L549.51,246.99 L549.62,247.00 L549.72,247.01 L549.83,247.02 L549.94,247.04 L550.04,247.05 L550.15,247.06 L550.26,247.07 L550.37,247.08 L550.47,247.09 L550.58,247.10 L550.69,247.11 L550.80,247.12 L550.90,247.13 L551.01,247.14 L551.12,247.16 L551.23,247.17 L551.33,247.18 L551.44,247.19 L551.55,247.20 L551.66,247.21 L551.76,247.22 L551.87,247.23 L551.98,247.24 L552.09,247.25 L552.19,247.26 L552.30,247.27 L552.41,247.28 L552.52,247.29 L552.62,247.30 L552.73,247.32 L552.84,247.33 L552.95,247.34 L553.05,247.35 L553.16,247.36 L553.27,247.37 L553.37,247.38 L553.48,247.39 L553.59,247.40 L553.70,247.41 L553.80,247.42 L553.91,247.43 L554.02,247.44 L554.13,247.45 L554.23,247.46 L554.34,247.47 L554.45,247.48 L554.56,247.49 L554.66,247.50 L554.77,247.51 L554.88,247.52 L554.99,247.53 L555.09,247.54 L555.20,247.55 L555.31,247.56 L555.42,247.57 L555.52,247.58 L555.63,247.59 L555.74,247.60 L555.85,247.61 L555.95,247.62 L556.06,247.63 L556.17,247.64 L556.28,247.65 L556.38,247.66 L556.49,247.67 L556.60,247.68 L556.70,247.69 L556.81,247.70 L556.92,247.71 L557.03,247.72 L557.13,247.73 L557.24,247.74 L557.35,247.75 L557.46,247.76 L557.56,247.77 L557.67,247.78 L557.78,247.79 L557.89,247.80 L557.99,247.81 L558.10,247.82 L558.21,247.83 L558.32,247.84 L558.42,247.85 L558.53,247.86 L558.64,247.87 L558.75,247.88 L558.85,247.89 L558.96,247.90 L559.07,247.91 L559.18,247.92 L559.28,247.93 L559.39,247.94 L559.50,247.95 L559.61,247.96 L559.71,247.97 L559.82,247.97 L559.93,247.98 L560.03,247.99 L560.14,248.00 L560.25,248.01 L560.36,248.02 L560.46,248.03 L560.57,248.04 L560.68,248.05 L560.79,248.06 L560.89,248.07 L561.00,248.08 L561.11,248.09 L561.22,248.10 L561.32,248.11 L561.43,248.12 L561.54,248.13 L561.65,248.13 L561.75,248.14 L561.86,248.15 L561.97,248.16 L562.08,248.17 L562.18,248.18 L562.29,248.19 L562.40,248.20 L562.51,248.21 L562.61,248.22 L562.72,248.23 L562.83,248.24 L562.93,248.25 L563.04,248.25 L563.15,248.26 L563.26,248.27 L563.36,248.28 L563.47,248.29 L563.58,248.30 L563.69,248.31 L563.79,248.32 L563.90,248.33 L564.01,248.34 L564.12,248.34 L564.22,248.35 L564.33,248.36 L564.44,248.37 L564.55,248.38 L564.65,248.39 L564.76,248.40 L564.87,248.41 L564.98,248.42 L565.08,248.43 L565.19,248.43 L565.30,248.44 L565.41,248.45 L565.51,248.46 L565.62,248.47 L565.73,248.48 L565.84,248.49 L565.94,248.50 L566.05,248.50 L566.16,248.51 L566.26,248.52 L566.37,248.53 L566.48,248.54 L566.59,248.55 L566.69,248.56 L566.80,248.57 L566.91,248.57 L567.02,248.58 L567.12,248.59 L567.23,248.60 L567.34,248.61 L567.45,248.62 L567.55,248.63 L567.66,248.63 L567.77,248.64 L567.88,248.65 L567.98,248.66 L568.09,248.67 L568.20,248.68 L568.31,248.69 L568.41,248.69 L568.52,248.70 L568.63,248.71 L568.74,248.72 L568.84,248.73 L568.95,248.74 L569.06,248.75 L569.17,248.75 L569.27,248.76 L569.38,248.77 L569.49,248.78 L569.59,248.79 L569.70,248.80 L569.81,248.80 L569.92,248.81 L570.02,248.82 L570.13,248.83 L570.24,248.84 L570.35,248.85 L570.45,248.85 L570.56,248.86 L570.67,248.87 L570.78,248.88 L570.88,248.89 L570.99,248.90 L571.10,248.90 L571.21,248.91 L571.31,248.92 L571.42,248.93 L571.53,248.94 L571.64,248.95 L571.74,248.95 L571.85,248.96 L571.96,248.97 L572.07,248.98 L572.17,248.99 L572.28,248.99 L572.39,249.00 L572.50,249.01 L572.60,249.02 L572.71,249.03 L572.82,249.04 L572.92,249.04 L573.03,249.05 L573.14,249.06 L573.25,249.07 L573.35,249.08 L573.46,249.08 L573.57,249.09 L573.68,249.10 L573.78,249.11 L573.89,249.12 L574.00,249.12 L574.11,249.13 L574.21,249.14 L574.32,249.15 L574.43,249.16 L574.54,249.16 L574.64,249.17 L574.75,249.18 L574.86,249.19 L574.97,249.20 L575.07,249.20 L575.18,249.21 L575.29,249.22 L575.40,249.23 L575.50,249.23 L575.61,249.24 L575.72,249.25 L575.83,249.26 L575.93,249.27 L576.04,249.27 L576.15,249.28 L576.25,249.29 L576.36,249.30 L576.47,249.31 L576.58,249.31 L576.68,249.32 L576.79,249.33 L576.90,249.34 L577.01,249.34 L577.11,249.35 L577.22,249.36 L577.33,249.37 L577.44,249.37 L577.54,249.38 L577.65,249.39 L577.76,249.40 L577.87,249.41 L577.97,249.41 L578.08,249.42 L578.19,249.43 L578.30,249.44 L578.40,249.44 L578.51,249.45 L578.62,249.46 L578.73,249.47 L578.83,249.47 L578.94,249.48 L579.05,249.49 L579.16,249.50 L579.26,249.50 L579.37,249.51 L579.48,249.52 L579.58,249.53 L579.69,249.53 L579.80,249.54 L579.91,249.55 L580.01,249.56 L580.12,249.56 L580.23,249.57 L580.34,249.58 L580.44,249.59 L580.55,249.59 L580.66,249.60 L580.77,249.61 L580.87,249.62 L580.98,249.62 L581.09,249.63 L581.20,249.64 L581.30,249.65 L581.41,249.65 L581.52,249.66 L581.63,249.67 L581.73,249.68 L581.84,249.68 L581.95,249.69 L582.06,249.70 L582.16,249.71 L582.27,249.71 L582.38,249.72 L582.49,249.73 L582.59,249.73 L582.70,249.74 L582.81,249.75 L582.91,249.76 L583.02,249.76 L583.13,249.77 L583.24,249.78 L583.34,249.79 L583.45,249.79 L583.56,249.80 L583.67,249.81 L583.77,249.81 L583.88,249.82 L583.99,249.83 L584.10,249.84 L584.20,249.84 L584.31,249.85 L584.42,249.86 L584.53,249.86 L584.63,249.87 L584.74,249.88 L584.85,249.89 L584.96,249.89 L585.06,249.90 L585.17,249.91 L585.28,249.91 L585.39,249.92 L585.49,249.93 L585.60,249.94 L585.71,249.94 L585.82,249.95 L585.92,249.96 L586.03,249.96 L586.14,249.97 L586.24,249.98 L586.35,249.98 L586.46,249.99 L586.57,250.00 L586.67,250.01 L586.78,250.01 L586.89,250.02 L587.00,250.03 L587.10,250.03 L587.21,250.04 L587.32,250.05 L587.43,250.05 L587.53,250.06 L587.64,250.07 L587.75,250.08 L587.86,250.08 L587.96,250.09 L588.07,250.10 L588.18,250.10 L588.29,250.11 L588.39,250.12 L588.50,250.12 L588.61,250.13 L588.72,250.14 L588.82,250.14 L588.93,250.15 L589.04,250.16 L589.15,250.16 L589.25,250.17 L589.36,250.18 L589.47,250.19 L589.57,250.19 L589.68,250.20 L589.79,250.21 L589.90,250.21 L590.00,250.22 L590.11,250.23 L590.22,250.23 L590.33,250.24 L590.43,250.25 L590.54,250.25 L590.65,250.26 L590.76,250.27 L590.86,250.27 L590.97,250.28 L591.08,250.29 L591.19,250.29 L591.29,250.30 L591.40,250.31 L591.51,250.31 L591.62,250.32 L591.72,250.33 L591.83,250.33 L591.94,250.34 L592.05,250.35 L592.15,250.35 L592.26,250.36 L592.37,250.37 L592.48,250.37 L592.58,250.38 L592.69,250.39 L592.80,250.39 L592.90,250.40 L593.01,250.41 L593.12,250.41 L593.23,250.42 L593.33,250.43 L593.44,250.43 L593.55,250.44 L593.66,250.45 L593.76,250.45 L593.87,250.46 L593.98,250.47 L594.09,250.47 L594.19,250.48 L594.30,250.49 L594.41,250.49 L594.52,250.50 L594.62,250.50 L594.73,250.51 L594.84,250.52 L594.95,250.52 L595.05,250.53 L595.16,250.54 L595.27,250.54 L595.38,250.55 L595.48,250.56 L595.59,250.56 L595.70,250.57 L595.81,250.58 L595.91,250.58 L596.02,250.59 L596.13,250.60 L596.23,250.60 L596.34,250.61 L596.45,250.61 L596.56,250.62 L596.66,250.63 L596.77,250.63 L596.88,250.64 L596.99,250.65 L597.09,250.65 L597.20,250.66 L597.31,250.67 L597.42,250.67 L597.52,250.68 L597.63,250.68 L597.74,250.69 L597.85,250.70 L597.95,250.70 L598.06,250.71 L598.17,250.72 L598.28,250.72 L598.38,250.73 L598.49,250.73 L598.60,250.74 L598.71,250.75 L598.81,250.75 L598.92,250.76 L599.03,250.77 L599.14,250.77 L599.24,250.78 L599.35,250.78 L599.46,250.79 L599.56,250.80 L599.67,250.80 L599.78,250.81 L599.89,250.82 L599.99,250.82 L600.10,250.83 L600.21,250.83 L600.32,250.84 L600.42,250.85 L600.53,250.85 L600.64,250.86 L600.75,250.87 L600.85,250.87 L600.96,250.88 L601.07,250.88 L601.18,250.89 L601.28,250.90 L601.39,250.90 L601.50,250.91 L601.61,250.91 L601.71,250.92 L601.82,250.93 L601.93,250.93 L602.04,250.94 L602.14,250.95 L602.25,250.95 L602.36,250.96 L602.47,250.96 L602.57,250.97 L602.68,250.98 L602.79,250.98 L602.89,250.99 L603.00,250.99 L603.11,251.00 L603.22,251.01 L603.32,251.01 L603.43,251.02 L603.54,251.02 L603.65,251.03 L603.75,251.04 L603.86,251.04 L603.97,251.05 L604.08,251.05 L604.18,251.06 L604.29,251.07 L604.40,251.07 L604.51,251.08 L604.61,251.08 L604.72,251.09 L604.83,251.10 L604.94,251.10 L605.04,251.11 L605.15,251.11 L605.26,251.12 L605.37,251.13 L605.47,251.13 L605.58,251.14 L605.69,251.14 L605.80,251.15 L605.90,251.15 L606.01,251.16 L606.12,251.17 L606.22,251.17 L606.33,251.18 L606.44,251.18 L606.55,251.19 L606.65,251.20 L606.76,251.20 L606.87,251.21 L606.98,251.21 L607.08,251.22 L607.19,251.23 L607.30,251.23 L607.41,251.24 L607.51,251.24 L607.62,251.25 L607.73,251.25 L607.84,251.26 L607.94,251.27 L608.05,251.27 L608.16,251.28 L608.27,251.28 L608.37,251.29 L608.48,251.29 L608.59,251.30 L608.70,251.31 L608.80,251.31 L608.91,251.32 L609.02,251.32 L609.13,251.33 L609.23,251.34 L609.34,251.34 L609.45,251.35 L609.55,251.35 L609.66,251.36 L609.77,251.36 L609.88,251.37 L609.98,251.38 L610.09,251.38 L610.20,251.39 L610.31,251.39 L610.41,251.40 L610.52,251.40 L610.63,251.41 L610.74,251.42 L610.84,251.42 L610.95,251.43 L611.06,251.43 L611.17,251.44 L611.27,251.44 L611.38,251.45 L611.49,251.45 L611.60,251.46 L611.70,251.47 L611.81,251.47 L611.92,251.48 L612.03,251.48 L612.13,251.49 L612.24,251.49 L612.35,251.50 L612.46,251.51 L612.56,251.51 L612.67,251.52 L612.78,251.52 L612.88,251.53 L612.99,251.53 L613.10,251.54 L613.21,251.54 L613.31,251.55 L613.42,251.56 L613.53,251.56 L613.64,251.57 L613.74,251.57 L613.85,251.58 L613.96,251.58 L614.07,251.59 L614.17,251.59 L614.28,251.60 L614.39,251.61 L614.50,251.61 L614.60,251.62 L614.71,251.62 L614.82,251.63 L614.93,251.63 L615.03,251.64 L615.14,251.64 L615.25,251.65 L615.36,251.65 L615.46,251.66 L615.57,251.67 L615.68,251.67 L615.79,251.68 L615.89,251.68 L616.00,251.69 L616.11,251.69 L616.21,251.70 L616.32,251.70 L616.43,251.71 L616.54,251.71 L616.64,251.72 L616.75,251.73 L616.86,251.73 L616.97,251.74 L617.07,251.74 L617.18,251.75 L617.29,251.75 L617.40,251.76 L617.50,251.76 L617.61,251.77 L617.72,251.77 L617.83,251.78 L617.93,251.78 L618.04,251.79 L618.15,251.80 L618.26,251.80 L618.36,251.81 L618.47,251.81 L618.58,251.82 L618.69,251.82 L618.79,251.83 L618.90,251.83 L619.01,251.84 L619.12,251.84 L619.22,251.85 L619.33,251.85 L619.44,251.86 L619.54,251.86 L619.65,251.87 L619.76,251.87 L619.87,251.88 L619.97,251.89 L620.08,251.89 L620.19,251.90 L620.30,251.90 L620.40,251.91 L620.51,251.91 L620.62,251.92 L620.73,251.92 L620.83,251.93 L620.94,251.93 L621.05,251.94 L621.16,251.94 L621.26,251.95 L621.37,251.95 L621.48,251.96 L621.59,251.96 L621.69,251.97 L621.80,251.97 L621.91,251.98 L622.02,251.98 L622.12,251.99 L622.23,252.00 L622.34,252.00 L622.45,252.01 L622.55,252.01 L622.66,252.02 L622.77,252.02 L622.87,252.03 L622.98,252.03 L623.09,252.04 L623.20,252.04 L623.30,252.05 L623.41,252.05 L623.52,252.06 L623.63,252.06 L623.73,252.07 L623.84,252.07 L623.95,252.08 L624.06,252.08 L624.16,252.09 L624.27,252.09 L624.38,252.10 L624.49,252.10 L624.59,252.11 L624.70,252.11 L624.81,252.12 L624.92,252.12 L625.02,252.13 L625.13,252.13 L625.24,252.14 L625.35,252.14 L625.45,252.15 L625.56,252.15 L625.67,252.16 L625.77,252.16 L625.88,252.17 L625.99,252.17 L626.10,252.18 L626.20,252.18 L626.31,252.19 L626.42,252.19 L626.53,252.20 L626.63,252.20 L626.74,252.21 L626.85,252.21 L626.96,252.22 L627.06,252.22 L627.17,252.23 L627.28,252.23 L627.39,252.24 L627.49,252.24 L627.60,252.25 L627.71,252.25 L627.82,252.26 L627.92,252.26 L628.03,252.27 L628.14,252.27 L628.25,252.28 L628.35,252.28 L628.46,252.29 L628.57,252.29 L628.68,252.30 L628.78,252.30 L628.89,252.31 L629.00,252.31 L629.10,252.32 L629.21,252.32 L629.32,252.33 L629.43,252.33 L629.53,252.34 L629.64,252.34 L629.75,252.35 L629.86,252.35 L629.96,252.36 L630.07,252.36 L630.18,252.37 L630.29,252.37 L630.39,252.38 L630.50,252.38 L630.61,252.39 L630.72,252.39 L630.82,252.40 L630.93,252.40 L631.04,252.41 L631.15,252.41 L631.25,252.42 L631.36,252.42 L631.47,252.43 L631.58,252.43 L631.68,252.44 L631.79,252.44 L631.90,252.45 L632.01,252.45 L632.11,252.46 L632.22,252.46 L632.33,252.46 L632.43,252.47 L632.54,252.47 L632.65,252.48 L632.76,252.48 L632.86,252.49 L632.97,252.49 L633.08,252.50 L633.19,252.50 L633.29,252.51 L633.40,252.51 L633.51,252.52 L633.62,252.52 L633.72,252.53 L633.83,252.53 L633.94,252.54 L634.05,252.54 L634.15,252.55 L634.26,252.55 L634.37,252.56 L634.48,252.56 L634.58,252.57 L634.69,252.57 L634.80,252.57 L634.91,252.58 L635.01,252.58 L635.12,252.59 L635.23,252.59 L635.34,252.60 L635.44,252.60 L635.55,252.61 L635.66,252.61 L635.76,252.62 L635.87,252.62 L635.98,252.63 L636.09,252.63 L636.19,252.64 L636.30,252.64 L636.41,252.65 L636.52,252.65 L636.62,252.65 L636.73,252.66 L636.84,252.66 L636.95,252.67 L637.05,252.67 L637.16,252.68 L637.27,252.68 L637.38,252.69 L637.48,252.69 L637.59,252.70 L637.70,252.70 L637.81,252.71 L637.91,252.71 L638.02,252.71 L638.13,252.72 L638.24,252.72 L638.34,252.73 L638.45,252.73 L638.56,252.74 L638.67,252.74 L638.77,252.75 L638.88,252.75 L638.99,252.76 L639.09,252.76 L639.20,252.77 L639.31,252.77 L639.42,252.77 L639.52,252.78 L639.63,252.78 L639.74,252.79 L639.85,252.79 L639.95,252.80 L640.06,252.80 L640.17,252.81 L640.28,252.81 L640.38,252.82 L640.49,252.82 L640.60,252.82 L640.71,252.83 L640.81,252.83 L640.92,252.84 L641.03,252.84 L641.14,252.85 L641.24,252.85 L641.35,252.86 L641.46,252.86 L641.57,252.87 L641.67,252.87 L641.78,252.87 L641.89,252.88 L642.00,252.88 L642.10,252.89 L642.21,252.89 L642.32,252.90 L642.42,252.90 L642.53,252.91 L642.64,252.91 L642.75,252.91 L642.85,252.92 L642.96,252.92 L643.07,252.93 L643.18,252.93 L643.28,252.94 L643.39,252.94 L643.50,252.95 L643.61,252.95 L643.71,252.95 L643.82,252.96 L643.93,252.96 L644.04,252.97 L644.14,252.97 L644.25,252.98 L644.36,252.98 L644.47,252.99 L644.57,252.99 L644.68,252.99 L644.79,253.00 L644.90,253.00 L645.00,253.01 L645.11,253.01 L645.22,253.02 L645.33,253.02 L645.43,253.03 L645.54,253.03 L645.65,253.03 L645.75,253.04 L645.86,253.04 L645.97,253.05 L646.08,253.05 L646.18,253.06 L646.29,253.06 L646.40,253.06 L646.51,253.07 L646.61,253.07 L646.72,253.08 L646.83,253.08 L646.94,253.09 L647.04,253.09 L647.15,253.10 L647.26,253.10 L647.37,253.10 L647.47,253.11 L647.58,253.11 L647.69,253.12 L647.80,253.12 L647.90,253.13 L648.01,253.13 L648.12,253.13 L648.23,253.14 L648.33,253.14 L648.44,253.15 L648.55,253.15 L648.66,253.16 L648.76,253.16 L648.87,253.16 L648.98,253.17 L649.08,253.17 L649.19,253.18 L649.30,253.18 L649.41,253.19 L649.51,253.19 L649.62,253.19 L649.73,253.20 L649.84,253.20 L649.94,253.21 L650.05,253.21 L650.16,253.22 L650.27,253.22 L650.37,253.22 L650.48,253.23 L650.59,253.23 L650.70,253.24 L650.80,253.24 L650.91,253.24 L651.02,253.25 L651.13,253.25 L651.23,253.26 L651.34,253.26 L651.45,253.27 L651.56,253.27 L651.66,253.27 L651.77,253.28 L651.88,253.28 L651.99,253.29 L652.09,253.29 L652.20,253.30 L652.31,253.30 L652.41,253.30 L652.52,253.31 L652.63,253.31 L652.74,253.32 L652.84,253.32 L652.95,253.32 L653.06,253.33 L653.17,253.33 L653.27,253.34 L653.38,253.34 L653.49,253.35 L653.60,253.35 L653.70,253.35 L653.81,253.36 L653.92,253.36 L654.03,253.37 L654.13,253.37 L654.24,253.37 L654.35,253.38 L654.46,253.38 L654.56,253.39 L654.67,253.39 L654.78,253.39 L654.89,253.40 L654.99,253.40 L655.10,253.41 L655.21,253.41 L655.32,253.42 L655.42,253.42 L655.53,253.42 L655.64,253.43 L655.74,253.43 L655.85,253.44 L655.96,253.44 L656.07,253.44 L656.17,253.45 L656.28,253.45 L656.39,253.46 L656.50,253.46 L656.60,253.46 L656.71,253.47 L656.82,253.47 L656.93,253.48 L657.03,253.48 L657.14,253.48 L657.25,253.49 L657.36,253.49 L657.46,253.50 L657.57,253.50 L657.68,253.50 L657.79,253.51 L657.89,253.51 L658.00,253.52 L658.11,253.52 L658.22,253.52 L658.32,253.53 L658.43,253.53 L658.54,253.54 L658.65,253.54 L658.75,253.54 L658.86,253.55 L658.97,253.55 L659.07,253.56 L659.18,253.56 L659.29,253.56 L659.40,253.57 L659.50,253.57 L659.61,253.58 L659.72,253.58 L659.83,253.58 L659.93,253.59 L660.04,253.59 L660.15,253.60 L660.26,253.60 L660.36,253.60 L660.47,253.61 L660.58,253.61 L660.69,253.62 L660.79,253.62 L660.90,253.62 L661.01,253.63 L661.12,253.63 L661.22,253.64 L661.33,253.64 L661.44,253.64 L661.55,253.65 L661.65,253.65 L661.76,253.66 L661.87,253.66 L661.98,253.66 L662.08,253.67 L662.19,253.67 L662.30,253.68 L662.40,253.68 L662.51,253.68 L662.62,253.69 L662.73,253.69 L662.83,253.69 L662.94,253.70 L663.05,253.70 L663.16,253.71 L663.26,253.71 L663.37,253.71 L663.48,253.72 L663.59,253.72 L663.69,253.73 L663.80,253.73 L663.91,253.73 L664.02,253.74 L664.12,253.74 L664.23,253.75 L664.34,253.75 L664.45,253.75 L664.55,253.76 L664.66,253.76 L664.77,253.76 L664.88,253.77 L664.98,253.77 L665.09,253.78 L665.20,253.78 L665.31,253.78 L665.41,253.79 L665.52,253.79 L665.63,253.79 L665.73,253.80 L665.84,253.80 L665.95,253.81 L666.06,253.81 L666.16,253.81 L666.27,253.82 L666.38,253.82 L666.49,253.83 L666.59,253.83 L666.70,253.83 L666.81,253.84 L666.92,253.84 L667.02,253.84 L667.13,253.85 L667.24,253.85 L667.35,253.86 L667.45,253.86 L667.56,253.86 L667.67,253.87 L667.78,253.87 L667.88,253.87 L667.99,253.88 L668.10,253.88 L668.21,253.89 L668.31,253.89 L668.42,253.89 L668.53,253.90 L668.64,253.90 L668.74,253.90 L668.85,253.91 L668.96,253.91 L669.06,253.92 L669.17,253.92 L669.28,253.92 L669.39,253.93 L669.49,253.93 L669.60,253.93 L669.71,253.94 L669.82,253.94 L669.92,253.95 L670.03,253.95 L670.14,253.95 L670.25,253.96 L670.35,253.96 L670.46,253.96 L670.57,253.97 L670.68,253.97 L670.78,253.97 L670.89,253.98 L671.00,253.98 L671.11,253.99 L671.21,253.99 L671.32,253.99 L671.43,254.00 L671.54,254.00 L671.64,254.00 L671.75,254.01 L671.86,254.01 L671.97,254.02 L672.07,254.02 L672.18,254.02 L672.29,254.03 L672.39,254.03 L672.50,254.03 L672.61,254.04 L672.72,254.04 L672.82,254.04 L672.93,254.05 L673.04,254.05 L673.15,254.06 L673.25,254.06 L673.36,254.06 L673.47,254.07 L673.58,254.07 L673.68,254.07 L673.79,254.08 L673.90,254.08 L674.01,254.08 L674.11,254.09 L674.22,254.09 L674.33,254.10 L674.44,254.10 L674.54,254.10 L674.65,254.11 L674.76,254.11 L674.87,254.11 L674.97,254.12 L675.08,254.12 L675.19,254.12 L675.30,254.13 L675.40,254.13 L675.51,254.13 L675.62,254.14 L675.72,254.14 L675.83,254.15 L675.94,254.15 L676.05,254.15 L676.15,254.16 L676.26,254.16 L676.37,254.16 L676.48,254.17 L676.58,254.17 L676.69,254.17 L676.80,254.18 L676.91,254.18 L677.01,254.18 L677.12,254.19 L677.23,254.19 L677.34,254.19 L677.44,254.20 L677.55,254.20 L677.66,254.21 L677.77,254.21 L677.87,254.21 L677.98,254.22 L678.09,254.22 L678.20,254.22 L678.30,254.23 L678.41,254.23 L678.52,254.23 L678.63,254.24 L678.73,254.24 L678.84,254.24 L678.95,254.25 L679.05,254.25 L679.16,254.25 L679.27,254.26 L679.38,254.26 L679.48,254.26 L679.59,254.27 L679.70,254.27 L679.81,254.28 L679.91,254.28 L680.02,254.28 L680.13,254.29 L680.24,254.29 L680.34,254.29 L680.45,254.30 L680.56,254.30 L680.67,254.30 L680.77,254.31 L680.88,254.31 L680.99,254.31 L681.10,254.32 L681.20,254.32 L681.31,254.32 L681.42,254.33 L681.53,254.33 L681.63,254.33 L681.74,254.34 L681.85,254.34 L681.96,254.34 L682.06,254.35 L682.17,254.35 L682.28,254.35 L682.38,254.36 L682.49,254.36 L682.60,254.36 L682.71,254.37 L682.81,254.37 L682.92,254.37 L683.03,254.38 L683.14,254.38 L683.24,254.39 L683.35,254.39 L683.46,254.39 L683.57,254.40 L683.67,254.40 L683.78,254.40 L683.89,254.41 L684.00,254.41 L684.10,254.41 L684.21,254.42 L684.32,254.42 L684.43,254.42 L684.53,254.43 L684.64,254.43 L684.75,254.43 L684.86,254.44 L684.96,254.44 L685.07,254.44 L685.18,254.45 L685.29,254.45 L685.39,254.45 L685.50,254.46 L685.61,254.46 L685.71,254.46 L685.82,254.47 L685.93,254.47 L686.04,254.47 L686.14,254.48 L686.25,254.48 L686.36,254.48 L686.47,254.49 L686.57,254.49 L686.68,254.49 L686.79,254.50 L686.90,254.50 L687.00,254.50 L687.11,254.51 L687.22,254.51 L687.33,254.51 L687.43,254.52 L687.54,254.52 L687.65,254.52 L687.76,254.53 L687.86,254.53 L687.97,254.53 L688.08,254.54 L688.19,254.54 L688.29,254.54 L688.40,254.55 L688.51,254.55 L688.61,254.55 L688.72,254.55 L688.83,254.56 L688.94,254.56 L689.04,254.56 L689.15,254.57 L689.26,254.57 L689.37,254.57 L689.47,254.58 L689.58,254.58 L689.69,254.58 L689.80,254.59 L689.90,254.59 L690.01,254.59 L690.12,254.60 L690.23,254.60 L690.33,254.60 L690.44,254.61 L690.55,254.61 L690.66,254.61 L690.76,254.62 L690.87,254.62 L690.98,254.62 L691.09,254.63 L691.19,254.63 L691.30,254.63 L691.41,254.64 L691.52,254.64 L691.62,254.64 L691.73,254.65 L691.84,254.65 L691.94,254.65 L692.05,254.66 L692.16,254.66 L692.27,254.66 L692.37,254.66 L692.48,254.67 L692.59,254.67 L692.70,254.67 L692.80,254.68 L692.91,254.68 L693.02,254.68 L693.13,254.69 L693.23,254.69 L693.34,254.69 L693.45,254.70 L693.56,254.70 L693.66,254.70 L693.77,254.71 L693.88,254.71 L693.99,254.71 L694.09,254.72 L694.20,254.72 L694.31,254.72 L694.42,254.72 L694.52,254.73 L694.63,254.73 L694.74,254.73 L694.85,254.74 L694.95,254.74 L695.06,254.74 L695.17,254.75 L695.27,254.75 L695.38,254.75 L695.49,254.76 L695.60,254.76 L695.70,254.76 L695.81,254.77 L695.92,254.77 L696.03,254.77 L696.13,254.77 L696.24,254.78 L696.35,254.78 L696.46,254.78 L696.56,254.79 L696.67,254.79 L696.78,254.79 L696.89,254.80 L696.99,254.80 L697.10,254.80 L697.21,254.81 L697.32,254.81 L697.42,254.81 L697.53,254.82 L697.64,254.82 L697.75,254.82 L697.85,254.82 L697.96,254.83 L698.07,254.83 L698.18,254.83 L698.28,254.84 L698.39,254.84 L698.50,254.84 L698.60,254.85 L698.71,254.85 L698.82,254.85 L698.93,254.86 L699.03,254.86 L699.14,254.86 L699.25,254.86 L699.36,254.87 L699.46,254.87 L699.57,254.87 L699.68,254.88 L699.79,254.88 L699.89,254.88 L700.00,254.89 L700.11,254.89 L700.22,254.89 L700.32,254.89 L700.43,254.90 L700.54,254.90 L700.65,254.90 L700.75,254.91 L700.86,254.91 L700.97,254.91 L701.08,254.92 L701.18,254.92 L701.29,254.92 L701.40,254.92 L701.51,254.93 L701.61,254.93 L701.72,254.93 L701.83,254.94 L701.93,254.94 L702.04,254.94 L702.15,254.95 L702.26,254.95 L702.36,254.95 L702.47,254.95 L702.58,254.96 L702.69,254.96 L702.79,254.96 L702.90,254.97 L703.01,254.97 L703.12,254.97 L703.22,254.98 L703.33,254.98 L703.44,254.98 L703.55,254.98 L703.65,254.99 L703.76,254.99 L703.87,254.99 L703.98,255.00 L704.08,255.00 L704.19,255.00 L704.30,255.01 L704.41,255.01 L704.51,255.01 L704.62,255.01 L704.73,255.02 L704.84,255.02 L704.94,255.02 L705.05,255.03 L705.16,255.03 L705.26,255.03 L705.37,255.03 L705.48,255.04 L705.59,255.04 L705.69,255.04 L705.80,255.05 L705.91,255.05 L706.02,255.05 L706.12,255.06 L706.23,255.06 L706.34,255.06 L706.45,255.06 L706.55,255.07 L706.66,255.07 L706.77,255.07 L706.88,255.08 L706.98,255.08 L707.09,255.08 L707.20,255.08 L707.31,255.09 L707.41,255.09 L707.52,255.09 L707.63,255.10 L707.74,255.10 L707.84,255.10 L707.95,255.10 L708.06,255.11 L708.17,255.11 L708.27,255.11 L708.38,255.12 L708.49,255.12 L708.59,255.12 L708.70,255.12 L708.81,255.13 L708.92,255.13 L709.02,255.13 L709.13,255.14 L709.24,255.14 L709.35,255.14 L709.45,255.14 L709.56,255.15 L709.67,255.15 L709.78,255.15 L709.88,255.16 L709.99,255.16 L710.10,255.16 L710.21,255.16 L710.31,255.17 L710.42,255.17 L710.53,255.17 L710.64,255.18 L710.74,255.18 L710.85,255.18 L710.96,255.18 L711.07,255.19 L711.17,255.19 L711.28,255.19 L711.39,255.20 L711.50,255.20 L711.60,255.20 L711.71,255.20 L711.82,255.21 L711.92,255.21 L712.03,255.21 L712.14,255.22 L712.25,255.22 L712.35,255.22 L712.46,255.22 L712.57,255.23 L712.68,255.23 L712.78,255.23 L712.89,255.23 L713.00,255.24 L713.11,255.24 L713.21,255.24 L713.32,255.25 L713.43,255.25 L713.54,255.25 L713.64,255.25 L713.75,255.26 L713.86,255.26 L713.97,255.26 L714.07,255.27 L714.18,255.27 L714.29,255.27 L714.40,255.27 L714.50,255.28 L714.61,255.28 L714.72,255.28 L714.83,255.28 L714.93,255.29 L715.04,255.29 L715.15,255.29 L715.25,255.30 L715.36,255.30 L715.47,255.30 L715.58,255.30 L715.68,255.31 L715.79,255.31 L715.90,255.31 L716.01,255.31 L716.11,255.32 L716.22,255.32 L716.33,255.32 L716.44,255.33 L716.54,255.33 L716.65,255.33 L716.76,255.33 L716.87,255.34 L716.97,255.34 L717.08,255.34 L717.19,255.34 L717.30,255.35 L717.40,255.35 L717.51,255.35 L717.62,255.36 L717.73,255.36 L717.83,255.36 L717.94,255.36 L718.05,255.37 L718.16,255.37 L718.26,255.37 L718.37,255.37 L718.48,255.38 L718.58,255.38 L718.69,255.38 L718.80,255.38 L718.91,255.39 L719.01,255.39 L719.12,255.39 L719.23,255.40 L719.34,255.40 L719.44,255.40 L719.55,255.40 L719.66,255.41 L719.77,255.41 L719.87,255.41 L719.98,255.41 L720.09,255.42 L720.20,255.42 L720.30,255.42 L720.41,255.42 L720.52,255.43 L720.63,255.43 L720.73,255.43 L720.84,255.44 L720.95,255.44 L721.06,255.44 L721.16,255.44 L721.27,255.45 L721.38,255.45 L721.49,255.45 L721.59,255.45 L721.70,255.46 L721.81,255.46 L721.91,255.46 L722.02,255.46 L722.13,255.47 L722.24,255.47 L722.34,255.47 L722.45,255.47 L722.56,255.48 L722.67,255.48 L722.77,255.48 L722.88,255.49 L722.99,255.49 L723.10,255.49 L723.20,255.49 L723.31,255.50 L723.42,255.50 L723.53,255.50 L723.63,255.50 L723.74,255.51 L723.85,255.51 L723.96,255.51 L724.06,255.51 L724.17,255.52 L724.28,255.52 L724.39,255.52 L724.49,255.52 L724.60,255.53 L724.71,255.53 L724.82,255.53 L724.92,255.53 L725.03,255.54 L725.14,255.54 L725.24,255.54 L725.35,255.54 L725.46,255.55 L725.57,255.55 L725.67,255.55 L725.78,255.56 L725.89,255.56 L726.00,255.56 L726.10,255.56 L726.21,255.57 L726.32,255.57 L726.43,255.57 L726.53,255.57 L726.64,255.58 L726.75,255.58 L726.86,255.58 L726.96,255.58 L727.07,255.59 L727.18,255.59 L727.29,255.59 L727.39,255.59 L727.50,255.60 L727.61,255.60 L727.72,255.60 L727.82,255.60 L727.93,255.61 L728.04,255.61 L728.15,255.61 L728.25,255.61 L728.36,255.62 L728.47,255.62 L728.57,255.62 L728.68,255.62 L728.79,255.63 L728.90,255.63 L729.00,255.63 L729.11,255.63 L729.22,255.64 L729.33,255.64 L729.43,255.64 L729.54,255.64 L729.65,255.65 L729.76,255.65 L729.86,255.65 L729.97,255.65 L730.08,255.66 L730.19,255.66 L730.29,255.66 L730.40,255.66 L730.51,255.67 L730.62,255.67 L730.72,255.67 L730.83,255.67 L730.94,255.68 L731.05,255.68 L731.15,255.68 L731.26,255.68 L731.37,255.69 L731.48,255.69 L731.58,255.69 L731.69,255.69 L731.80,255.70 L731.90,255.70 L732.01,255.70 L732.12,255.70 L732.23,255.71 L732.33,255.71 L732.44,255.71 L732.55,255.71 L732.66,255.72 L732.76,255.72 L732.87,255.72 L732.98,255.72 L733.09,255.73 L733.19,255.73 L733.30,255.73 L733.41,255.73 L733.52,255.73 L733.62,255.74 L733.73,255.74 L733.84,255.74 L733.95,255.74 L734.05,255.75 L734.16,255.75 L734.27,255.75 L734.38,255.75 L734.48,255.76 L734.59,255.76 L734.70,255.76 L734.81,255.76 L734.91,255.77 L735.02,255.77 L735.13,255.77 L735.23,255.77 L735.34,255.78 L735.45,255.78 L735.56,255.78 L735.66,255.78 L735.77,255.79 L735.88,255.79 L735.99,255.79 L736.09,255.79 L736.20,255.80 L736.31,255.80 L736.42,255.80 L736.52,255.80 L736.63,255.80 L736.74,255.81 L736.85,255.81 L736.95,255.81 L737.06,255.81 L737.17,255.82 L737.28,255.82 L737.38,255.82 L737.49,255.82 L737.60,255.83 L737.71,255.83 L737.81,255.83 L737.92,255.83 L738.03,255.84 L738.14,255.84 L738.24,255.84 L738.35,255.84 L738.46,255.85 L738.56,255.85 L738.67,255.85 L738.78,255.85 L738.89,255.85 L738.99,255.86 L739.10,255.86 L739.21,255.86 L739.32,255.86 L739.42,255.87 L739.53,255.87 L739.64,255.87 L739.75,255.87 L739.85,255.88 L739.96,255.88 L740.07,255.88 L740.18,255.88 L740.28,255.88 L740.39,255.89 L740.50,255.89 L740.61,255.89 L740.71,255.89 L740.82,255.90 L740.93,255.90 L741.04,255.90 L741.14,255.90 L741.25,255.91 L741.36,255.91 L741.47,255.91 L741.57,255.91 L741.68,255.92 L741.79,255.92 L741.89,255.92 L742.00,255.92 L742.11,255.92 L742.22,255.93 L742.32,255.93 L742.43,255.93 L742.54,255.93 L742.65,255.94 L742.75,255.94 L742.86,255.94 L742.97,255.94 L743.08,255.94 L743.18,255.95 L743.29,255.95 L743.40,255.95 L743.51,255.95 L743.61,255.96 L743.72,255.96 L743.83,255.96 L743.94,255.96 L744.04,255.97 L744.15,255.97 L744.26,255.97 L744.37,255.97 L744.47,255.97 L744.58,255.98 L744.69,255.98 L744.80,255.98 L744.90,255.98 L745.01,255.99 L745.12,255.99 L745.22,255.99 L745.33,255.99 L745.44,255.99 L745.55,256.00 L745.65,256.00 L745.76,256.00 L745.87,256.00 L745.98,256.01 L746.08,256.01 L746.19,256.01 L746.30,256.01 L746.41,256.02 L746.51,256.02 L746.62,256.02 L746.73,256.02 L746.84,256.02 L746.94,256.03 L747.05,256.03 L747.16,256.03 L747.27,256.03 L747.37,256.04 L747.48,256.04 L747.59,256.04 L747.70,256.04 L747.80,256.04 L747.91,256.05 L748.02,256.05 L748.13,256.05 L748.23,256.05 L748.34,256.06 L748.45,256.06 L748.55,256.06 L748.66,256.06 L748.77,256.06 L748.88,256.07 L748.98,256.07 L749.09,256.07 L749.20,256.07 L749.31,256.07 L749.41,256.08 L749.52,256.08 L749.63,256.08 L749.74,256.08 L749.84,256.09 L749.95,256.09 L750.06,256.09 L750.17,256.09 L750.27,256.09 L750.38,256.10 L750.49,256.10 L750.60,256.10 L750.70,256.10 L750.81,256.11 L750.92,256.11 L751.03,256.11 L751.13,256.11 L751.24,256.11 L751.35,256.12 L751.45,256.12 L751.56,256.12 L751.67,256.12 L751.78,256.12 L751.88,256.13 L751.99,256.13 L752.10,256.13 L752.21,256.13 L752.31,256.14 L752.42,256.14 L752.53,256.14 L752.64,256.14 L752.74,256.14 L752.85,256.15 L752.96,256.15 L753.07,256.15 L753.17,256.15 L753.28,256.15 L753.39,256.16 L753.50,256.16 L753.60,256.16 L753.71,256.16 L753.82,256.17 L753.93,256.17 L754.03,256.17 L754.14,256.17 L754.25,256.17 L754.36,256.18 L754.46,256.18 L754.57,256.18 L754.68,256.18 L754.78,256.18 L754.89,256.19 L755.00,256.19 L755.11,256.19 L755.21,256.19 L755.32,256.20 L755.43,256.20 L755.54,256.20 L755.64,256.20 L755.75,256.20 L755.86,256.21 L755.97,256.21 L756.07,256.21 L756.18,256.21 L756.29,256.21 L756.40,256.22 L756.50,256.22 L756.61,256.22 L756.72,256.22 L756.83,256.22 L756.93,256.23 L757.04,256.23 L757.15,256.23 L757.26,256.23 L757.36,256.24 L757.47,256.24 L757.58,256.24 L757.69,256.24 L757.79,256.24 L757.90,256.25 L758.01,256.25 L758.11,256.25 L758.22,256.25 L758.33,256.25 L758.44,256.26 L758.54,256.26 L758.65,256.26 L758.76,256.26 L758.87,256.26 L758.97,256.27 L759.08,256.27 L759.19,256.27 L759.30,256.27 L759.40,256.27 L759.51,256.28 L759.62,256.28 L759.73,256.28 L759.83,256.28 L759.94,256.28 L760.05,256.29 L760.16,256.29 L760.26,256.29 L760.37,256.29 L760.48,256.29 L760.59,256.30 L760.69,256.30 L760.80,256.30 L760.91,256.30 L761.02,256.31 L761.12,256.31 L761.23,256.31 L761.34,256.31 L761.44,256.31 L761.55,256.32 L761.66,256.32 L761.77,256.32 L761.87,256.32 L761.98,256.32 L762.09,256.33 L762.20,256.33 L762.30,256.33 L762.41,256.33 L762.52,256.33 L762.63,256.34 L762.73,256.34 L762.84,256.34 L762.95,256.34 L763.06,256.34 L763.16,256.35 L763.27,256.35 L763.38,256.35 L763.49,256.35 L763.59,256.35 L763.70,256.36 L763.81,256.36 L763.92,256.36 L764.02,256.36 L764.13,256.36 L764.24,256.37 L764.35,256.37 L764.45,256.37 L764.56,256.37 L764.67,256.37 L764.77,256.38 L764.88,256.38 L764.99,256.38 L765.10,256.38 L765.20,256.38 L765.31,256.39 L765.42,256.39 L765.53,256.39 L765.63,256.39 L765.74,256.39 L765.85,256.40 L765.96,256.40 L766.06,256.40 L766.17,256.40 L766.28,256.40 L766.39,256.40 L766.49,256.41 L766.60,256.41 L766.71,256.41 L766.82,256.41 L766.92,256.41 L767.03,256.42 L767.14,256.42 L767.25,256.42 L767.35,256.42 L767.46,256.42 L767.57,256.43 L767.68,256.43 L767.78,256.43 L767.89,256.43 L768.00,256.43 L768.10,256.44 L768.21,256.44 L768.32,256.44 L768.43,256.44 L768.53,256.44 L768.64,256.45 L768.75,256.45 L768.86,256.45 L768.96,256.45 L769.07,256.45 L769.18,256.46 L769.29,256.46 L769.39,256.46 L769.50,256.46 L769.61,256.46 L769.72,256.47 L769.82,256.47 L769.93,256.47 L770.04,256.47 L770.15,256.47 L770.25,256.47 L770.36,256.48 L770.47,256.48 L770.58,256.48 L770.68,256.48 L770.79,256.48 L770.90,256.49 L771.01,256.49 L771.11,256.49 L771.22,256.49 L771.33,256.49 L771.43,256.50 L771.54,256.50 L771.65,256.50 L771.76,256.50 L771.86,256.50 L771.97,256.51 L772.08,256.51 L772.19,256.51 L772.29,256.51 L772.40,256.51 L772.51,256.51 L772.62,256.52 L772.72,256.52 L772.83,256.52 L772.94,256.52 L773.05,256.52 L773.15,256.53 L773.26,256.53 L773.37,256.53 L773.48,256.53 L773.58,256.53 L773.69,256.54 L773.80,256.54 L773.91,256.54 L774.01,256.54 L774.12,256.54 L774.23,256.54 L774.34,256.55 L774.44,256.55 L774.55,256.55 L774.66,256.55 L774.76,256.55 L774.87,256.56 L774.98,256.56 L775.09,256.56 L775.19,256.56 L775.30,256.56 L775.41,256.57 L775.52,256.57 L775.62,256.57 L775.73,256.57 L775.84,256.57 L775.95,256.57 L776.05,256.58 L776.16,256.58 L776.27,256.58 L776.38,256.58 L776.48,256.58 L776.59,256.59" fill="none" stroke="#000" stroke-width="1.2"/>
<path d="M447.2,7.0 V272.05" fill="none" stroke="#8a8a8a" stroke-width="1.7"/>
<path d="M446.34999999999997,271.5 H774.8" fill="none" stroke="#1a1a1a" stroke-width="1.1"/>
<path d="M442.2,259.4 H447.2" stroke="#333" stroke-width="1.3"/>
<text transform="translate(415.81,263.90) scale(1.0385,1)" font-size="15.60" fill="#000" stroke="#000" stroke-width="0.25" font-family="Liberation Sans, sans-serif">0,0</text>
<path d="M442.2,211.39999999999998 H447.2" stroke="#333" stroke-width="1.3"/>
<text transform="translate(415.99,215.90) scale(1.0385,1)" font-size="15.60" fill="#000" stroke="#000" stroke-width="0.25" font-family="Liberation Sans, sans-serif">0,2</text>
<path d="M442.2,163.39999999999998 H447.2" stroke="#333" stroke-width="1.3"/>
<text transform="translate(415.65,167.90) scale(1.0385,1)" font-size="15.60" fill="#000" stroke="#000" stroke-width="0.25" font-family="Liberation Sans, sans-serif">0,4</text>
<path d="M442.2,115.39999999999998 H447.2" stroke="#333" stroke-width="1.3"/>
<text transform="translate(415.89,119.90) scale(1.0385,1)" font-size="15.60" fill="#000" stroke="#000" stroke-width="0.25" font-family="Liberation Sans, sans-serif">0,6</text>
<path d="M442.2,67.39999999999998 H447.2" stroke="#333" stroke-width="1.3"/>
<text transform="translate(415.88,71.90) scale(1.0385,1)" font-size="15.60" fill="#000" stroke="#000" stroke-width="0.25" font-family="Liberation Sans, sans-serif">0,8</text>
<path d="M442.2,19.399999999999977 H447.2" stroke="#333" stroke-width="1.3"/>
<text transform="translate(415.81,23.90) scale(1.0385,1)" font-size="15.60" fill="#000" stroke="#000" stroke-width="0.25" font-family="Liberation Sans, sans-serif">1,0</text>
<path d="M444.7,235.39999999999998 H447.2" stroke="#333" stroke-width="1.3"/>
<path d="M444.7,187.39999999999998 H447.2" stroke="#333" stroke-width="1.3"/>
<path d="M444.7,139.39999999999998 H447.2" stroke="#333" stroke-width="1.3"/>
<path d="M444.7,91.39999999999998 H447.2" stroke="#333" stroke-width="1.3"/>
<path d="M444.7,43.39999999999998 H447.2" stroke="#333" stroke-width="1.3"/>
<path d="M451.20000000000005,271.5 V276.7" stroke="#333" stroke-width="1.3"/>
<text transform="translate(430.85,292.70) scale(1.0443,1)" font-size="15.80" fill="#000" stroke="#000" stroke-width="0.25" font-family="Liberation Sans, sans-serif">0,000</text>
<path d="M510.00000000000006,271.5 V276.7" stroke="#333" stroke-width="1.3"/>
<text transform="translate(489.57,292.70) scale(1.0443,1)" font-size="15.80" fill="#000" stroke="#000" stroke-width="0.25" font-family="Liberation Sans, sans-serif">0,004</text>
<path d="M568.8000000000001,271.5 V276.7" stroke="#333" stroke-width="1.3"/>
<text transform="translate(548.49,292.70) scale(1.0443,1)" font-size="15.80" fill="#000" stroke="#000" stroke-width="0.25" font-family="Liberation Sans, sans-serif">0,008</text>
<path d="M627.6,271.5 V276.7" stroke="#333" stroke-width="1.3"/>
<text transform="translate(607.35,292.70) scale(1.0443,1)" font-size="15.80" fill="#000" stroke="#000" stroke-width="0.25" font-family="Liberation Sans, sans-serif">0,012</text>
<path d="M686.4000000000001,271.5 V276.7" stroke="#333" stroke-width="1.3"/>
<text transform="translate(666.10,292.70) scale(1.0443,1)" font-size="15.80" fill="#000" stroke="#000" stroke-width="0.25" font-family="Liberation Sans, sans-serif">0,016</text>
<path d="M745.2,271.5 V276.7" stroke="#333" stroke-width="1.3"/>
<text transform="translate(724.85,292.70) scale(1.0443,1)" font-size="15.80" fill="#000" stroke="#000" stroke-width="0.25" font-family="Liberation Sans, sans-serif">0,020</text>
<path d="M480.6,271.5 V274.0" stroke="#333" stroke-width="1.3"/>
<path d="M539.4000000000001,271.5 V274.0" stroke="#333" stroke-width="1.3"/>
<path d="M598.2,271.5 V274.0" stroke="#333" stroke-width="1.3"/>
<path d="M657.0,271.5 V274.0" stroke="#333" stroke-width="1.3"/>
<path d="M715.8000000000001,271.5 V274.0" stroke="#333" stroke-width="1.3"/>
<path d="M774.6,271.5 V274.0" stroke="#333" stroke-width="1.3"/>
<text transform="translate(582.41,321.80) scale(1.0052,1)" font-size="19.30" fill="#000" font-family="Liberation Sans, sans-serif">time, s</text>
<text transform="translate(408.70,224.68) rotate(-90) scale(1.0489,1)" font-size="18.40" fill="#000" font-family="Liberation Sans, sans-serif">normalized intensity</text>
<circle cx="156.94" cy="37.50" r="2.05" fill="#0808f8"/>
<circle cx="157.49" cy="39.00" r="2.05" fill="#0808f8"/>
<circle cx="158.13" cy="40.71" r="2.05" fill="#0808f8"/>
<circle cx="158.87" cy="42.66" r="2.05" fill="#0808f8"/>
<circle cx="159.73" cy="44.87" r="2.05" fill="#0808f8"/>
<circle cx="160.73" cy="47.39" r="2.05" fill="#0808f8"/>
<circle cx="161.88" cy="50.23" r="2.05" fill="#0808f8"/>
<circle cx="163.22" cy="53.43" r="2.05" fill="#0808f8"/>
<circle cx="164.78" cy="57.01" r="2.05" fill="#0808f8"/>
<circle cx="166.59" cy="61.00" r="2.05" fill="#0808f8"/>
<circle cx="168.68" cy="65.41" r="2.05" fill="#0808f8"/>
<circle cx="171.11" cy="70.27" r="2.05" fill="#0808f8"/>
<circle cx="173.92" cy="75.55" r="2.05" fill="#0808f8"/>
<circle cx="177.19" cy="81.26" r="2.05" fill="#0808f8"/>
<circle cx="180.98" cy="87.36" r="2.05" fill="#0808f8"/>
<circle cx="185.38" cy="93.79" r="2.05" fill="#0808f8"/>
<circle cx="190.48" cy="100.49" r="2.05" fill="#0808f8"/>
<circle cx="196.40" cy="107.37" r="2.05" fill="#0808f8"/>
<circle cx="203.26" cy="114.31" r="2.05" fill="#0808f8"/>
<circle cx="211.22" cy="121.20" r="2.05" fill="#0808f8"/>
<circle cx="220.46" cy="127.92" r="2.05" fill="#0808f8"/>
<circle cx="231.17" cy="134.36" r="2.05" fill="#0808f8"/>
<circle cx="243.60" cy="140.44" r="2.05" fill="#0808f8"/>
<circle cx="258.02" cy="146.11" r="2.05" fill="#0808f8"/>
<circle cx="274.74" cy="151.37" r="2.05" fill="#0808f8"/>
<circle cx="294.14" cy="156.25" r="2.05" fill="#0808f8"/>
<circle cx="316.64" cy="160.82" r="2.05" fill="#0808f8"/>
<path d="M156.51,36.32 L156.72,36.90 L156.93,37.48 L157.14,38.06 L157.36,38.63 L157.57,39.20 L157.78,39.77 L157.99,40.33 L158.20,40.90 L158.41,41.46 L158.63,42.01 L158.84,42.57 L159.05,43.12 L159.26,43.67 L159.47,44.21 L159.68,44.75 L159.89,45.29 L160.11,45.83 L160.32,46.36 L160.53,46.89 L160.74,47.42 L160.95,47.95 L161.16,48.47 L161.37,48.99 L161.59,49.51 L161.80,50.02 L162.01,50.54 L162.22,51.05 L162.43,51.55 L162.64,52.06 L162.86,52.56 L163.07,53.06 L163.28,53.56 L163.49,54.05 L163.70,54.54 L163.91,55.03 L164.12,55.52 L164.34,56.00 L164.55,56.48 L164.76,56.96 L164.97,57.44 L165.18,57.91 L165.39,58.38 L165.60,58.85 L165.82,59.32 L166.03,59.79 L166.24,60.25 L166.45,60.71 L166.66,61.17 L166.87,61.62 L167.09,62.07 L167.30,62.52 L167.51,62.97 L167.72,63.42 L167.93,63.86 L168.14,64.30 L168.35,64.74 L168.57,65.18 L168.78,65.62 L168.99,66.05 L169.20,66.48 L169.41,66.91 L169.62,67.33 L169.83,67.76 L170.05,68.18 L170.26,68.60 L170.47,69.02 L170.68,69.43 L170.89,69.85 L171.10,70.26 L171.32,70.67 L171.53,71.07 L171.74,71.48 L171.95,71.88 L172.16,72.28 L172.37,72.68 L172.58,73.08 L172.80,73.48 L173.01,73.87 L173.22,74.26 L173.43,74.65 L173.64,75.04 L173.85,75.42 L174.06,75.81 L174.28,76.19 L174.49,76.57 L174.70,76.94 L174.91,77.32 L175.12,77.69 L175.33,78.07 L175.55,78.44 L175.76,78.80 L175.97,79.17 L176.18,79.54 L176.39,79.90 L176.60,80.26 L176.81,80.62 L177.03,80.98 L177.24,81.33 L177.45,81.69 L177.66,82.04 L177.87,82.39 L178.08,82.74 L178.29,83.09 L178.51,83.43 L178.72,83.78 L178.93,84.12 L179.14,84.46 L179.35,84.80 L179.56,85.13 L179.78,85.47 L179.99,85.80 L180.20,86.14 L180.41,86.47 L180.62,86.80 L180.83,87.12 L181.04,87.45 L181.26,87.77 L181.47,88.10 L181.68,88.42 L181.89,88.74 L182.10,89.05 L182.31,89.37 L182.52,89.68 L182.74,90.00 L182.95,90.31 L183.16,90.62 L183.37,90.93 L183.58,91.24 L183.79,91.54 L184.01,91.85 L184.22,92.15 L184.43,92.45 L184.64,92.75 L184.85,93.05 L185.06,93.35 L185.27,93.64 L185.49,93.94 L185.70,94.23 L185.91,94.52 L186.12,94.81 L186.33,95.10 L186.54,95.39 L186.75,95.67 L186.97,95.96 L187.18,96.24 L187.39,96.52 L187.60,96.80 L187.81,97.08 L188.02,97.36 L188.24,97.63 L188.45,97.91 L188.66,98.18 L188.87,98.46 L189.08,98.73 L189.29,99.00 L189.50,99.27 L189.72,99.53 L189.93,99.80 L190.14,100.06 L190.35,100.33 L190.56,100.59 L190.77,100.85 L190.98,101.11 L191.20,101.37 L191.41,101.63 L191.62,101.88 L191.83,102.14 L192.04,102.39 L192.25,102.64 L192.47,102.90 L192.68,103.15 L192.89,103.40 L193.10,103.64 L193.31,103.89 L193.52,104.14 L193.73,104.38 L193.95,104.62 L194.16,104.87 L194.37,105.11 L194.58,105.35 L194.79,105.59 L195.00,105.82 L195.21,106.06 L195.43,106.30 L195.64,106.53 L195.85,106.76 L196.06,107.00 L196.27,107.23 L196.48,107.46 L196.70,107.69 L196.91,107.92 L197.12,108.14 L197.33,108.37 L197.54,108.59 L197.75,108.82 L197.96,109.04 L198.18,109.26 L198.39,109.48 L198.60,109.70 L198.81,109.92 L199.02,110.14 L199.23,110.36 L199.44,110.57 L199.66,110.79 L199.87,111.00 L200.08,111.22 L200.29,111.43 L200.50,111.64 L200.71,111.85 L200.93,112.06 L201.14,112.27 L201.35,112.47 L201.56,112.68 L201.77,112.89 L201.98,113.09 L202.19,113.29 L202.41,113.50 L202.62,113.70 L202.83,113.90 L203.04,114.10 L203.25,114.30 L203.46,114.50 L203.67,114.69 L203.89,114.89 L204.10,115.09 L204.31,115.28 L204.52,115.47 L204.73,115.67 L204.94,115.86 L205.16,116.05 L205.37,116.24 L205.58,116.43 L205.79,116.62 L206.00,116.81 L206.21,116.99 L206.42,117.18 L206.64,117.37 L206.85,117.55 L207.06,117.73 L207.27,117.92 L207.48,118.10 L207.69,118.28 L207.90,118.46 L208.12,118.64 L208.33,118.82 L208.54,119.00 L208.75,119.18 L208.96,119.35 L209.17,119.53 L209.39,119.71 L209.60,119.88 L209.81,120.05 L210.02,120.23 L210.23,120.40 L210.44,120.57 L210.65,120.74 L210.87,120.91 L211.08,121.08 L211.29,121.25 L211.50,121.42 L211.71,121.58 L211.92,121.75 L212.13,121.92 L212.35,122.08 L212.56,122.25 L212.77,122.41 L212.98,122.57 L213.19,122.73 L213.40,122.90 L213.62,123.06 L213.83,123.22 L214.04,123.38 L214.25,123.54 L214.46,123.69 L214.67,123.85 L214.88,124.01 L215.10,124.16 L215.31,124.32 L215.52,124.47 L215.73,124.63 L215.94,124.78 L216.15,124.94 L216.37,125.09 L216.58,125.24 L216.79,125.39 L217.00,125.54 L217.21,125.69 L217.42,125.84 L217.63,125.99 L217.85,126.14 L218.06,126.28 L218.27,126.43 L218.48,126.58 L218.69,126.72 L218.90,126.87 L219.11,127.01 L219.33,127.16 L219.54,127.30 L219.75,127.44 L219.96,127.58 L220.17,127.72 L220.38,127.87 L220.60,128.01 L220.81,128.15 L221.02,128.28 L221.23,128.42 L221.44,128.56 L221.65,128.70 L221.86,128.84 L222.08,128.97 L222.29,129.11 L222.50,129.24 L222.71,129.38 L222.92,129.51 L223.13,129.65 L223.34,129.78 L223.56,129.91 L223.77,130.04 L223.98,130.18 L224.19,130.31 L224.40,130.44 L224.61,130.57 L224.83,130.70 L225.04,130.83 L225.25,130.95 L225.46,131.08 L225.67,131.21 L225.88,131.34 L226.09,131.46 L226.31,131.59 L226.52,131.71 L226.73,131.84 L226.94,131.96 L227.15,132.09 L227.36,132.21 L227.57,132.33 L227.79,132.46 L228.00,132.58 L228.21,132.70 L228.42,132.82 L228.63,132.94 L228.84,133.06 L229.06,133.18 L229.27,133.30 L229.48,133.42 L229.69,133.54 L229.90,133.66 L230.11,133.77 L230.32,133.89 L230.54,134.01 L230.75,134.12 L230.96,134.24 L231.17,134.36 L231.38,134.47 L231.59,134.58 L231.80,134.70 L232.02,134.81 L232.23,134.93 L232.44,135.04 L232.65,135.15 L232.86,135.26 L233.07,135.37 L233.29,135.48 L233.50,135.59 L233.71,135.71 L233.92,135.81 L234.13,135.92 L234.34,136.03 L234.55,136.14 L234.77,136.25 L234.98,136.36 L235.19,136.47 L235.40,136.57 L235.61,136.68 L235.82,136.78 L236.03,136.89 L236.25,137.00 L236.46,137.10 L236.67,137.21 L236.88,137.31 L237.09,137.41 L237.30,137.52 L237.52,137.62 L237.73,137.72 L237.94,137.83 L238.15,137.93 L238.36,138.03 L238.57,138.13 L238.78,138.23 L239.00,138.33 L239.21,138.43 L239.42,138.53 L239.63,138.63 L239.84,138.73 L240.05,138.83 L240.26,138.93 L240.48,139.03 L240.69,139.12 L240.90,139.22 L241.11,139.32 L241.32,139.42 L241.53,139.51 L241.75,139.61 L241.96,139.70 L242.17,139.80 L242.38,139.89 L242.59,139.99 L242.80,140.08 L243.01,140.18 L243.23,140.27 L243.44,140.36 L243.65,140.46 L243.86,140.55 L244.07,140.64 L244.28,140.74 L244.49,140.83 L244.71,140.92 L244.92,141.01 L245.13,141.10 L245.34,141.19 L245.55,141.28 L245.76,141.37 L245.98,141.46 L246.19,141.55 L246.40,141.64 L246.61,141.73 L246.82,141.82 L247.03,141.90 L247.24,141.99 L247.46,142.08 L247.67,142.17 L247.88,142.25 L248.09,142.34 L248.30,142.43 L248.51,142.51 L248.72,142.60 L248.94,142.68 L249.15,142.77 L249.36,142.86 L249.57,142.94 L249.78,143.02 L249.99,143.11 L250.21,143.19 L250.42,143.28 L250.63,143.36 L250.84,143.44 L251.05,143.53 L251.26,143.61 L251.47,143.69 L251.69,143.77 L251.90,143.85 L252.11,143.93 L252.32,144.02 L252.53,144.10 L252.74,144.18 L252.95,144.26 L253.17,144.34 L253.38,144.42 L253.59,144.50 L253.80,144.58 L254.01,144.66 L254.22,144.74 L254.44,144.81 L254.65,144.89 L254.86,144.97 L255.07,145.05 L255.28,145.13 L255.49,145.20 L255.70,145.28 L255.92,145.36 L256.13,145.43 L256.34,145.51 L256.55,145.59 L256.76,145.66 L256.97,145.74 L257.18,145.81 L257.40,145.89 L257.61,145.96 L257.82,146.04 L258.03,146.11 L258.24,146.19 L258.45,146.26 L258.67,146.34 L258.88,146.41 L259.09,146.48 L259.30,146.56 L259.51,146.63 L259.72,146.70 L259.93,146.78 L260.15,146.85 L260.36,146.92 L260.57,146.99 L260.78,147.06 L260.99,147.13 L261.20,147.21 L261.41,147.28 L261.63,147.35 L261.84,147.42 L262.05,147.49 L262.26,147.56 L262.47,147.63 L262.68,147.70 L262.90,147.77 L263.11,147.84 L263.32,147.91 L263.53,147.98 L263.74,148.05 L263.95,148.11 L264.16,148.18 L264.38,148.25 L264.59,148.32 L264.80,148.39 L265.01,148.45 L265.22,148.52 L265.43,148.59 L265.64,148.66 L265.86,148.72 L266.07,148.79 L266.28,148.86 L266.49,148.92 L266.70,148.99 L266.91,149.05 L267.13,149.12 L267.34,149.19 L267.55,149.25 L267.76,149.32 L267.97,149.38 L268.18,149.45 L268.39,149.51 L268.61,149.57 L268.82,149.64 L269.03,149.70 L269.24,149.77 L269.45,149.83 L269.66,149.89 L269.88,149.96 L270.09,150.02 L270.30,150.08 L270.51,150.15 L270.72,150.21 L270.93,150.27 L271.14,150.33 L271.36,150.40 L271.57,150.46 L271.78,150.52 L271.99,150.58 L272.20,150.64 L272.41,150.70 L272.62,150.77 L272.84,150.83 L273.05,150.89 L273.26,150.95 L273.47,151.01 L273.68,151.07 L273.89,151.13 L274.11,151.19 L274.32,151.25 L274.53,151.31 L274.74,151.37 L274.95,151.43 L275.16,151.49 L275.37,151.55 L275.59,151.61 L275.80,151.66 L276.01,151.72 L276.22,151.78 L276.43,151.84 L276.64,151.90 L276.85,151.96 L277.07,152.01 L277.28,152.07 L277.49,152.13 L277.70,152.19 L277.91,152.24 L278.12,152.30 L278.34,152.36 L278.55,152.42 L278.76,152.47 L278.97,152.53 L279.18,152.58 L279.39,152.64 L279.60,152.70 L279.82,152.75 L280.03,152.81 L280.24,152.87 L280.45,152.92 L280.66,152.98 L280.87,153.03 L281.08,153.09 L281.30,153.14 L281.51,153.20 L281.72,153.25 L281.93,153.31 L282.14,153.36 L282.35,153.41 L282.57,153.47 L282.78,153.52 L282.99,153.58 L283.20,153.63 L283.41,153.68 L283.62,153.74 L283.83,153.79 L284.05,153.85 L284.26,153.90 L284.47,153.95 L284.68,154.00 L284.89,154.06 L285.10,154.11 L285.31,154.16 L285.53,154.21 L285.74,154.27 L285.95,154.32 L286.16,154.37 L286.37,154.42 L286.58,154.48 L286.80,154.53 L287.01,154.58 L287.22,154.63 L287.43,154.68 L287.64,154.73 L287.85,154.78 L288.06,154.83 L288.28,154.89 L288.49,154.94 L288.70,154.99 L288.91,155.04 L289.12,155.09 L289.33,155.14 L289.54,155.19 L289.76,155.24 L289.97,155.29 L290.18,155.34 L290.39,155.39 L290.60,155.44 L290.81,155.49 L291.03,155.54 L291.24,155.59 L291.45,155.63 L291.66,155.68 L291.87,155.73 L292.08,155.78 L292.29,155.83 L292.51,155.88 L292.72,155.93 L292.93,155.98 L293.14,156.02 L293.35,156.07 L293.56,156.12 L293.77,156.17 L293.99,156.22 L294.20,156.26 L294.41,156.31 L294.62,156.36 L294.83,156.41 L295.04,156.45 L295.26,156.50 L295.47,156.55 L295.68,156.60 L295.89,156.64 L296.10,156.69 L296.31,156.74 L296.52,156.78 L296.74,156.83 L296.95,156.88 L297.16,156.92 L297.37,156.97 L297.58,157.01 L297.79,157.06 L298.00,157.11 L298.22,157.15 L298.43,157.20 L298.64,157.24 L298.85,157.29 L299.06,157.33 L299.27,157.38 L299.49,157.43 L299.70,157.47 L299.91,157.52 L300.12,157.56 L300.33,157.61 L300.54,157.65 L300.75,157.69 L300.97,157.74 L301.18,157.78 L301.39,157.83 L301.60,157.87 L301.81,157.92 L302.02,157.96 L302.23,158.01 L302.45,158.05 L302.66,158.09 L302.87,158.14 L303.08,158.18 L303.29,158.22 L303.50,158.27 L303.72,158.31 L303.93,158.35 L304.14,158.40 L304.35,158.44 L304.56,158.48 L304.77,158.53 L304.98,158.57 L305.20,158.61 L305.41,158.66 L305.62,158.70 L305.83,158.74 L306.04,158.78 L306.25,158.83 L306.46,158.87 L306.68,158.91 L306.89,158.95 L307.10,159.00 L307.31,159.04 L307.52,159.08 L307.73,159.12 L307.95,159.16 L308.16,159.20 L308.37,159.25 L308.58,159.29 L308.79,159.33 L309.00,159.37 L309.21,159.41 L309.43,159.45 L309.64,159.49 L309.85,159.54 L310.06,159.58 L310.27,159.62 L310.48,159.66 L310.69,159.70 L310.91,159.74 L311.12,159.78 L311.33,159.82 L311.54,159.86 L311.75,159.90 L311.96,159.94 L312.18,159.98 L312.39,160.02 L312.60,160.06 L312.81,160.10 L313.02,160.14 L313.23,160.18 L313.44,160.22 L313.66,160.26 L313.87,160.30 L314.08,160.34 L314.29,160.38 L314.50,160.42 L314.71,160.46 L314.92,160.50 L315.14,160.54 L315.35,160.58 L315.56,160.62 L315.77,160.66 L315.98,160.69 L316.19,160.73 L316.41,160.77 L316.62,160.81 L316.83,160.85 L317.04,160.89 L317.25,160.93 L317.46,160.97 L317.67,161.00 L317.89,161.04 L318.10,161.08 L318.31,161.12 L318.52,161.16 L318.73,161.20 L318.94,161.23 L319.15,161.27 L319.37,161.31 L319.58,161.35 L319.79,161.38 L320.00,161.42 L320.21,161.46 L320.42,161.50 L320.64,161.53 L320.85,161.57 L321.06,161.61 L321.27,161.65 L321.48,161.68 L321.69,161.72 L321.90,161.76 L322.12,161.80 L322.33,161.83 L322.54,161.87 L322.75,161.91 L322.96,161.94 L323.17,161.98 L323.38,162.02 L323.60,162.05 L323.81,162.09 L324.02,162.13 L324.23,162.16 L324.44,162.20 L324.65,162.24 L324.87,162.27 L325.08,162.31 L325.29,162.34 L325.50,162.38" fill="none" stroke="#111" stroke-width="1.1"/>
<path d="M153.5,28 V168.0" fill="none" stroke="#2d3535" stroke-width="1.2"/>
<path d="M152.9,167.5 H325.5" fill="none" stroke="#2d3535" stroke-width="1.1"/>
<path d="M152.2,28.85 H153.5" stroke="#2d3535" stroke-width="0.8"/>
<path d="M150.9,37.50 H153.5" stroke="#2d3535" stroke-width="1"/>
<text transform="translate(136.86,40.40) scale(1.0357,1)" font-size="8.40" font-weight="bold" fill="#333" font-family="Liberation Sans, sans-serif">1,0</text>
<path d="M152.2,46.15 H153.5" stroke="#2d3535" stroke-width="0.8"/>
<path d="M150.9,54.80 H153.5" stroke="#2d3535" stroke-width="1"/>
<text transform="translate(136.83,57.70) scale(1.0357,1)" font-size="8.40" font-weight="bold" fill="#333" font-family="Liberation Sans, sans-serif">0,9</text>
<path d="M152.2,63.45 H153.5" stroke="#2d3535" stroke-width="0.8"/>
<path d="M150.9,72.10 H153.5" stroke="#2d3535" stroke-width="1"/>
<text transform="translate(136.77,75.00) scale(1.0357,1)" font-size="8.40" font-weight="bold" fill="#333" font-family="Liberation Sans, sans-serif">0,8</text>
<path d="M152.2,80.75 H153.5" stroke="#2d3535" stroke-width="0.8"/>
<path d="M150.9,89.40 H153.5" stroke="#2d3535" stroke-width="1"/>
<text transform="translate(136.89,92.30) scale(1.0357,1)" font-size="8.40" font-weight="bold" fill="#333" font-family="Liberation Sans, sans-serif">0,7</text>
<path d="M152.2,98.05 H153.5" stroke="#2d3535" stroke-width="0.8"/>
<path d="M150.9,106.70 H153.5" stroke="#2d3535" stroke-width="1"/>
<text transform="translate(136.82,109.60) scale(1.0357,1)" font-size="8.40" font-weight="bold" fill="#333" font-family="Liberation Sans, sans-serif">0,6</text>
<path d="M152.2,115.35 H153.5" stroke="#2d3535" stroke-width="0.8"/>
<path d="M150.9,124.00 H153.5" stroke="#2d3535" stroke-width="1"/>
<text transform="translate(136.75,126.90) scale(1.0357,1)" font-size="8.40" font-weight="bold" fill="#333" font-family="Liberation Sans, sans-serif">0,5</text>
<path d="M152.2,132.65 H153.5" stroke="#2d3535" stroke-width="0.8"/>
<path d="M150.9,141.30 H153.5" stroke="#2d3535" stroke-width="1"/>
<text transform="translate(136.55,144.20) scale(1.0357,1)" font-size="8.40" font-weight="bold" fill="#333" font-family="Liberation Sans, sans-serif">0,4</text>
<path d="M152.2,149.95 H153.5" stroke="#2d3535" stroke-width="0.8"/>
<path d="M150.9,158.60 H153.5" stroke="#2d3535" stroke-width="1"/>
<text transform="translate(136.82,161.50) scale(1.0357,1)" font-size="8.40" font-weight="bold" fill="#333" font-family="Liberation Sans, sans-serif">0,3</text>
<path d="M153.50,167.5 V169.5" stroke="#2d3535" stroke-width="1"/>
<text transform="translate(147.53,178.90) scale(0.9885,1)" font-size="8.70" font-weight="bold" fill="#333" font-family="Liberation Sans, sans-serif">0,0</text>
<path d="M175.00,167.5 V168.8" stroke="#2d3535" stroke-width="0.8"/>
<path d="M196.50,167.5 V169.5" stroke="#2d3535" stroke-width="1"/>
<text transform="translate(185.78,178.90) scale(0.9885,1)" font-size="8.70" font-weight="bold" fill="#333" font-family="Liberation Sans, sans-serif">50,0µ</text>
<path d="M218.00,167.5 V168.8" stroke="#2d3535" stroke-width="0.8"/>
<path d="M239.50,167.5 V169.5" stroke="#2d3535" stroke-width="1"/>
<text transform="translate(226.25,178.90) scale(0.9885,1)" font-size="8.70" font-weight="bold" fill="#333" font-family="Liberation Sans, sans-serif">100,0µ</text>
<path d="M261.00,167.5 V168.8" stroke="#2d3535" stroke-width="0.8"/>
<path d="M282.50,167.5 V169.5" stroke="#2d3535" stroke-width="1"/>
<text transform="translate(269.25,178.90) scale(0.9885,1)" font-size="8.70" font-weight="bold" fill="#333" font-family="Liberation Sans, sans-serif">150,0µ</text>
<path d="M304.00,167.5 V168.8" stroke="#2d3535" stroke-width="0.8"/>
<path d="M325.50,167.5 V169.5" stroke="#2d3535" stroke-width="1"/>
<text transform="translate(312.37,178.90) scale(0.9885,1)" font-size="8.70" font-weight="bold" fill="#333" font-family="Liberation Sans, sans-serif">200,0µ</text>
<text transform="translate(303.45,59.69) scale(0.8648,1)" font-size="21.90" font-weight="bold" fill="#000" font-family="Liberation Sans, sans-serif">a</text>
<circle cx="551.60" cy="32.40" r="2.05" fill="#0808f8"/>
<circle cx="552.16" cy="34.23" r="2.05" fill="#0808f8"/>
<circle cx="552.81" cy="36.31" r="2.05" fill="#0808f8"/>
<circle cx="553.57" cy="38.66" r="2.05" fill="#0808f8"/>
<circle cx="554.44" cy="41.31" r="2.05" fill="#0808f8"/>
<circle cx="555.46" cy="44.29" r="2.05" fill="#0808f8"/>
<circle cx="556.63" cy="47.62" r="2.05" fill="#0808f8"/>
<circle cx="558.00" cy="51.33" r="2.05" fill="#0808f8"/>
<circle cx="559.58" cy="55.41" r="2.05" fill="#0808f8"/>
<circle cx="561.42" cy="59.89" r="2.05" fill="#0808f8"/>
<circle cx="563.55" cy="64.76" r="2.05" fill="#0808f8"/>
<circle cx="566.02" cy="69.99" r="2.05" fill="#0808f8"/>
<circle cx="568.89" cy="75.57" r="2.05" fill="#0808f8"/>
<circle cx="572.22" cy="81.45" r="2.05" fill="#0808f8"/>
<circle cx="576.08" cy="87.56" r="2.05" fill="#0808f8"/>
<circle cx="580.56" cy="93.82" r="2.05" fill="#0808f8"/>
<circle cx="585.75" cy="100.16" r="2.05" fill="#0808f8"/>
<circle cx="591.77" cy="106.48" r="2.05" fill="#0808f8"/>
<circle cx="598.76" cy="112.71" r="2.05" fill="#0808f8"/>
<circle cx="606.86" cy="118.77" r="2.05" fill="#0808f8"/>
<circle cx="616.27" cy="124.64" r="2.05" fill="#0808f8"/>
<circle cx="627.17" cy="130.31" r="2.05" fill="#0808f8"/>
<circle cx="639.83" cy="135.81" r="2.05" fill="#0808f8"/>
<circle cx="654.50" cy="141.18" r="2.05" fill="#0808f8"/>
<circle cx="671.53" cy="146.48" r="2.05" fill="#0808f8"/>
<circle cx="691.27" cy="151.76" r="2.05" fill="#0808f8"/>
<circle cx="714.18" cy="157.04" r="2.05" fill="#0808f8"/>
<path d="M551.16,30.94 L551.38,31.66 L551.59,32.37 L551.81,33.08 L552.03,33.78 L552.24,34.48 L552.46,35.17 L552.67,35.86 L552.89,36.54 L553.10,37.21 L553.32,37.89 L553.53,38.55 L553.75,39.21 L553.96,39.87 L554.18,40.52 L554.39,41.17 L554.61,41.81 L554.82,42.45 L555.04,43.08 L555.26,43.71 L555.47,44.33 L555.69,44.95 L555.90,45.57 L556.12,46.18 L556.33,46.78 L556.55,47.38 L556.76,47.98 L556.98,48.57 L557.19,49.16 L557.41,49.74 L557.62,50.32 L557.84,50.90 L558.05,51.47 L558.27,52.04 L558.48,52.60 L558.70,53.16 L558.92,53.71 L559.13,54.27 L559.35,54.81 L559.56,55.36 L559.78,55.90 L559.99,56.43 L560.21,56.96 L560.42,57.49 L560.64,58.01 L560.85,58.53 L561.07,59.05 L561.28,59.56 L561.50,60.07 L561.71,60.58 L561.93,61.08 L562.15,61.58 L562.36,62.08 L562.58,62.57 L562.79,63.06 L563.01,63.54 L563.22,64.02 L563.44,64.50 L563.65,64.98 L563.87,65.45 L564.08,65.92 L564.30,66.38 L564.51,66.84 L564.73,67.30 L564.94,67.76 L565.16,68.21 L565.37,68.66 L565.59,69.10 L565.81,69.55 L566.02,69.99 L566.24,70.42 L566.45,70.86 L566.67,71.29 L566.88,71.72 L567.10,72.14 L567.31,72.56 L567.53,72.98 L567.74,73.40 L567.96,73.81 L568.17,74.22 L568.39,74.63 L568.60,75.04 L568.82,75.44 L569.04,75.84 L569.25,76.24 L569.47,76.63 L569.68,77.02 L569.90,77.41 L570.11,77.80 L570.33,78.18 L570.54,78.56 L570.76,78.94 L570.97,79.32 L571.19,79.69 L571.40,80.06 L571.62,80.43 L571.83,80.80 L572.05,81.16 L572.27,81.53 L572.48,81.88 L572.70,82.24 L572.91,82.60 L573.13,82.95 L573.34,83.30 L573.56,83.65 L573.77,83.99 L573.99,84.34 L574.20,84.68 L574.42,85.02 L574.63,85.35 L574.85,85.69 L575.06,86.02 L575.28,86.35 L575.49,86.68 L575.71,87.00 L575.93,87.33 L576.14,87.65 L576.36,87.97 L576.57,88.29 L576.79,88.60 L577.00,88.92 L577.22,89.23 L577.43,89.54 L577.65,89.85 L577.86,90.15 L578.08,90.46 L578.29,90.76 L578.51,91.06 L578.72,91.36 L578.94,91.66 L579.16,91.95 L579.37,92.24 L579.59,92.53 L579.80,92.82 L580.02,93.11 L580.23,93.40 L580.45,93.68 L580.66,93.96 L580.88,94.24 L581.09,94.52 L581.31,94.80 L581.52,95.08 L581.74,95.35 L581.95,95.62 L582.17,95.89 L582.38,96.16 L582.60,96.43 L582.82,96.69 L583.03,96.96 L583.25,97.22 L583.46,97.48 L583.68,97.74 L583.89,98.00 L584.11,98.26 L584.32,98.51 L584.54,98.76 L584.75,99.02 L584.97,99.27 L585.18,99.51 L585.40,99.76 L585.61,100.01 L585.83,100.25 L586.05,100.50 L586.26,100.74 L586.48,100.98 L586.69,101.22 L586.91,101.45 L587.12,101.69 L587.34,101.93 L587.55,102.16 L587.77,102.39 L587.98,102.62 L588.20,102.85 L588.41,103.08 L588.63,103.31 L588.84,103.53 L589.06,103.76 L589.27,103.98 L589.49,104.20 L589.71,104.42 L589.92,104.64 L590.14,104.86 L590.35,105.08 L590.57,105.29 L590.78,105.51 L591.00,105.72 L591.21,105.94 L591.43,106.15 L591.64,106.36 L591.86,106.57 L592.07,106.77 L592.29,106.98 L592.50,107.19 L592.72,107.39 L592.94,107.59 L593.15,107.80 L593.37,108.00 L593.58,108.20 L593.80,108.40 L594.01,108.59 L594.23,108.79 L594.44,108.99 L594.66,109.18 L594.87,109.37 L595.09,109.57 L595.30,109.76 L595.52,109.95 L595.73,110.14 L595.95,110.33 L596.16,110.52 L596.38,110.70 L596.60,110.89 L596.81,111.07 L597.03,111.26 L597.24,111.44 L597.46,111.62 L597.67,111.80 L597.89,111.99 L598.10,112.16 L598.32,112.34 L598.53,112.52 L598.75,112.70 L598.96,112.87 L599.18,113.05 L599.39,113.22 L599.61,113.40 L599.83,113.57 L600.04,113.74 L600.26,113.91 L600.47,114.08 L600.69,114.25 L600.90,114.42 L601.12,114.58 L601.33,114.75 L601.55,114.92 L601.76,115.08 L601.98,115.25 L602.19,115.41 L602.41,115.57 L602.62,115.73 L602.84,115.89 L603.05,116.06 L603.27,116.21 L603.49,116.37 L603.70,116.53 L603.92,116.69 L604.13,116.85 L604.35,117.00 L604.56,117.16 L604.78,117.31 L604.99,117.46 L605.21,117.62 L605.42,117.77 L605.64,117.92 L605.85,118.07 L606.07,118.22 L606.28,118.37 L606.50,118.52 L606.72,118.67 L606.93,118.82 L607.15,118.96 L607.36,119.11 L607.58,119.26 L607.79,119.40 L608.01,119.54 L608.22,119.69 L608.44,119.83 L608.65,119.97 L608.87,120.12 L609.08,120.26 L609.30,120.40 L609.51,120.54 L609.73,120.68 L609.94,120.82 L610.16,120.95 L610.38,121.09 L610.59,121.23 L610.81,121.36 L611.02,121.50 L611.24,121.64 L611.45,121.77 L611.67,121.90 L611.88,122.04 L612.10,122.17 L612.31,122.30 L612.53,122.44 L612.74,122.57 L612.96,122.70 L613.17,122.83 L613.39,122.96 L613.61,123.09 L613.82,123.22 L614.04,123.34 L614.25,123.47 L614.47,123.60 L614.68,123.72 L614.90,123.85 L615.11,123.98 L615.33,124.10 L615.54,124.23 L615.76,124.35 L615.97,124.47 L616.19,124.60 L616.40,124.72 L616.62,124.84 L616.83,124.96 L617.05,125.08 L617.27,125.21 L617.48,125.33 L617.70,125.45 L617.91,125.57 L618.13,125.68 L618.34,125.80 L618.56,125.92 L618.77,126.04 L618.99,126.16 L619.20,126.27 L619.42,126.39 L619.63,126.50 L619.85,126.62 L620.06,126.73 L620.28,126.85 L620.50,126.96 L620.71,127.08 L620.93,127.19 L621.14,127.30 L621.36,127.42 L621.57,127.53 L621.79,127.64 L622.00,127.75 L622.22,127.86 L622.43,127.97 L622.65,128.08 L622.86,128.19 L623.08,128.30 L623.29,128.41 L623.51,128.52 L623.73,128.63 L623.94,128.74 L624.16,128.84 L624.37,128.95 L624.59,129.06 L624.80,129.16 L625.02,129.27 L625.23,129.37 L625.45,129.48 L625.66,129.58 L625.88,129.69 L626.09,129.79 L626.31,129.90 L626.52,130.00 L626.74,130.10 L626.95,130.21 L627.17,130.31 L627.39,130.41 L627.60,130.51 L627.82,130.61 L628.03,130.72 L628.25,130.82 L628.46,130.92 L628.68,131.02 L628.89,131.12 L629.11,131.22 L629.32,131.32 L629.54,131.41 L629.75,131.51 L629.97,131.61 L630.18,131.71 L630.40,131.81 L630.62,131.90 L630.83,132.00 L631.05,132.10 L631.26,132.19 L631.48,132.29 L631.69,132.39 L631.91,132.48 L632.12,132.58 L632.34,132.67 L632.55,132.77 L632.77,132.86 L632.98,132.96 L633.20,133.05 L633.41,133.14 L633.63,133.24 L633.84,133.33 L634.06,133.42 L634.28,133.51 L634.49,133.61 L634.71,133.70 L634.92,133.79 L635.14,133.88 L635.35,133.97 L635.57,134.06 L635.78,134.15 L636.00,134.24 L636.21,134.33 L636.43,134.42 L636.64,134.51 L636.86,134.60 L637.07,134.69 L637.29,134.78 L637.51,134.87 L637.72,134.96 L637.94,135.04 L638.15,135.13 L638.37,135.22 L638.58,135.31 L638.80,135.39 L639.01,135.48 L639.23,135.57 L639.44,135.65 L639.66,135.74 L639.87,135.83 L640.09,135.91 L640.30,136.00 L640.52,136.08 L640.73,136.17 L640.95,136.25 L641.17,136.34 L641.38,136.42 L641.60,136.50 L641.81,136.59 L642.03,136.67 L642.24,136.76 L642.46,136.84 L642.67,136.92 L642.89,137.00 L643.10,137.09 L643.32,137.17 L643.53,137.25 L643.75,137.33 L643.96,137.41 L644.18,137.50 L644.40,137.58 L644.61,137.66 L644.83,137.74 L645.04,137.82 L645.26,137.90 L645.47,137.98 L645.69,138.06 L645.90,138.14 L646.12,138.22 L646.33,138.30 L646.55,138.38 L646.76,138.46 L646.98,138.54 L647.19,138.61 L647.41,138.69 L647.62,138.77 L647.84,138.85 L648.06,138.93 L648.27,139.01 L648.49,139.08 L648.70,139.16 L648.92,139.24 L649.13,139.31 L649.35,139.39 L649.56,139.47 L649.78,139.54 L649.99,139.62 L650.21,139.70 L650.42,139.77 L650.64,139.85 L650.85,139.92 L651.07,140.00 L651.29,140.07 L651.50,140.15 L651.72,140.22 L651.93,140.30 L652.15,140.37 L652.36,140.45 L652.58,140.52 L652.79,140.60 L653.01,140.67 L653.22,140.74 L653.44,140.82 L653.65,140.89 L653.87,140.96 L654.08,141.04 L654.30,141.11 L654.51,141.18 L654.73,141.25 L654.95,141.33 L655.16,141.40 L655.38,141.47 L655.59,141.54 L655.81,141.62 L656.02,141.69 L656.24,141.76 L656.45,141.83 L656.67,141.90 L656.88,141.97 L657.10,142.04 L657.31,142.11 L657.53,142.18 L657.74,142.25 L657.96,142.32 L658.18,142.39 L658.39,142.46 L658.61,142.53 L658.82,142.60 L659.04,142.67 L659.25,142.74 L659.47,142.81 L659.68,142.88 L659.90,142.95 L660.11,143.02 L660.33,143.09 L660.54,143.16 L660.76,143.22 L660.97,143.29 L661.19,143.36 L661.40,143.43 L661.62,143.50 L661.84,143.56 L662.05,143.63 L662.27,143.70 L662.48,143.77 L662.70,143.83 L662.91,143.90 L663.13,143.97 L663.34,144.04 L663.56,144.10 L663.77,144.17 L663.99,144.23 L664.20,144.30 L664.42,144.37 L664.63,144.43 L664.85,144.50 L665.07,144.56 L665.28,144.63 L665.50,144.70 L665.71,144.76 L665.93,144.83 L666.14,144.89 L666.36,144.96 L666.57,145.02 L666.79,145.09 L667.00,145.15 L667.22,145.22 L667.43,145.28 L667.65,145.34 L667.86,145.41 L668.08,145.47 L668.29,145.54 L668.51,145.60 L668.73,145.66 L668.94,145.73 L669.16,145.79 L669.37,145.85 L669.59,145.92 L669.80,145.98 L670.02,146.04 L670.23,146.11 L670.45,146.17 L670.66,146.23 L670.88,146.29 L671.09,146.36 L671.31,146.42 L671.52,146.48 L671.74,146.54 L671.96,146.61 L672.17,146.67 L672.39,146.73 L672.60,146.79 L672.82,146.85 L673.03,146.91 L673.25,146.97 L673.46,147.04 L673.68,147.10 L673.89,147.16 L674.11,147.22 L674.32,147.28 L674.54,147.34 L674.75,147.40 L674.97,147.46 L675.19,147.52 L675.40,147.58 L675.62,147.64 L675.83,147.70 L676.05,147.76 L676.26,147.82 L676.48,147.88 L676.69,147.94 L676.91,148.00 L677.12,148.06 L677.34,148.12 L677.55,148.18 L677.77,148.24 L677.98,148.30 L678.20,148.36 L678.41,148.41 L678.63,148.47 L678.85,148.53 L679.06,148.59 L679.28,148.65 L679.49,148.71 L679.71,148.77 L679.92,148.82 L680.14,148.88 L680.35,148.94 L680.57,149.00 L680.78,149.06 L681.00,149.11 L681.21,149.17 L681.43,149.23 L681.64,149.29 L681.86,149.34 L682.08,149.40 L682.29,149.46 L682.51,149.51 L682.72,149.57 L682.94,149.63 L683.15,149.69 L683.37,149.74 L683.58,149.80 L683.80,149.85 L684.01,149.91 L684.23,149.97 L684.44,150.02 L684.66,150.08 L684.87,150.14 L685.09,150.19 L685.30,150.25 L685.52,150.30 L685.74,150.36 L685.95,150.41 L686.17,150.47 L686.38,150.53 L686.60,150.58 L686.81,150.64 L687.03,150.69 L687.24,150.75 L687.46,150.80 L687.67,150.86 L687.89,150.91 L688.10,150.97 L688.32,151.02 L688.53,151.08 L688.75,151.13 L688.97,151.18 L689.18,151.24 L689.40,151.29 L689.61,151.35 L689.83,151.40 L690.04,151.45 L690.26,151.51 L690.47,151.56 L690.69,151.62 L690.90,151.67 L691.12,151.72 L691.33,151.78 L691.55,151.83 L691.76,151.88 L691.98,151.94 L692.19,151.99 L692.41,152.04 L692.63,152.10 L692.84,152.15 L693.06,152.20 L693.27,152.26 L693.49,152.31 L693.70,152.36 L693.92,152.41 L694.13,152.47 L694.35,152.52 L694.56,152.57 L694.78,152.62 L694.99,152.67 L695.21,152.73 L695.42,152.78 L695.64,152.83 L695.86,152.88 L696.07,152.93 L696.29,152.99 L696.50,153.04 L696.72,153.09 L696.93,153.14 L697.15,153.19 L697.36,153.24 L697.58,153.29 L697.79,153.35 L698.01,153.40 L698.22,153.45 L698.44,153.50 L698.65,153.55 L698.87,153.60 L699.08,153.65 L699.30,153.70 L699.52,153.75 L699.73,153.80 L699.95,153.85 L700.16,153.90 L700.38,153.95 L700.59,154.00 L700.81,154.05 L701.02,154.10 L701.24,154.15 L701.45,154.20 L701.67,154.25 L701.88,154.30 L702.10,154.35 L702.31,154.40 L702.53,154.45 L702.75,154.50 L702.96,154.55 L703.18,154.60 L703.39,154.65 L703.61,154.70 L703.82,154.75 L704.04,154.80 L704.25,154.85 L704.47,154.90 L704.68,154.95 L704.90,154.99 L705.11,155.04 L705.33,155.09 L705.54,155.14 L705.76,155.19 L705.97,155.24 L706.19,155.29 L706.41,155.33 L706.62,155.38 L706.84,155.43 L707.05,155.48 L707.27,155.53 L707.48,155.58 L707.70,155.62 L707.91,155.67 L708.13,155.72 L708.34,155.77 L708.56,155.81 L708.77,155.86 L708.99,155.91 L709.20,155.96 L709.42,156.01 L709.64,156.05 L709.85,156.10 L710.07,156.15 L710.28,156.19 L710.50,156.24 L710.71,156.29 L710.93,156.34 L711.14,156.38 L711.36,156.43 L711.57,156.48 L711.79,156.52 L712.00,156.57 L712.22,156.62 L712.43,156.66 L712.65,156.71 L712.86,156.76 L713.08,156.80 L713.30,156.85 L713.51,156.89 L713.73,156.94 L713.94,156.99 L714.16,157.03 L714.37,157.08 L714.59,157.12 L714.80,157.17 L715.02,157.22 L715.23,157.26 L715.45,157.31 L715.66,157.35 L715.88,157.40 L716.09,157.44 L716.31,157.49 L716.53,157.54 L716.74,157.58 L716.96,157.63 L717.17,157.67 L717.39,157.72 L717.60,157.76 L717.82,157.81 L718.03,157.85 L718.25,157.90 L718.46,157.94 L718.68,157.99 L718.89,158.03 L719.11,158.08 L719.32,158.12 L719.54,158.17 L719.75,158.21 L719.97,158.25 L720.19,158.30 L720.40,158.34 L720.62,158.39 L720.83,158.43 L721.05,158.48 L721.26,158.52 L721.48,158.56 L721.69,158.61 L721.91,158.65 L722.12,158.70 L722.34,158.74 L722.55,158.78 L722.77,158.83 L722.98,158.87 L723.20,158.91" fill="none" stroke="#111" stroke-width="1.1"/>
<path d="M547.9,22.2 V163.9" fill="none" stroke="#8a9090" stroke-width="1.2"/>
<path d="M547.3,163.4 H723.2" fill="none" stroke="#2d3535" stroke-width="1.1"/>
<path d="M546.6,22.35 H547.9" stroke="#2d3535" stroke-width="0.8"/>
<path d="M545.3,32.40 H547.9" stroke="#2d3535" stroke-width="1"/>
<text transform="translate(531.36,35.00) scale(1.0357,1)" font-size="8.40" font-weight="bold" fill="#333" font-family="Liberation Sans, sans-serif">1,0</text>
<path d="M546.6,42.45 H547.9" stroke="#2d3535" stroke-width="0.8"/>
<path d="M545.3,52.50 H547.9" stroke="#2d3535" stroke-width="1"/>
<text transform="translate(531.33,55.10) scale(1.0357,1)" font-size="8.40" font-weight="bold" fill="#333" font-family="Liberation Sans, sans-serif">0,9</text>
<path d="M546.6,62.55 H547.9" stroke="#2d3535" stroke-width="0.8"/>
<path d="M545.3,72.60 H547.9" stroke="#2d3535" stroke-width="1"/>
<text transform="translate(531.27,75.20) scale(1.0357,1)" font-size="8.40" font-weight="bold" fill="#333" font-family="Liberation Sans, sans-serif">0,8</text>
<path d="M546.6,82.65 H547.9" stroke="#2d3535" stroke-width="0.8"/>
<path d="M545.3,92.70 H547.9" stroke="#2d3535" stroke-width="1"/>
<text transform="translate(531.39,95.30) scale(1.0357,1)" font-size="8.40" font-weight="bold" fill="#333" font-family="Liberation Sans, sans-serif">0,7</text>
<path d="M546.6,102.75 H547.9" stroke="#2d3535" stroke-width="0.8"/>
<path d="M545.3,112.80 H547.9" stroke="#2d3535" stroke-width="1"/>
<text transform="translate(531.32,115.40) scale(1.0357,1)" font-size="8.40" font-weight="bold" fill="#333" font-family="Liberation Sans, sans-serif">0,6</text>
<path d="M546.6,122.85 H547.9" stroke="#2d3535" stroke-width="0.8"/>
<path d="M545.3,132.90 H547.9" stroke="#2d3535" stroke-width="1"/>
<text transform="translate(531.25,135.50) scale(1.0357,1)" font-size="8.40" font-weight="bold" fill="#333" font-family="Liberation Sans, sans-serif">0,5</text>
<path d="M546.6,142.95 H547.9" stroke="#2d3535" stroke-width="0.8"/>
<path d="M545.3,153.00 H547.9" stroke="#2d3535" stroke-width="1"/>
<text transform="translate(531.05,155.60) scale(1.0357,1)" font-size="8.40" font-weight="bold" fill="#333" font-family="Liberation Sans, sans-serif">0,4</text>
<path d="M548.10,163.4 V165.4" stroke="#2d3535" stroke-width="1"/>
<text transform="translate(542.06,174.60) scale(0.9775,1)" font-size="8.90" font-weight="bold" fill="#333" font-family="Liberation Sans, sans-serif">0,0</text>
<path d="M569.99,163.4 V164.70000000000002" stroke="#2d3535" stroke-width="0.8"/>
<path d="M591.88,163.4 V165.4" stroke="#2d3535" stroke-width="1"/>
<text transform="translate(581.03,174.60) scale(0.9775,1)" font-size="8.90" font-weight="bold" fill="#333" font-family="Liberation Sans, sans-serif">50,0µ</text>
<path d="M613.76,163.4 V164.70000000000002" stroke="#2d3535" stroke-width="0.8"/>
<path d="M635.65,163.4 V165.4" stroke="#2d3535" stroke-width="1"/>
<text transform="translate(622.25,174.60) scale(0.9775,1)" font-size="8.90" font-weight="bold" fill="#333" font-family="Liberation Sans, sans-serif">100,0µ</text>
<path d="M657.54,163.4 V164.70000000000002" stroke="#2d3535" stroke-width="0.8"/>
<path d="M679.42,163.4 V165.4" stroke="#2d3535" stroke-width="1"/>
<text transform="translate(666.02,174.60) scale(0.9775,1)" font-size="8.90" font-weight="bold" fill="#333" font-family="Liberation Sans, sans-serif">150,0µ</text>
<path d="M701.31,163.4 V164.70000000000002" stroke="#2d3535" stroke-width="0.8"/>
<path d="M723.20,163.4 V165.4" stroke="#2d3535" stroke-width="1"/>
<text transform="translate(709.92,174.60) scale(0.9775,1)" font-size="8.90" font-weight="bold" fill="#333" font-family="Liberation Sans, sans-serif">200,0µ</text>
<text transform="translate(703.11,59.69) scale(1.0515,1)" font-size="21.51" font-weight="bold" fill="#000" font-family="Liberation Sans, sans-serif">b</text>
</svg>
</body></html>
